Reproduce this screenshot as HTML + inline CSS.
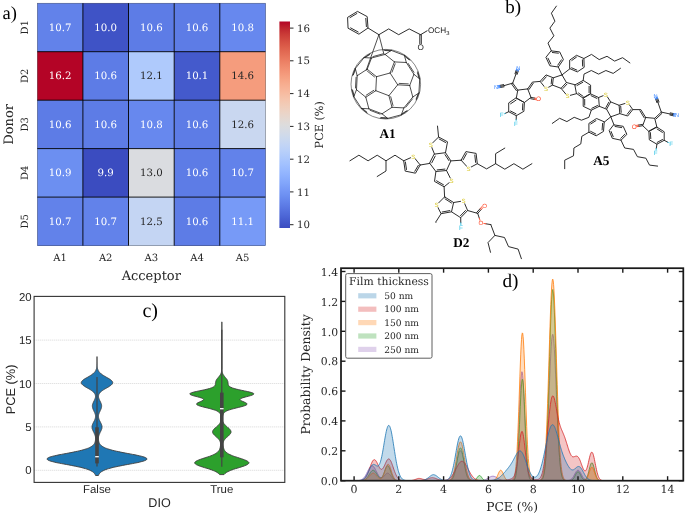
<!DOCTYPE html>
<html lang="en"><head><meta charset="utf-8"><title>Figure: PCE heatmap, molecules, DIO violin, film thickness KDE</title>
<style>html,body{margin:0;padding:0;background:#fff;}body{width:685px;height:513px;overflow:hidden;}svg{display:block;}#fig{width:685px;height:513px;will-change:transform;}text{white-space:pre;text-rendering:geometricPrecision;}</style>
</head><body>
<div id="fig">
<svg width="685" height="513" viewBox="0 0 685 513">
<g id="heat">
<rect x="37.3" y="3.2" width="45.9" height="48.8" fill="#6282ea"/>
<rect x="82.9" y="3.2" width="45.9" height="48.8" fill="#3f53c6"/>
<rect x="128.5" y="3.2" width="45.9" height="48.8" fill="#5d7ce6"/>
<rect x="174.2" y="3.2" width="45.9" height="48.8" fill="#5d7ce6"/>
<rect x="219.8" y="3.2" width="45.9" height="48.8" fill="#6788ee"/>
<rect x="37.3" y="51.7" width="45.9" height="48.8" fill="#b40426"/>
<rect x="82.9" y="51.7" width="45.9" height="48.8" fill="#5d7ce6"/>
<rect x="128.5" y="51.7" width="45.9" height="48.8" fill="#afcafc"/>
<rect x="174.2" y="51.7" width="45.9" height="48.8" fill="#445acc"/>
<rect x="219.8" y="51.7" width="45.9" height="48.8" fill="#f59c7d"/>
<rect x="37.3" y="100.2" width="45.9" height="48.8" fill="#5d7ce6"/>
<rect x="82.9" y="100.2" width="45.9" height="48.8" fill="#5d7ce6"/>
<rect x="128.5" y="100.2" width="45.9" height="48.8" fill="#6788ee"/>
<rect x="174.2" y="100.2" width="45.9" height="48.8" fill="#5d7ce6"/>
<rect x="219.8" y="100.2" width="45.9" height="48.8" fill="#c9d7f0"/>
<rect x="37.3" y="148.6" width="45.9" height="48.8" fill="#6c8ff1"/>
<rect x="82.9" y="148.6" width="45.9" height="48.8" fill="#3b4cc0"/>
<rect x="128.5" y="148.6" width="45.9" height="48.8" fill="#dadce0"/>
<rect x="174.2" y="148.6" width="45.9" height="48.8" fill="#5d7ce6"/>
<rect x="219.8" y="148.6" width="45.9" height="48.8" fill="#6282ea"/>
<rect x="37.3" y="197.1" width="45.9" height="48.8" fill="#6282ea"/>
<rect x="82.9" y="197.1" width="45.9" height="48.8" fill="#6282ea"/>
<rect x="128.5" y="197.1" width="45.9" height="48.8" fill="#c4d5f3"/>
<rect x="174.2" y="197.1" width="45.9" height="48.8" fill="#5d7ce6"/>
<rect x="219.8" y="197.1" width="45.9" height="48.8" fill="#779af7"/>
<line x1="82.9" y1="3.2" x2="82.9" y2="245.6" stroke="#000" stroke-width="0.9"/>
<line x1="37.3" y1="51.7" x2="265.4" y2="51.7" stroke="#000" stroke-width="0.9"/>
<line x1="128.5" y1="3.2" x2="128.5" y2="245.6" stroke="#000" stroke-width="0.9"/>
<line x1="37.3" y1="100.2" x2="265.4" y2="100.2" stroke="#000" stroke-width="0.9"/>
<line x1="174.2" y1="3.2" x2="174.2" y2="245.6" stroke="#000" stroke-width="0.9"/>
<line x1="37.3" y1="148.6" x2="265.4" y2="148.6" stroke="#000" stroke-width="0.9"/>
<line x1="219.8" y1="3.2" x2="219.8" y2="245.6" stroke="#000" stroke-width="0.9"/>
<line x1="37.3" y1="197.1" x2="265.4" y2="197.1" stroke="#000" stroke-width="0.9"/>
<rect x="37.3" y="3.2" width="228.1" height="242.4" fill="none" stroke="#000" stroke-width="0.5" stroke-opacity="0.55"/>
<text x="60.1" y="30.9" font-family='"DejaVu Serif", "Liberation Serif", serif' font-size="10.2" text-anchor="middle" fill="#ffffff">10.7</text>
<text x="105.7" y="30.9" font-family='"DejaVu Serif", "Liberation Serif", serif' font-size="10.2" text-anchor="middle" fill="#ffffff">10.0</text>
<text x="151.3" y="30.9" font-family='"DejaVu Serif", "Liberation Serif", serif' font-size="10.2" text-anchor="middle" fill="#ffffff">10.6</text>
<text x="197" y="30.9" font-family='"DejaVu Serif", "Liberation Serif", serif' font-size="10.2" text-anchor="middle" fill="#ffffff">10.6</text>
<text x="242.6" y="30.9" font-family='"DejaVu Serif", "Liberation Serif", serif' font-size="10.2" text-anchor="middle" fill="#ffffff">10.8</text>
<text x="60.1" y="79.4" font-family='"DejaVu Serif", "Liberation Serif", serif' font-size="10.2" text-anchor="middle" fill="#ffffff">16.2</text>
<text x="105.7" y="79.4" font-family='"DejaVu Serif", "Liberation Serif", serif' font-size="10.2" text-anchor="middle" fill="#ffffff">10.6</text>
<text x="151.3" y="79.4" font-family='"DejaVu Serif", "Liberation Serif", serif' font-size="10.2" text-anchor="middle" fill="#262626">12.1</text>
<text x="197" y="79.4" font-family='"DejaVu Serif", "Liberation Serif", serif' font-size="10.2" text-anchor="middle" fill="#ffffff">10.1</text>
<text x="242.6" y="79.4" font-family='"DejaVu Serif", "Liberation Serif", serif' font-size="10.2" text-anchor="middle" fill="#262626">14.6</text>
<text x="60.1" y="127.9" font-family='"DejaVu Serif", "Liberation Serif", serif' font-size="10.2" text-anchor="middle" fill="#ffffff">10.6</text>
<text x="105.7" y="127.9" font-family='"DejaVu Serif", "Liberation Serif", serif' font-size="10.2" text-anchor="middle" fill="#ffffff">10.6</text>
<text x="151.3" y="127.9" font-family='"DejaVu Serif", "Liberation Serif", serif' font-size="10.2" text-anchor="middle" fill="#ffffff">10.8</text>
<text x="197" y="127.9" font-family='"DejaVu Serif", "Liberation Serif", serif' font-size="10.2" text-anchor="middle" fill="#ffffff">10.6</text>
<text x="242.6" y="127.9" font-family='"DejaVu Serif", "Liberation Serif", serif' font-size="10.2" text-anchor="middle" fill="#262626">12.6</text>
<text x="60.1" y="176.4" font-family='"DejaVu Serif", "Liberation Serif", serif' font-size="10.2" text-anchor="middle" fill="#ffffff">10.9</text>
<text x="105.7" y="176.4" font-family='"DejaVu Serif", "Liberation Serif", serif' font-size="10.2" text-anchor="middle" fill="#ffffff">9.9</text>
<text x="151.3" y="176.4" font-family='"DejaVu Serif", "Liberation Serif", serif' font-size="10.2" text-anchor="middle" fill="#262626">13.0</text>
<text x="197" y="176.4" font-family='"DejaVu Serif", "Liberation Serif", serif' font-size="10.2" text-anchor="middle" fill="#ffffff">10.6</text>
<text x="242.6" y="176.4" font-family='"DejaVu Serif", "Liberation Serif", serif' font-size="10.2" text-anchor="middle" fill="#ffffff">10.7</text>
<text x="60.1" y="224.9" font-family='"DejaVu Serif", "Liberation Serif", serif' font-size="10.2" text-anchor="middle" fill="#ffffff">10.7</text>
<text x="105.7" y="224.9" font-family='"DejaVu Serif", "Liberation Serif", serif' font-size="10.2" text-anchor="middle" fill="#ffffff">10.7</text>
<text x="151.3" y="224.9" font-family='"DejaVu Serif", "Liberation Serif", serif' font-size="10.2" text-anchor="middle" fill="#262626">12.5</text>
<text x="197" y="224.9" font-family='"DejaVu Serif", "Liberation Serif", serif' font-size="10.2" text-anchor="middle" fill="#ffffff">10.6</text>
<text x="242.6" y="224.9" font-family='"DejaVu Serif", "Liberation Serif", serif' font-size="10.2" text-anchor="middle" fill="#ffffff">11.1</text>
<text x="60.1" y="261" font-family='"DejaVu Serif", "Liberation Serif", serif' font-size="10" text-anchor="middle" fill="#262626">A1</text>
<text x="105.7" y="261" font-family='"DejaVu Serif", "Liberation Serif", serif' font-size="10" text-anchor="middle" fill="#262626">A2</text>
<text x="151.3" y="261" font-family='"DejaVu Serif", "Liberation Serif", serif' font-size="10" text-anchor="middle" fill="#262626">A3</text>
<text x="197" y="261" font-family='"DejaVu Serif", "Liberation Serif", serif' font-size="10" text-anchor="middle" fill="#262626">A4</text>
<text x="242.6" y="261" font-family='"DejaVu Serif", "Liberation Serif", serif' font-size="10" text-anchor="middle" fill="#262626">A5</text>
<text transform="translate(28.0,27.4) rotate(-90)" font-family='"DejaVu Serif", "Liberation Serif", serif' font-size="10" text-anchor="middle" fill="#262626">D1</text>
<text transform="translate(28.0,75.9) rotate(-90)" font-family='"DejaVu Serif", "Liberation Serif", serif' font-size="10" text-anchor="middle" fill="#262626">D2</text>
<text transform="translate(28.0,124.4) rotate(-90)" font-family='"DejaVu Serif", "Liberation Serif", serif' font-size="10" text-anchor="middle" fill="#262626">D3</text>
<text transform="translate(28.0,172.9) rotate(-90)" font-family='"DejaVu Serif", "Liberation Serif", serif' font-size="10" text-anchor="middle" fill="#262626">D4</text>
<text transform="translate(28.0,221.4) rotate(-90)" font-family='"DejaVu Serif", "Liberation Serif", serif' font-size="10" text-anchor="middle" fill="#262626">D5</text>
<text x="151.3" y="279.9" font-family='"DejaVu Serif", "Liberation Serif", serif' font-size="13" text-anchor="middle" fill="#262626">Acceptor</text>
<text transform="translate(12.5,124.4) rotate(-90)" font-family='"DejaVu Serif", "Liberation Serif", serif' font-size="13" text-anchor="middle" fill="#262626">Donor</text>
<defs><linearGradient id="cw" x1="0" y1="1" x2="0" y2="0">
<stop offset="0.0000" stop-color="#3b4cc0"/>
<stop offset="0.0312" stop-color="#445acc"/>
<stop offset="0.0625" stop-color="#4e68d8"/>
<stop offset="0.0938" stop-color="#5875e1"/>
<stop offset="0.1250" stop-color="#6282ea"/>
<stop offset="0.1562" stop-color="#6c8ff1"/>
<stop offset="0.1875" stop-color="#779af7"/>
<stop offset="0.2188" stop-color="#82a6fb"/>
<stop offset="0.2500" stop-color="#8db0fe"/>
<stop offset="0.2812" stop-color="#98b9ff"/>
<stop offset="0.3125" stop-color="#a3c2fe"/>
<stop offset="0.3438" stop-color="#aec9fc"/>
<stop offset="0.3750" stop-color="#b9d0f9"/>
<stop offset="0.4062" stop-color="#c3d5f4"/>
<stop offset="0.4375" stop-color="#ccd9ed"/>
<stop offset="0.4688" stop-color="#d5dbe5"/>
<stop offset="0.5000" stop-color="#dddcdc"/>
<stop offset="0.5312" stop-color="#e5d8d1"/>
<stop offset="0.5625" stop-color="#ecd3c5"/>
<stop offset="0.5938" stop-color="#f1ccb8"/>
<stop offset="0.6250" stop-color="#f5c4ac"/>
<stop offset="0.6562" stop-color="#f7ba9f"/>
<stop offset="0.6875" stop-color="#f7b093"/>
<stop offset="0.7188" stop-color="#f6a586"/>
<stop offset="0.7500" stop-color="#f4987a"/>
<stop offset="0.7812" stop-color="#f08b6e"/>
<stop offset="0.8125" stop-color="#eb7d62"/>
<stop offset="0.8438" stop-color="#e46e56"/>
<stop offset="0.8750" stop-color="#dd5f4b"/>
<stop offset="0.9062" stop-color="#d44e41"/>
<stop offset="0.9375" stop-color="#ca3b37"/>
<stop offset="0.9688" stop-color="#be242e"/>
<stop offset="1.0000" stop-color="#b40426"/>
</linearGradient></defs>
<rect x="279.4" y="21.5" width="10.6" height="206.5" fill="url(#cw)"/>
<line x1="290.0" y1="224.7" x2="293.5" y2="224.7" stroke="#262626" stroke-width="1"/>
<text x="297.0" y="228.3" font-family='"DejaVu Serif", "Liberation Serif", serif' font-size="10.2" fill="#262626">10</text>
<line x1="290.0" y1="191.9" x2="293.5" y2="191.9" stroke="#262626" stroke-width="1"/>
<text x="297.0" y="195.5" font-family='"DejaVu Serif", "Liberation Serif", serif' font-size="10.2" fill="#262626">11</text>
<line x1="290.0" y1="159.2" x2="293.5" y2="159.2" stroke="#262626" stroke-width="1"/>
<text x="297.0" y="162.8" font-family='"DejaVu Serif", "Liberation Serif", serif' font-size="10.2" fill="#262626">12</text>
<line x1="290.0" y1="126.4" x2="293.5" y2="126.4" stroke="#262626" stroke-width="1"/>
<text x="297.0" y="130" font-family='"DejaVu Serif", "Liberation Serif", serif' font-size="10.2" fill="#262626">13</text>
<line x1="290.0" y1="93.6" x2="293.5" y2="93.6" stroke="#262626" stroke-width="1"/>
<text x="297.0" y="97.2" font-family='"DejaVu Serif", "Liberation Serif", serif' font-size="10.2" fill="#262626">14</text>
<line x1="290.0" y1="60.8" x2="293.5" y2="60.8" stroke="#262626" stroke-width="1"/>
<text x="297.0" y="64.4" font-family='"DejaVu Serif", "Liberation Serif", serif' font-size="10.2" fill="#262626">15</text>
<line x1="290.0" y1="28.1" x2="293.5" y2="28.1" stroke="#262626" stroke-width="1"/>
<text x="297.0" y="31.7" font-family='"DejaVu Serif", "Liberation Serif", serif' font-size="10.2" fill="#262626">16</text>
<text transform="translate(323.3,124.8) rotate(-90)" font-family='"DejaVu Serif", "Liberation Serif", serif' font-size="11.2" text-anchor="middle" fill="#262626">PCE (%)</text>
<text x="2.5" y="19" font-family='"Liberation Serif", "DejaVu Serif", serif' font-size="18.5" fill="#000">a)</text>
</g>
<g id="violin">
<rect x="34.1" y="296.4" width="250.7" height="186" fill="#fff"/>
<line x1="34.1" y1="470.3" x2="284.8" y2="470.3" stroke="#d6d6d6" stroke-width="0.8" stroke-dasharray="1.2,0.8"/>
<line x1="34.1" y1="426.9" x2="284.8" y2="426.9" stroke="#d6d6d6" stroke-width="0.8" stroke-dasharray="1.2,0.8"/>
<line x1="34.1" y1="383.5" x2="284.8" y2="383.5" stroke="#d6d6d6" stroke-width="0.8" stroke-dasharray="1.2,0.8"/>
<line x1="34.1" y1="340.1" x2="284.8" y2="340.1" stroke="#d6d6d6" stroke-width="0.8" stroke-dasharray="1.2,0.8"/>
<path d="M98.4,475.5 L98.6,475 L98.8,474.6 L99.1,474.1 L99.4,473.7 L99.8,473.2 L100.2,472.8 L100.7,472.3 L101.3,471.8 L102,471.4 L102.8,470.9 L103.7,470.5 L104.7,470 L105.9,469.5 L107.2,469.1 L108.7,468.6 L110.3,468.2 L112,467.7 L113.9,467.2 L116,466.8 L118.1,466.3 L120.4,465.9 L122.7,465.4 L125.2,464.9 L127.6,464.5 L130.1,464 L132.5,463.6 L134.9,463.1 L137.2,462.7 L139.3,462.2 L141.2,461.7 L142.9,461.3 L144.3,460.8 L145.4,460.4 L146.3,459.9 L146.8,459.4 L147,459 L146.8,458.5 L146.3,458.1 L145.4,457.6 L144.3,457.1 L142.9,456.7 L141.2,456.2 L139.3,455.8 L137.2,455.3 L135,454.8 L132.6,454.4 L130.2,453.9 L127.8,453.5 L125.4,453 L123,452.6 L120.7,452.1 L118.4,451.6 L116.3,451.2 L114.3,450.7 L112.5,450.3 L110.8,449.8 L109.2,449.3 L107.8,448.9 L106.5,448.4 L105.3,448 L104.3,447.5 L103.4,447 L102.7,446.6 L102,446.1 L101.4,445.7 L100.9,445.2 L100.4,444.7 L100.1,444.3 L99.7,443.8 L99.5,443.4 L99.2,442.9 L99.1,442.5 L98.9,442 L98.8,441.5 L98.6,441.1 L98.6,440.6 L98.5,440.2 L98.4,439.7 L98.4,439.2 L98.4,438.8 L98.4,438.3 L98.4,437.9 L98.5,437.4 L98.6,436.9 L98.6,436.5 L98.8,436 L98.9,435.6 L99,435.1 L99.2,434.6 L99.4,434.2 L99.6,433.7 L99.8,433.3 L100,432.8 L100.2,432.3 L100.4,431.9 L100.7,431.4 L100.9,431 L101.1,430.5 L101.3,430.1 L101.5,429.6 L101.6,429.1 L101.8,428.7 L101.9,428.2 L101.9,427.8 L102,427.3 L102,426.8 L102,426.4 L101.9,425.9 L101.8,425.5 L101.7,425 L101.5,424.5 L101.3,424.1 L101.1,423.6 L100.9,423.2 L100.7,422.7 L100.4,422.2 L100.2,421.8 L100,421.3 L99.7,420.9 L99.5,420.4 L99.3,420 L99.1,419.5 L98.9,419 L98.8,418.6 L98.7,418.1 L98.6,417.7 L98.5,417.2 L98.5,416.7 L98.5,416.3 L98.5,415.8 L98.5,415.4 L98.6,414.9 L98.7,414.4 L98.8,414 L99,413.5 L99.2,413.1 L99.3,412.6 L99.5,412.1 L99.8,411.7 L100,411.2 L100.2,410.8 L100.4,410.3 L100.6,409.9 L100.8,409.4 L101,408.9 L101.2,408.5 L101.3,408 L101.4,407.6 L101.5,407.1 L101.6,406.6 L101.6,406.2 L101.6,405.7 L101.6,405.3 L101.5,404.8 L101.4,404.3 L101.2,403.9 L101.1,403.4 L100.9,403 L100.7,402.5 L100.5,402 L100.3,401.6 L100.1,401.1 L99.8,400.7 L99.6,400.2 L99.4,399.8 L99.2,399.3 L99,398.8 L98.9,398.4 L98.7,397.9 L98.6,397.5 L98.6,397 L98.5,396.5 L98.5,396.1 L98.6,395.6 L98.6,395.2 L98.8,394.7 L98.9,394.2 L99.2,393.8 L99.5,393.3 L99.8,392.9 L100.2,392.4 L100.7,391.9 L101.2,391.5 L101.7,391 L102.4,390.6 L103,390.1 L103.8,389.6 L104.5,389.2 L105.3,388.7 L106.1,388.3 L106.9,387.8 L107.7,387.4 L108.5,386.9 L109.2,386.4 L109.9,386 L110.6,385.5 L111.2,385.1 L111.7,384.6 L112.1,384.1 L112.4,383.7 L112.6,383.2 L112.7,382.8 L112.7,382.3 L112.5,381.8 L112.3,381.4 L111.9,380.9 L111.5,380.5 L110.9,380 L110.3,379.5 L109.6,379.1 L108.9,378.6 L108.1,378.2 L107.3,377.7 L106.5,377.3 L105.7,376.8 L104.9,376.3 L104.1,375.9 L103.4,375.4 L102.7,375 L102,374.5 L101.4,374 L100.8,373.6 L100.3,373.1 L99.8,372.7 L99.4,372.2 L99,371.7 L98.7,371.3 L98.4,370.8 L98.2,370.4 L98,369.9 L97.8,369.4 L97.6,369 L97.5,368.5 L97.4,368.1 L97.3,367.6 L97.3,367.2 L97.2,366.7 L97.2,366.2 L97.1,365.8 L97.1,365.3 L97.1,364.9 L97.1,364.4 L97,363.9 L97,363.5 L97,363 L97,362.6 L97,362.1 L97,361.6 L97,361.2 L97,360.7 L97,360.3 L97,359.8 L97,359.3 L97,358.9 L97,358.4 L97,358 L97,357.5 L97,357.1 L97,356.6 L97,356.6 L97,357.1 L97,357.5 L97,358 L97,358.4 L97,358.9 L97,359.3 L97,359.8 L97,360.3 L97,360.7 L97,361.2 L97,361.6 L97,362.1 L97,362.6 L97,363 L97,363.5 L97,363.9 L96.9,364.4 L96.9,364.9 L96.9,365.3 L96.9,365.8 L96.8,366.2 L96.8,366.7 L96.7,367.2 L96.7,367.6 L96.6,368.1 L96.5,368.5 L96.4,369 L96.2,369.4 L96,369.9 L95.8,370.4 L95.6,370.8 L95.3,371.3 L95,371.7 L94.6,372.2 L94.2,372.7 L93.7,373.1 L93.2,373.6 L92.6,374 L92,374.5 L91.3,375 L90.6,375.4 L89.9,375.9 L89.1,376.3 L88.3,376.8 L87.5,377.3 L86.7,377.7 L85.9,378.2 L85.1,378.6 L84.4,379.1 L83.7,379.5 L83.1,380 L82.5,380.5 L82.1,380.9 L81.7,381.4 L81.5,381.8 L81.3,382.3 L81.3,382.8 L81.4,383.2 L81.6,383.7 L81.9,384.1 L82.3,384.6 L82.8,385.1 L83.4,385.5 L84.1,386 L84.8,386.4 L85.5,386.9 L86.3,387.4 L87.1,387.8 L87.9,388.3 L88.7,388.7 L89.5,389.2 L90.2,389.6 L91,390.1 L91.6,390.6 L92.3,391 L92.8,391.5 L93.3,391.9 L93.8,392.4 L94.2,392.9 L94.5,393.3 L94.8,393.8 L95.1,394.2 L95.2,394.7 L95.4,395.2 L95.4,395.6 L95.5,396.1 L95.5,396.5 L95.4,397 L95.4,397.5 L95.3,397.9 L95.1,398.4 L95,398.8 L94.8,399.3 L94.6,399.8 L94.4,400.2 L94.2,400.7 L93.9,401.1 L93.7,401.6 L93.5,402 L93.3,402.5 L93.1,403 L92.9,403.4 L92.8,403.9 L92.6,404.3 L92.5,404.8 L92.4,405.3 L92.4,405.7 L92.4,406.2 L92.4,406.6 L92.5,407.1 L92.6,407.6 L92.7,408 L92.8,408.5 L93,408.9 L93.2,409.4 L93.4,409.9 L93.6,410.3 L93.8,410.8 L94,411.2 L94.2,411.7 L94.5,412.1 L94.7,412.6 L94.8,413.1 L95,413.5 L95.2,414 L95.3,414.4 L95.4,414.9 L95.5,415.4 L95.5,415.8 L95.5,416.3 L95.5,416.7 L95.5,417.2 L95.4,417.7 L95.3,418.1 L95.2,418.6 L95.1,419 L94.9,419.5 L94.7,420 L94.5,420.4 L94.3,420.9 L94,421.3 L93.8,421.8 L93.6,422.2 L93.3,422.7 L93.1,423.2 L92.9,423.6 L92.7,424.1 L92.5,424.5 L92.3,425 L92.2,425.5 L92.1,425.9 L92,426.4 L92,426.8 L92,427.3 L92.1,427.8 L92.1,428.2 L92.2,428.7 L92.4,429.1 L92.5,429.6 L92.7,430.1 L92.9,430.5 L93.1,431 L93.3,431.4 L93.6,431.9 L93.8,432.3 L94,432.8 L94.2,433.3 L94.4,433.7 L94.6,434.2 L94.8,434.6 L95,435.1 L95.1,435.6 L95.2,436 L95.4,436.5 L95.4,436.9 L95.5,437.4 L95.6,437.9 L95.6,438.3 L95.6,438.8 L95.6,439.2 L95.6,439.7 L95.5,440.2 L95.4,440.6 L95.4,441.1 L95.2,441.5 L95.1,442 L94.9,442.5 L94.8,442.9 L94.5,443.4 L94.3,443.8 L93.9,444.3 L93.6,444.7 L93.1,445.2 L92.6,445.7 L92,446.1 L91.3,446.6 L90.6,447 L89.7,447.5 L88.7,448 L87.5,448.4 L86.2,448.9 L84.8,449.3 L83.2,449.8 L81.5,450.3 L79.7,450.7 L77.7,451.2 L75.6,451.6 L73.3,452.1 L71,452.6 L68.6,453 L66.2,453.5 L63.8,453.9 L61.4,454.4 L59,454.8 L56.8,455.3 L54.7,455.8 L52.8,456.2 L51.1,456.7 L49.7,457.1 L48.6,457.6 L47.7,458.1 L47.2,458.5 L47,459 L47.2,459.4 L47.7,459.9 L48.6,460.4 L49.7,460.8 L51.1,461.3 L52.8,461.7 L54.7,462.2 L56.8,462.7 L59.1,463.1 L61.5,463.6 L63.9,464 L66.4,464.5 L68.8,464.9 L71.3,465.4 L73.6,465.9 L75.9,466.3 L78,466.8 L80.1,467.2 L82,467.7 L83.7,468.2 L85.3,468.6 L86.8,469.1 L88.1,469.5 L89.3,470 L90.3,470.5 L91.2,470.9 L92,471.4 L92.7,471.8 L93.3,472.3 L93.8,472.8 L94.2,473.2 L94.6,473.7 L94.9,474.1 L95.2,474.6 L95.4,475 L95.6,475.5Z" fill="#1f77b4" stroke="#3d3d3d" stroke-width="0.9" stroke-linejoin="round"/>
<path d="M224,474.6 L224.5,474.1 L225.1,473.5 L225.8,472.9 L226.7,472.3 L227.8,471.7 L229,471.1 L230.4,470.5 L231.9,469.9 L233.6,469.3 L235.4,468.7 L237.2,468.2 L239.2,467.6 L241.1,467 L242.9,466.4 L244.6,465.8 L246,465.2 L247.3,464.6 L248.2,464 L248.7,463.4 L248.9,462.8 L248.8,462.3 L248.2,461.7 L247.3,461.1 L246.2,460.5 L244.7,459.9 L243.1,459.3 L241.4,458.7 L239.5,458.1 L237.7,457.5 L235.9,456.9 L234.2,456.4 L232.6,455.8 L231.2,455.2 L229.9,454.6 L228.7,454 L227.7,453.4 L226.9,452.8 L226.1,452.2 L225.5,451.6 L225,451 L224.6,450.5 L224.3,449.9 L224,449.3 L223.8,448.7 L223.6,448.1 L223.4,447.5 L223.3,446.9 L223.2,446.3 L223.1,445.7 L223,445.1 L223,444.6 L223,444 L223,443.4 L223.1,442.8 L223.3,442.2 L223.5,441.6 L223.7,441 L224,440.4 L224.4,439.8 L224.9,439.2 L225.4,438.7 L226,438.1 L226.6,437.5 L227.2,436.9 L227.9,436.3 L228.6,435.7 L229.2,435.1 L229.8,434.5 L230.2,433.9 L230.6,433.4 L230.9,432.8 L231,432.2 L231,431.6 L230.9,431 L230.6,430.4 L230.2,429.8 L229.7,429.2 L229.2,428.6 L228.5,428 L227.8,427.5 L227.2,426.9 L226.5,426.3 L225.8,425.7 L225.2,425.1 L224.7,424.5 L224.2,423.9 L223.7,423.3 L223.4,422.7 L223.1,422.1 L222.8,421.6 L222.6,421 L222.5,420.4 L222.4,419.8 L222.4,419.2 L222.3,418.6 L222.4,418 L222.4,417.4 L222.5,416.8 L222.6,416.2 L222.7,415.7 L222.9,415.1 L223.1,414.5 L223.3,413.9 L223.7,413.3 L224.2,412.7 L224.8,412.1 L225.7,411.5 L226.7,410.9 L228.1,410.3 L229.7,409.8 L231.6,409.2 L233.8,408.6 L236.2,408 L238.6,407.4 L241,406.8 L243.2,406.2 L245,405.6 L246.3,405 L247,404.4 L247.1,403.9 L246.6,403.3 L245.6,402.7 L244.3,402.1 L242.9,401.5 L241.6,400.9 L240.6,400.3 L240,399.7 L240.1,399.1 L240.8,398.6 L242.1,398 L244,397.4 L246.2,396.8 L248.5,396.2 L250.7,395.6 L252.4,395 L253.5,394.4 L253.8,393.8 L253.3,393.2 L251.9,392.7 L249.9,392.1 L247.3,391.5 L244.5,390.9 L241.6,390.3 L238.8,389.7 L236.3,389.1 L234.1,388.5 L232.3,387.9 L230.9,387.3 L229.9,386.8 L229.2,386.2 L228.7,385.6 L228.3,385 L228.2,384.4 L228.1,383.8 L228,383.2 L228,382.6 L227.9,382 L227.8,381.4 L227.6,380.9 L227.4,380.3 L227.1,379.7 L226.7,379.1 L226.2,378.5 L225.7,377.9 L225.2,377.3 L224.7,376.7 L224.3,376.1 L223.8,375.5 L223.4,375 L223.1,374.4 L222.8,373.8 L222.5,373.2 L222.3,372.6 L222.2,372 L222.1,371.4 L222,370.8 L221.9,370.2 L221.9,369.6 L221.9,369.1 L221.9,368.5 L221.9,367.9 L221.9,367.3 L221.9,366.7 L221.9,366.1 L221.9,365.5 L221.9,364.9 L221.9,364.3 L221.9,363.8 L221.9,363.2 L221.9,362.6 L221.9,362 L221.9,361.4 L221.9,360.8 L221.9,360.2 L221.9,359.6 L221.9,359 L221.9,358.4 L221.9,357.9 L221.9,357.3 L221.9,356.7 L221.9,356.1 L221.9,355.5 L221.9,354.9 L221.9,354.3 L221.9,353.7 L221.9,353.1 L221.9,352.5 L221.9,352 L221.9,351.4 L221.9,350.8 L221.9,350.2 L221.9,349.6 L221.9,349 L221.9,348.4 L221.9,347.8 L221.9,347.2 L221.9,346.6 L221.9,346.1 L221.9,345.5 L221.9,344.9 L221.9,344.3 L221.9,343.7 L221.9,343.1 L221.9,342.5 L221.9,341.9 L221.9,341.3 L221.9,340.7 L221.9,340.2 L221.9,339.6 L221.9,339 L221.9,338.4 L221.9,337.8 L221.9,337.2 L221.9,336.6 L221.9,336 L221.9,335.4 L221.9,334.8 L221.9,334.3 L221.9,333.7 L221.9,333.1 L221.9,332.5 L221.9,331.9 L221.9,331.3 L221.9,330.7 L221.9,330.1 L221.9,329.5 L221.9,329 L221.9,328.4 L221.9,327.8 L221.9,327.2 L221.9,326.6 L221.9,326 L221.9,325.4 L221.9,324.8 L221.9,324.2 L221.9,323.6 L221.9,323.1 L221.9,322.5 L221.9,321.9 L221.8,321.9 L221.8,322.5 L221.8,323.1 L221.8,323.6 L221.8,324.2 L221.8,324.8 L221.8,325.4 L221.8,326 L221.8,326.6 L221.8,327.2 L221.8,327.8 L221.8,328.4 L221.8,329 L221.8,329.5 L221.8,330.1 L221.8,330.7 L221.8,331.3 L221.8,331.9 L221.8,332.5 L221.8,333.1 L221.8,333.7 L221.8,334.3 L221.8,334.8 L221.8,335.4 L221.8,336 L221.8,336.6 L221.8,337.2 L221.8,337.8 L221.8,338.4 L221.8,339 L221.8,339.6 L221.8,340.2 L221.8,340.7 L221.8,341.3 L221.8,341.9 L221.8,342.5 L221.8,343.1 L221.8,343.7 L221.8,344.3 L221.8,344.9 L221.8,345.5 L221.8,346.1 L221.8,346.6 L221.8,347.2 L221.8,347.8 L221.8,348.4 L221.8,349 L221.8,349.6 L221.8,350.2 L221.8,350.8 L221.8,351.4 L221.8,352 L221.8,352.5 L221.8,353.1 L221.8,353.7 L221.8,354.3 L221.8,354.9 L221.8,355.5 L221.8,356.1 L221.8,356.7 L221.8,357.3 L221.8,357.9 L221.8,358.4 L221.8,359 L221.8,359.6 L221.8,360.2 L221.8,360.8 L221.8,361.4 L221.8,362 L221.8,362.6 L221.8,363.2 L221.8,363.8 L221.8,364.3 L221.8,364.9 L221.8,365.5 L221.8,366.1 L221.8,366.7 L221.8,367.3 L221.8,367.9 L221.8,368.5 L221.7,369.1 L221.7,369.6 L221.7,370.2 L221.6,370.8 L221.5,371.4 L221.4,372 L221.3,372.6 L221.1,373.2 L220.8,373.8 L220.5,374.4 L220.2,375 L219.8,375.5 L219.3,376.1 L218.9,376.7 L218.4,377.3 L217.9,377.9 L217.4,378.5 L216.9,379.1 L216.5,379.7 L216.2,380.3 L216,380.9 L215.8,381.4 L215.7,382 L215.6,382.6 L215.6,383.2 L215.5,383.8 L215.4,384.4 L215.3,385 L214.9,385.6 L214.4,386.2 L213.7,386.8 L212.7,387.3 L211.3,387.9 L209.5,388.5 L207.3,389.1 L204.8,389.7 L202,390.3 L199.1,390.9 L196.3,391.5 L193.7,392.1 L191.7,392.7 L190.3,393.2 L189.8,393.8 L190.1,394.4 L191.2,395 L192.9,395.6 L195.1,396.2 L197.4,396.8 L199.6,397.4 L201.5,398 L202.8,398.6 L203.5,399.1 L203.6,399.7 L203,400.3 L202,400.9 L200.7,401.5 L199.3,402.1 L198,402.7 L197,403.3 L196.5,403.9 L196.6,404.4 L197.3,405 L198.6,405.6 L200.4,406.2 L202.6,406.8 L205,407.4 L207.4,408 L209.8,408.6 L212,409.2 L213.9,409.8 L215.5,410.3 L216.9,410.9 L217.9,411.5 L218.8,412.1 L219.4,412.7 L219.9,413.3 L220.3,413.9 L220.5,414.5 L220.7,415.1 L220.9,415.7 L221,416.2 L221.1,416.8 L221.2,417.4 L221.2,418 L221.3,418.6 L221.2,419.2 L221.2,419.8 L221.1,420.4 L221,421 L220.8,421.6 L220.5,422.1 L220.2,422.7 L219.9,423.3 L219.4,423.9 L218.9,424.5 L218.4,425.1 L217.8,425.7 L217.1,426.3 L216.4,426.9 L215.8,427.5 L215.1,428 L214.4,428.6 L213.9,429.2 L213.4,429.8 L213,430.4 L212.7,431 L212.6,431.6 L212.6,432.2 L212.7,432.8 L213,433.4 L213.4,433.9 L213.8,434.5 L214.4,435.1 L215,435.7 L215.7,436.3 L216.4,436.9 L217,437.5 L217.6,438.1 L218.2,438.7 L218.7,439.2 L219.2,439.8 L219.6,440.4 L219.9,441 L220.1,441.6 L220.3,442.2 L220.5,442.8 L220.6,443.4 L220.6,444 L220.6,444.6 L220.6,445.1 L220.5,445.7 L220.4,446.3 L220.3,446.9 L220.2,447.5 L220,448.1 L219.8,448.7 L219.6,449.3 L219.3,449.9 L219,450.5 L218.6,451 L218.1,451.6 L217.5,452.2 L216.7,452.8 L215.9,453.4 L214.9,454 L213.7,454.6 L212.4,455.2 L211,455.8 L209.4,456.4 L207.7,456.9 L205.9,457.5 L204.1,458.1 L202.2,458.7 L200.5,459.3 L198.9,459.9 L197.4,460.5 L196.3,461.1 L195.4,461.7 L194.8,462.3 L194.7,462.8 L194.9,463.4 L195.4,464 L196.3,464.6 L197.6,465.2 L199,465.8 L200.7,466.4 L202.5,467 L204.4,467.6 L206.4,468.2 L208.2,468.7 L210,469.3 L211.7,469.9 L213.2,470.5 L214.6,471.1 L215.8,471.7 L216.9,472.3 L217.8,472.9 L218.5,473.5 L219.1,474.1 L219.6,474.6Z" fill="#2ca02c" stroke="#3d3d3d" stroke-width="0.9" stroke-linejoin="round"/>
<line x1="97.0" y1="466.4" x2="97.0" y2="377" stroke="#444" stroke-width="1.2"/>
<line x1="97.0" y1="463.4" x2="97.0" y2="427.3" stroke="#444" stroke-width="3.6"/>
<line x1="95.2" y1="456.7" x2="98.8" y2="456.7" stroke="#fff" stroke-width="1.3"/>
<line x1="221.8" y1="466.8" x2="221.8" y2="329.7" stroke="#444" stroke-width="1.2"/>
<line x1="221.8" y1="457.3" x2="221.8" y2="392.6" stroke="#444" stroke-width="3.6"/>
<line x1="220" y1="408.7" x2="223.6" y2="408.7" stroke="#fff" stroke-width="1.3"/>
<rect x="34.1" y="296.4" width="250.7" height="186" fill="none" stroke="#333" stroke-width="1.1"/>
<text x="31.6" y="474.3" font-family='"Liberation Sans", "DejaVu Sans", sans-serif' font-size="11.4" text-anchor="end" fill="#262626">0</text>
<text x="31.6" y="430.9" font-family='"Liberation Sans", "DejaVu Sans", sans-serif' font-size="11.4" text-anchor="end" fill="#262626">5</text>
<text x="31.6" y="387.5" font-family='"Liberation Sans", "DejaVu Sans", sans-serif' font-size="11.4" text-anchor="end" fill="#262626">10</text>
<text x="31.6" y="344.1" font-family='"Liberation Sans", "DejaVu Sans", sans-serif' font-size="11.4" text-anchor="end" fill="#262626">15</text>
<text x="31.6" y="300.7" font-family='"Liberation Sans", "DejaVu Sans", sans-serif' font-size="11.4" text-anchor="end" fill="#262626">20</text>
<text x="97.0" y="493.3" font-family='"Liberation Sans", "DejaVu Sans", sans-serif' font-size="11.4" text-anchor="middle" fill="#262626">False</text>
<text x="221.8" y="493.3" font-family='"Liberation Sans", "DejaVu Sans", sans-serif' font-size="11.4" text-anchor="middle" fill="#262626">True</text>
<text x="159.5" y="507.3" font-family='"Liberation Sans", "DejaVu Sans", sans-serif' font-size="12.6" text-anchor="middle" fill="#262626">DIO</text>
<text transform="translate(14.5,389.4) rotate(-90)" font-family='"Liberation Sans", "DejaVu Sans", sans-serif' font-size="12.8" text-anchor="middle" fill="#262626">PCE (%)</text>
<text x="142.4" y="317.1" font-family='"Liberation Serif", "DejaVu Serif", serif' font-size="20" fill="#000">c)</text>
</g>
<g id="kde">
<clipPath id="kc"><rect x="341.0" y="268.2" width="342.3" height="212.5"/></clipPath>
<path d="M347.3,480.7 L347.3,480.7 L347.7,480.7 L348.1,480.7 L348.5,480.7 L348.9,480.7 L349.3,480.7 L349.7,480.7 L350.1,480.7 L350.5,480.7 L350.9,480.7 L351.3,480.7 L351.7,480.7 L352.1,480.7 L352.5,480.7 L352.9,480.7 L353.3,480.7 L353.7,480.7 L354.1,480.7 L354.5,480.7 L354.9,480.7 L355.3,480.7 L355.7,480.7 L356.1,480.7 L356.5,480.7 L356.9,480.6 L357.3,480.6 L357.7,480.6 L358.1,480.6 L358.5,480.5 L358.9,480.5 L359.3,480.4 L359.7,480.3 L360.1,480.2 L360.5,480.1 L360.9,480 L361.3,479.8 L361.7,479.6 L362.1,479.3 L362.5,479.1 L363,478.7 L363.4,478.4 L363.8,477.9 L364.2,477.4 L364.6,476.9 L365,476.3 L365.4,475.7 L365.8,475 L366.2,474.3 L366.6,473.5 L367,472.7 L367.4,471.9 L367.8,471.1 L368.2,470.3 L368.6,469.5 L369,468.8 L369.4,468.1 L369.8,467.5 L370.2,466.9 L370.6,466.5 L371,466.1 L371.4,465.9 L371.8,465.8 L372.2,465.8 L372.6,465.9 L373,466.1 L373.4,466.5 L373.8,466.9 L374.2,467.5 L374.6,468.1 L375,468.8 L375.4,469.5 L375.8,470.3 L376.2,471.1 L376.6,471.9 L377,472.6 L377.4,473.4 L377.8,474.1 L378.2,474.8 L378.6,475.5 L379,476 L379.4,476.5 L379.8,476.9 L380.2,477.3 L380.6,477.5 L381,477.7 L381.4,477.7 L381.8,477.7 L382.2,477.6 L382.6,477.4 L383,477.1 L383.4,476.8 L383.8,476.4 L384.2,476 L384.6,475.5 L385,475 L385.4,474.6 L385.8,474.2 L386.2,473.8 L386.6,473.5 L387,473.3 L387.4,473.2 L387.8,473.2 L388.2,473.3 L388.6,473.5 L389,473.8 L389.4,474.2 L389.8,474.6 L390.2,475.1 L390.6,475.6 L391,476.1 L391.4,476.7 L391.8,477.2 L392.2,477.7 L392.6,478.2 L393,478.6 L393.4,479 L393.8,479.3 L394.2,479.6 L394.6,479.8 L395,480 L395.4,480.2 L395.8,480.3 L396.2,480.4 L396.6,480.5 L397,480.5 L397.4,480.6 L397.8,480.6 L398.2,480.6 L398.6,480.7 L399,480.7 L399.4,480.7 L399.8,480.7 L400.2,480.7 L400.6,480.7 L401,480.7 L401.4,480.7 L401.8,480.7 L402.2,480.7 L402.6,480.7 L403,480.7 L403.4,480.7 L403.8,480.7 L404.2,480.7 L404.6,480.7 L405,480.7 L405.4,480.7 L405.8,480.7 L406.2,480.7 L406.6,480.7 L407,480.7 L407.4,480.7 L407.8,480.7 L408.2,480.7 L408.6,480.7 L409,480.7 L409.4,480.7 L409.8,480.7 L410.2,480.7 L410.6,480.7 L411,480.7 L411.4,480.7 L411.8,480.7 L412.2,480.7 L412.6,480.7 L413,480.7 L413.4,480.7 L413.8,480.7 L414.2,480.7 L414.6,480.7 L415,480.7 L415.4,480.7 L415.8,480.7 L416.2,480.7 L416.6,480.7 L417,480.7 L417.4,480.7 L417.8,480.7 L418.2,480.7 L418.6,480.7 L419,480.7 L419.4,480.7 L419.8,480.7 L420.2,480.7 L420.6,480.7 L421,480.7 L421.4,480.7 L421.8,480.7 L422.2,480.7 L422.6,480.7 L423,480.7 L423.4,480.7 L423.8,480.7 L424.2,480.7 L424.6,480.7 L425,480.7 L425.4,480.7 L425.8,480.7 L426.2,480.7 L426.6,480.7 L427,480.7 L427.4,480.7 L427.8,480.7 L428.2,480.7 L428.6,480.7 L429,480.7 L429.4,480.7 L429.8,480.7 L430.2,480.7 L430.6,480.7 L431,480.7 L431.4,480.7 L431.8,480.7 L432.2,480.7 L432.6,480.7 L433,480.7 L433.4,480.7 L433.8,480.7 L434.2,480.7 L434.6,480.7 L435,480.7 L435.4,480.7 L435.8,480.7 L436.2,480.7 L436.6,480.7 L437,480.7 L437.4,480.7 L437.8,480.7 L438.2,480.7 L438.6,480.7 L439,480.7 L439.4,480.7 L439.8,480.7 L440.2,480.7 L440.6,480.7 L441,480.7 L441.4,480.7 L441.8,480.7 L442.2,480.7 L442.6,480.7 L443,480.7 L443.4,480.7 L443.8,480.7 L444.2,480.7 L444.6,480.7 L445,480.7 L445.4,480.7 L445.9,480.7 L446.3,480.7 L446.7,480.7 L447.1,480.6 L447.5,480.6 L447.9,480.6 L448.3,480.5 L448.7,480.4 L449.1,480.4 L449.5,480.2 L449.9,480.1 L450.3,479.9 L450.7,479.6 L451.1,479.3 L451.5,478.8 L451.9,478.3 L452.3,477.7 L452.7,477 L453.1,476.1 L453.5,475.1 L453.9,473.9 L454.3,472.6 L454.7,471.2 L455.1,469.6 L455.5,467.9 L455.9,466.1 L456.3,464.3 L456.7,462.4 L457.1,460.5 L457.5,458.6 L457.9,456.9 L458.3,455.3 L458.7,453.8 L459.1,452.7 L459.5,451.8 L459.9,451.1 L460.3,450.8 L460.7,450.9 L461.1,451.2 L461.5,451.9 L461.9,452.9 L462.3,454.1 L462.7,455.6 L463.1,457.2 L463.5,459 L463.9,460.9 L464.3,462.8 L464.7,464.7 L465.1,466.5 L465.5,468.3 L465.9,470 L466.3,471.5 L466.7,472.9 L467.1,474.2 L467.5,475.3 L467.9,476.3 L468.3,477.1 L468.7,477.8 L469.1,478.4 L469.5,478.9 L469.9,479.3 L470.3,479.7 L470.7,479.9 L471.1,480.1 L471.5,480.3 L471.9,480.4 L472.3,480.5 L472.7,480.5 L473.1,480.6 L473.5,480.6 L473.9,480.6 L474.3,480.7 L474.7,480.7 L475.1,480.7 L475.5,480.7 L475.9,480.7 L476.3,480.7 L476.7,480.7 L477.1,480.7 L477.5,480.7 L477.9,480.7 L478.3,480.7 L478.7,480.7 L479.1,480.7 L479.5,480.6 L479.9,480.6 L480.3,480.6 L480.7,480.6 L481.1,480.6 L481.5,480.5 L481.9,480.5 L482.3,480.4 L482.7,480.4 L483.1,480.3 L483.5,480.2 L483.9,480.1 L484.3,480 L484.7,479.9 L485.1,479.7 L485.5,479.6 L485.9,479.4 L486.3,479.2 L486.7,479 L487.1,478.8 L487.5,478.5 L487.9,478.3 L488.3,478.1 L488.7,477.8 L489.1,477.6 L489.5,477.3 L489.9,477.1 L490.3,476.9 L490.7,476.7 L491.1,476.6 L491.5,476.4 L491.9,476.3 L492.3,476.3 L492.7,476.2 L493.1,476.2 L493.5,476.3 L493.9,476.3 L494.3,476.4 L494.7,476.6 L495.1,476.7 L495.5,476.9 L495.9,477.1 L496.3,477.3 L496.7,477.6 L497.1,477.8 L497.5,478.1 L497.9,478.3 L498.3,478.5 L498.7,478.8 L499.1,479 L499.5,479.2 L499.9,479.4 L500.3,479.6 L500.7,479.7 L501.1,479.9 L501.5,480 L501.9,480.1 L502.3,480.2 L502.7,480.3 L503.1,480.4 L503.5,480.4 L503.9,480.5 L504.3,480.5 L504.7,480.6 L505.1,480.6 L505.5,480.6 L505.9,480.6 L506.3,480.6 L506.7,480.7 L507.1,480.7 L507.5,480.7 L507.9,480.7 L508.3,480.7 L508.7,480.7 L509.1,480.7 L509.5,480.7 L509.9,480.7 L510.3,480.7 L510.7,480.7 L511.1,480.7 L511.5,480.6 L511.9,480.6 L512.3,480.5 L512.7,480.4 L513.1,480.2 L513.5,479.9 L513.9,479.5 L514.3,478.9 L514.7,477.9 L515.1,476.6 L515.5,474.7 L515.9,472.2 L516.3,469 L516.7,464.8 L517.1,459.7 L517.5,453.5 L517.9,446.2 L518.3,437.9 L518.7,428.8 L519.1,419.1 L519.5,409.3 L519.9,399.7 L520.3,390.8 L520.7,383.2 L521.1,377.2 L521.5,373.3 L521.9,371.7 L522.3,372.5 L522.7,375.6 L523.1,380.9 L523.5,388 L523.9,396.5 L524.3,405.9 L524.7,415.7 L525.1,425.4 L525.5,434.8 L525.9,443.4 L526.3,451 L526.7,457.6 L527.1,463.1 L527.5,467.6 L527.9,471.2 L528.3,473.9 L528.8,476 L529.2,477.5 L529.6,478.6 L530,479.3 L530.4,479.8 L530.8,480.1 L531.2,480.4 L531.6,480.5 L532,480.6 L532.4,480.6 L532.8,480.7 L533.2,480.7 L533.6,480.7 L534,480.7 L534.4,480.7 L534.8,480.7 L535.2,480.7 L535.6,480.7 L536,480.7 L536.4,480.7 L536.8,480.7 L537.2,480.7 L537.6,480.7 L538,480.7 L538.4,480.7 L538.8,480.6 L539.2,480.6 L539.6,480.5 L540,480.4 L540.4,480.3 L540.8,480.1 L541.2,479.9 L541.6,479.5 L542,479 L542.4,478.4 L542.8,477.5 L543.2,476.4 L543.6,475 L544,473.1 L544.4,470.8 L544.8,468 L545.2,464.5 L545.6,460.4 L546,455.5 L546.4,449.8 L546.8,443.3 L547.2,436 L547.6,428 L548,419.2 L548.4,409.9 L548.8,400.2 L549.2,390.3 L549.6,380.4 L550,370.9 L550.4,361.9 L550.8,353.8 L551.2,346.8 L551.6,341.2 L552,337.2 L552.4,334.9 L552.8,334.3 L553.2,335.6 L553.6,338.7 L554,343.4 L554.4,349.7 L554.8,357.1 L555.2,365.7 L555.6,374.9 L556,384.6 L556.4,394.5 L556.8,404.4 L557.2,413.9 L557.6,423 L558,431.5 L558.4,439.2 L558.8,446.2 L559.2,452.4 L559.6,457.7 L560,462.3 L560.4,466.1 L560.8,469.3 L561.2,471.9 L561.6,474 L562,475.6 L562.4,476.9 L562.8,477.9 L563.2,478.7 L563.6,479.3 L564,479.7 L564.4,480 L564.8,480.2 L565.2,480.4 L565.6,480.5 L566,480.5 L566.4,480.6 L566.8,480.6 L567.2,480.6 L567.6,480.6 L568,480.6 L568.4,480.5 L568.8,480.4 L569.2,480.4 L569.6,480.2 L570,480.1 L570.4,479.9 L570.8,479.6 L571.2,479.4 L571.6,479 L572,478.6 L572.4,478.1 L572.8,477.5 L573.2,476.9 L573.6,476.3 L574,475.5 L574.4,474.8 L574.8,474 L575.2,473.3 L575.6,472.6 L576,471.9 L576.4,471.4 L576.8,470.9 L577.2,470.5 L577.6,470.3 L578,470.2 L578.4,470.3 L578.8,470.5 L579.2,470.9 L579.6,471.4 L580,472 L580.4,472.6 L580.8,473.3 L581.2,474.1 L581.6,474.8 L582,475.6 L582.4,476.3 L582.8,477 L583.2,477.6 L583.6,478.1 L584,478.6 L584.4,479 L584.8,479.4 L585.2,479.7 L585.6,479.9 L586,480.1 L586.4,480.2 L586.8,480.4 L587.2,480.5 L587.6,480.5 L588,480.6 L588.4,480.6 L588.8,480.6 L589.2,480.7 L589.6,480.7 L590,480.7 L590.4,480.7 L590.8,480.7 L591.2,480.7 L591.6,480.7 L592,480.7 L592.4,480.7 L592.8,480.7 L593.2,480.7 L593.6,480.7 L594,480.7 L594.4,480.7 L594.8,480.7 L595.2,480.7 L595.6,480.7 L596,480.7 L596.4,480.7 L596.8,480.7 L597.2,480.7 L597.6,480.7 L598,480.7 L598.4,480.7 L598.8,480.7 L599.2,480.7 L599.6,480.7 L600,480.7 L600.4,480.7 L600.8,480.7 L601.2,480.7 L601.6,480.7 L602,480.7 L602.4,480.7 L602.8,480.7 L603.2,480.7 L603.6,480.7 L604,480.7 L604.4,480.7 L604.8,480.7 L605.2,480.7 L605.6,480.7 L606,480.7 L606.4,480.7 L606.8,480.7 L607.2,480.7 L607.6,480.7 L608,480.7 L608.4,480.7 L608.8,480.7 L609.2,480.7 L609.6,480.7 L610,480.7 L610.4,480.7 L610.8,480.7 L611.2,480.7 L611.7,480.7 L612.1,480.7 L612.5,480.7 L612.9,480.7 L613.3,480.7 L613.7,480.7 L614.1,480.7 L614.5,480.7 L614.9,480.7 L615.3,480.7 L615.7,480.7 L616.1,480.7 L616.5,480.7 L616.9,480.7 L617.3,480.7 L617.7,480.7 L618.1,480.7 L618.5,480.7 L618.9,480.7 L619.3,480.7 L619.7,480.7 L620.1,480.7 L620.5,480.7 L620.9,480.7 L621.3,480.7 L621.7,480.7 L622.1,480.7 L622.5,480.7 L622.9,480.7 L623.3,480.7 L623.7,480.7 L624.1,480.7 L624.5,480.7 L624.9,480.7 L625.3,480.7 L625.7,480.7 L626.1,480.7 L626.5,480.7 L626.9,480.7 L627.3,480.7 L627.3,480.7Z" fill="#9467bd" fill-opacity="0.27" stroke="none" clip-path="url(#kc)"/>
<path d="M347.3,480.7 L347.7,480.7 L348.1,480.7 L348.5,480.7 L348.9,480.7 L349.3,480.7 L349.7,480.7 L350.1,480.7 L350.5,480.7 L350.9,480.7 L351.3,480.7 L351.7,480.7 L352.1,480.7 L352.5,480.7 L352.9,480.7 L353.3,480.7 L353.7,480.7 L354.1,480.7 L354.5,480.7 L354.9,480.7 L355.3,480.7 L355.7,480.7 L356.1,480.7 L356.5,480.7 L356.9,480.6 L357.3,480.6 L357.7,480.6 L358.1,480.6 L358.5,480.5 L358.9,480.5 L359.3,480.4 L359.7,480.3 L360.1,480.2 L360.5,480.1 L360.9,480 L361.3,479.8 L361.7,479.6 L362.1,479.3 L362.5,479.1 L363,478.7 L363.4,478.4 L363.8,477.9 L364.2,477.4 L364.6,476.9 L365,476.3 L365.4,475.7 L365.8,475 L366.2,474.3 L366.6,473.5 L367,472.7 L367.4,471.9 L367.8,471.1 L368.2,470.3 L368.6,469.5 L369,468.8 L369.4,468.1 L369.8,467.5 L370.2,466.9 L370.6,466.5 L371,466.1 L371.4,465.9 L371.8,465.8 L372.2,465.8 L372.6,465.9 L373,466.1 L373.4,466.5 L373.8,466.9 L374.2,467.5 L374.6,468.1 L375,468.8 L375.4,469.5 L375.8,470.3 L376.2,471.1 L376.6,471.9 L377,472.6 L377.4,473.4 L377.8,474.1 L378.2,474.8 L378.6,475.5 L379,476 L379.4,476.5 L379.8,476.9 L380.2,477.3 L380.6,477.5 L381,477.7 L381.4,477.7 L381.8,477.7 L382.2,477.6 L382.6,477.4 L383,477.1 L383.4,476.8 L383.8,476.4 L384.2,476 L384.6,475.5 L385,475 L385.4,474.6 L385.8,474.2 L386.2,473.8 L386.6,473.5 L387,473.3 L387.4,473.2 L387.8,473.2 L388.2,473.3 L388.6,473.5 L389,473.8 L389.4,474.2 L389.8,474.6 L390.2,475.1 L390.6,475.6 L391,476.1 L391.4,476.7 L391.8,477.2 L392.2,477.7 L392.6,478.2 L393,478.6 L393.4,479 L393.8,479.3 L394.2,479.6 L394.6,479.8 L395,480 L395.4,480.2 L395.8,480.3 L396.2,480.4 L396.6,480.5 L397,480.5 L397.4,480.6 L397.8,480.6 L398.2,480.6 L398.6,480.7 L399,480.7 L399.4,480.7 L399.8,480.7 L400.2,480.7 L400.6,480.7 L401,480.7 L401.4,480.7 L401.8,480.7 L402.2,480.7 L402.6,480.7 L403,480.7 L403.4,480.7 L403.8,480.7 L404.2,480.7 L404.6,480.7 L405,480.7 L405.4,480.7 L405.8,480.7 L406.2,480.7 L406.6,480.7 L407,480.7 L407.4,480.7 L407.8,480.7 L408.2,480.7 L408.6,480.7 L409,480.7 L409.4,480.7 L409.8,480.7 L410.2,480.7 L410.6,480.7 L411,480.7 L411.4,480.7 L411.8,480.7 L412.2,480.7 L412.6,480.7 L413,480.7 L413.4,480.7 L413.8,480.7 L414.2,480.7 L414.6,480.7 L415,480.7 L415.4,480.7 L415.8,480.7 L416.2,480.7 L416.6,480.7 L417,480.7 L417.4,480.7 L417.8,480.7 L418.2,480.7 L418.6,480.7 L419,480.7 L419.4,480.7 L419.8,480.7 L420.2,480.7 L420.6,480.7 L421,480.7 L421.4,480.7 L421.8,480.7 L422.2,480.7 L422.6,480.7 L423,480.7 L423.4,480.7 L423.8,480.7 L424.2,480.7 L424.6,480.7 L425,480.7 L425.4,480.7 L425.8,480.7 L426.2,480.7 L426.6,480.7 L427,480.7 L427.4,480.7 L427.8,480.7 L428.2,480.7 L428.6,480.7 L429,480.7 L429.4,480.7 L429.8,480.7 L430.2,480.7 L430.6,480.7 L431,480.7 L431.4,480.7 L431.8,480.7 L432.2,480.7 L432.6,480.7 L433,480.7 L433.4,480.7 L433.8,480.7 L434.2,480.7 L434.6,480.7 L435,480.7 L435.4,480.7 L435.8,480.7 L436.2,480.7 L436.6,480.7 L437,480.7 L437.4,480.7 L437.8,480.7 L438.2,480.7 L438.6,480.7 L439,480.7 L439.4,480.7 L439.8,480.7 L440.2,480.7 L440.6,480.7 L441,480.7 L441.4,480.7 L441.8,480.7 L442.2,480.7 L442.6,480.7 L443,480.7 L443.4,480.7 L443.8,480.7 L444.2,480.7 L444.6,480.7 L445,480.7 L445.4,480.7 L445.9,480.7 L446.3,480.7 L446.7,480.7 L447.1,480.6 L447.5,480.6 L447.9,480.6 L448.3,480.5 L448.7,480.4 L449.1,480.4 L449.5,480.2 L449.9,480.1 L450.3,479.9 L450.7,479.6 L451.1,479.3 L451.5,478.8 L451.9,478.3 L452.3,477.7 L452.7,477 L453.1,476.1 L453.5,475.1 L453.9,473.9 L454.3,472.6 L454.7,471.2 L455.1,469.6 L455.5,467.9 L455.9,466.1 L456.3,464.3 L456.7,462.4 L457.1,460.5 L457.5,458.6 L457.9,456.9 L458.3,455.3 L458.7,453.8 L459.1,452.7 L459.5,451.8 L459.9,451.1 L460.3,450.8 L460.7,450.9 L461.1,451.2 L461.5,451.9 L461.9,452.9 L462.3,454.1 L462.7,455.6 L463.1,457.2 L463.5,459 L463.9,460.9 L464.3,462.8 L464.7,464.7 L465.1,466.5 L465.5,468.3 L465.9,470 L466.3,471.5 L466.7,472.9 L467.1,474.2 L467.5,475.3 L467.9,476.3 L468.3,477.1 L468.7,477.8 L469.1,478.4 L469.5,478.9 L469.9,479.3 L470.3,479.7 L470.7,479.9 L471.1,480.1 L471.5,480.3 L471.9,480.4 L472.3,480.5 L472.7,480.5 L473.1,480.6 L473.5,480.6 L473.9,480.6 L474.3,480.7 L474.7,480.7 L475.1,480.7 L475.5,480.7 L475.9,480.7 L476.3,480.7 L476.7,480.7 L477.1,480.7 L477.5,480.7 L477.9,480.7 L478.3,480.7 L478.7,480.7 L479.1,480.7 L479.5,480.6 L479.9,480.6 L480.3,480.6 L480.7,480.6 L481.1,480.6 L481.5,480.5 L481.9,480.5 L482.3,480.4 L482.7,480.4 L483.1,480.3 L483.5,480.2 L483.9,480.1 L484.3,480 L484.7,479.9 L485.1,479.7 L485.5,479.6 L485.9,479.4 L486.3,479.2 L486.7,479 L487.1,478.8 L487.5,478.5 L487.9,478.3 L488.3,478.1 L488.7,477.8 L489.1,477.6 L489.5,477.3 L489.9,477.1 L490.3,476.9 L490.7,476.7 L491.1,476.6 L491.5,476.4 L491.9,476.3 L492.3,476.3 L492.7,476.2 L493.1,476.2 L493.5,476.3 L493.9,476.3 L494.3,476.4 L494.7,476.6 L495.1,476.7 L495.5,476.9 L495.9,477.1 L496.3,477.3 L496.7,477.6 L497.1,477.8 L497.5,478.1 L497.9,478.3 L498.3,478.5 L498.7,478.8 L499.1,479 L499.5,479.2 L499.9,479.4 L500.3,479.6 L500.7,479.7 L501.1,479.9 L501.5,480 L501.9,480.1 L502.3,480.2 L502.7,480.3 L503.1,480.4 L503.5,480.4 L503.9,480.5 L504.3,480.5 L504.7,480.6 L505.1,480.6 L505.5,480.6 L505.9,480.6 L506.3,480.6 L506.7,480.7 L507.1,480.7 L507.5,480.7 L507.9,480.7 L508.3,480.7 L508.7,480.7 L509.1,480.7 L509.5,480.7 L509.9,480.7 L510.3,480.7 L510.7,480.7 L511.1,480.7 L511.5,480.6 L511.9,480.6 L512.3,480.5 L512.7,480.4 L513.1,480.2 L513.5,479.9 L513.9,479.5 L514.3,478.9 L514.7,477.9 L515.1,476.6 L515.5,474.7 L515.9,472.2 L516.3,469 L516.7,464.8 L517.1,459.7 L517.5,453.5 L517.9,446.2 L518.3,437.9 L518.7,428.8 L519.1,419.1 L519.5,409.3 L519.9,399.7 L520.3,390.8 L520.7,383.2 L521.1,377.2 L521.5,373.3 L521.9,371.7 L522.3,372.5 L522.7,375.6 L523.1,380.9 L523.5,388 L523.9,396.5 L524.3,405.9 L524.7,415.7 L525.1,425.4 L525.5,434.8 L525.9,443.4 L526.3,451 L526.7,457.6 L527.1,463.1 L527.5,467.6 L527.9,471.2 L528.3,473.9 L528.8,476 L529.2,477.5 L529.6,478.6 L530,479.3 L530.4,479.8 L530.8,480.1 L531.2,480.4 L531.6,480.5 L532,480.6 L532.4,480.6 L532.8,480.7 L533.2,480.7 L533.6,480.7 L534,480.7 L534.4,480.7 L534.8,480.7 L535.2,480.7 L535.6,480.7 L536,480.7 L536.4,480.7 L536.8,480.7 L537.2,480.7 L537.6,480.7 L538,480.7 L538.4,480.7 L538.8,480.6 L539.2,480.6 L539.6,480.5 L540,480.4 L540.4,480.3 L540.8,480.1 L541.2,479.9 L541.6,479.5 L542,479 L542.4,478.4 L542.8,477.5 L543.2,476.4 L543.6,475 L544,473.1 L544.4,470.8 L544.8,468 L545.2,464.5 L545.6,460.4 L546,455.5 L546.4,449.8 L546.8,443.3 L547.2,436 L547.6,428 L548,419.2 L548.4,409.9 L548.8,400.2 L549.2,390.3 L549.6,380.4 L550,370.9 L550.4,361.9 L550.8,353.8 L551.2,346.8 L551.6,341.2 L552,337.2 L552.4,334.9 L552.8,334.3 L553.2,335.6 L553.6,338.7 L554,343.4 L554.4,349.7 L554.8,357.1 L555.2,365.7 L555.6,374.9 L556,384.6 L556.4,394.5 L556.8,404.4 L557.2,413.9 L557.6,423 L558,431.5 L558.4,439.2 L558.8,446.2 L559.2,452.4 L559.6,457.7 L560,462.3 L560.4,466.1 L560.8,469.3 L561.2,471.9 L561.6,474 L562,475.6 L562.4,476.9 L562.8,477.9 L563.2,478.7 L563.6,479.3 L564,479.7 L564.4,480 L564.8,480.2 L565.2,480.4 L565.6,480.5 L566,480.5 L566.4,480.6 L566.8,480.6 L567.2,480.6 L567.6,480.6 L568,480.6 L568.4,480.5 L568.8,480.4 L569.2,480.4 L569.6,480.2 L570,480.1 L570.4,479.9 L570.8,479.6 L571.2,479.4 L571.6,479 L572,478.6 L572.4,478.1 L572.8,477.5 L573.2,476.9 L573.6,476.3 L574,475.5 L574.4,474.8 L574.8,474 L575.2,473.3 L575.6,472.6 L576,471.9 L576.4,471.4 L576.8,470.9 L577.2,470.5 L577.6,470.3 L578,470.2 L578.4,470.3 L578.8,470.5 L579.2,470.9 L579.6,471.4 L580,472 L580.4,472.6 L580.8,473.3 L581.2,474.1 L581.6,474.8 L582,475.6 L582.4,476.3 L582.8,477 L583.2,477.6 L583.6,478.1 L584,478.6 L584.4,479 L584.8,479.4 L585.2,479.7 L585.6,479.9 L586,480.1 L586.4,480.2 L586.8,480.4 L587.2,480.5 L587.6,480.5 L588,480.6 L588.4,480.6 L588.8,480.6 L589.2,480.7 L589.6,480.7 L590,480.7 L590.4,480.7 L590.8,480.7 L591.2,480.7 L591.6,480.7 L592,480.7 L592.4,480.7 L592.8,480.7 L593.2,480.7 L593.6,480.7 L594,480.7 L594.4,480.7 L594.8,480.7 L595.2,480.7 L595.6,480.7 L596,480.7 L596.4,480.7 L596.8,480.7 L597.2,480.7 L597.6,480.7 L598,480.7 L598.4,480.7 L598.8,480.7 L599.2,480.7 L599.6,480.7 L600,480.7 L600.4,480.7 L600.8,480.7 L601.2,480.7 L601.6,480.7 L602,480.7 L602.4,480.7 L602.8,480.7 L603.2,480.7 L603.6,480.7 L604,480.7 L604.4,480.7 L604.8,480.7 L605.2,480.7 L605.6,480.7 L606,480.7 L606.4,480.7 L606.8,480.7 L607.2,480.7 L607.6,480.7 L608,480.7 L608.4,480.7 L608.8,480.7 L609.2,480.7 L609.6,480.7 L610,480.7 L610.4,480.7 L610.8,480.7 L611.2,480.7 L611.7,480.7 L612.1,480.7 L612.5,480.7 L612.9,480.7 L613.3,480.7 L613.7,480.7 L614.1,480.7 L614.5,480.7 L614.9,480.7 L615.3,480.7 L615.7,480.7 L616.1,480.7 L616.5,480.7 L616.9,480.7 L617.3,480.7 L617.7,480.7 L618.1,480.7 L618.5,480.7 L618.9,480.7 L619.3,480.7 L619.7,480.7 L620.1,480.7 L620.5,480.7 L620.9,480.7 L621.3,480.7 L621.7,480.7 L622.1,480.7 L622.5,480.7 L622.9,480.7 L623.3,480.7 L623.7,480.7 L624.1,480.7 L624.5,480.7 L624.9,480.7 L625.3,480.7 L625.7,480.7 L626.1,480.7 L626.5,480.7 L626.9,480.7 L627.3,480.7" fill="none" stroke="#9467bd" stroke-width="0.85" stroke-opacity="0.95" clip-path="url(#kc)"/>
<path d="M347.3,480.7 L347.3,480.7 L347.7,480.7 L348.1,480.7 L348.5,480.7 L348.9,480.7 L349.3,480.7 L349.7,480.7 L350.1,480.7 L350.5,480.7 L350.9,480.7 L351.3,480.7 L351.7,480.7 L352.1,480.7 L352.5,480.7 L352.9,480.7 L353.3,480.7 L353.7,480.7 L354.1,480.7 L354.5,480.7 L354.9,480.7 L355.3,480.7 L355.7,480.7 L356.1,480.7 L356.5,480.7 L356.9,480.7 L357.3,480.7 L357.7,480.7 L358.1,480.7 L358.5,480.7 L358.9,480.7 L359.3,480.7 L359.7,480.7 L360.1,480.7 L360.5,480.7 L360.9,480.6 L361.3,480.6 L361.7,480.6 L362.1,480.5 L362.5,480.5 L363,480.4 L363.4,480.3 L363.8,480.2 L364.2,480 L364.6,479.9 L365,479.6 L365.4,479.4 L365.8,479.1 L366.2,478.7 L366.6,478.3 L367,477.8 L367.4,477.3 L367.8,476.8 L368.2,476.2 L368.6,475.5 L369,474.9 L369.4,474.2 L369.8,473.6 L370.2,472.9 L370.6,472.3 L371,471.8 L371.4,471.3 L371.8,470.9 L372.2,470.5 L372.6,470.3 L373,470.2 L373.4,470.3 L373.8,470.4 L374.2,470.7 L374.6,471 L375,471.4 L375.4,472 L375.8,472.5 L376.2,473.1 L376.6,473.8 L377,474.4 L377.4,475.1 L377.8,475.7 L378.2,476.3 L378.6,476.8 L379,477.2 L379.4,477.6 L379.8,477.8 L380.2,478 L380.6,478 L381,477.9 L381.4,477.7 L381.8,477.3 L382.2,476.8 L382.6,476.2 L383,475.4 L383.4,474.5 L383.8,473.5 L384.2,472.4 L384.6,471.3 L385,470.2 L385.4,469.1 L385.8,468.1 L386.2,467.3 L386.6,466.6 L387,466.1 L387.4,465.8 L387.8,465.8 L388.2,466 L388.6,466.4 L389,467.1 L389.4,467.9 L389.8,468.9 L390.2,469.9 L390.6,471.1 L391,472.2 L391.4,473.4 L391.8,474.5 L392.2,475.5 L392.6,476.4 L393,477.2 L393.4,477.9 L393.8,478.5 L394.2,479 L394.6,479.4 L395,479.7 L395.4,480 L395.8,480.2 L396.2,480.3 L396.6,480.4 L397,480.5 L397.4,480.6 L397.8,480.6 L398.2,480.6 L398.6,480.7 L399,480.7 L399.4,480.7 L399.8,480.7 L400.2,480.7 L400.6,480.7 L401,480.7 L401.4,480.7 L401.8,480.7 L402.2,480.7 L402.6,480.7 L403,480.7 L403.4,480.7 L403.8,480.7 L404.2,480.7 L404.6,480.7 L405,480.7 L405.4,480.7 L405.8,480.7 L406.2,480.7 L406.6,480.7 L407,480.7 L407.4,480.7 L407.8,480.7 L408.2,480.7 L408.6,480.7 L409,480.7 L409.4,480.7 L409.8,480.7 L410.2,480.7 L410.6,480.7 L411,480.7 L411.4,480.7 L411.8,480.7 L412.2,480.7 L412.6,480.7 L413,480.7 L413.4,480.7 L413.8,480.7 L414.2,480.7 L414.6,480.7 L415,480.7 L415.4,480.7 L415.8,480.7 L416.2,480.7 L416.6,480.7 L417,480.7 L417.4,480.7 L417.8,480.7 L418.2,480.7 L418.6,480.7 L419,480.7 L419.4,480.7 L419.8,480.7 L420.2,480.7 L420.6,480.7 L421,480.7 L421.4,480.7 L421.8,480.7 L422.2,480.7 L422.6,480.7 L423,480.7 L423.4,480.7 L423.8,480.7 L424.2,480.7 L424.6,480.7 L425,480.7 L425.4,480.7 L425.8,480.7 L426.2,480.7 L426.6,480.7 L427,480.7 L427.4,480.7 L427.8,480.7 L428.2,480.7 L428.6,480.7 L429,480.7 L429.4,480.7 L429.8,480.7 L430.2,480.7 L430.6,480.7 L431,480.7 L431.4,480.7 L431.8,480.7 L432.2,480.7 L432.6,480.7 L433,480.7 L433.4,480.7 L433.8,480.7 L434.2,480.7 L434.6,480.7 L435,480.7 L435.4,480.7 L435.8,480.7 L436.2,480.7 L436.6,480.7 L437,480.7 L437.4,480.7 L437.8,480.7 L438.2,480.7 L438.6,480.7 L439,480.7 L439.4,480.7 L439.8,480.7 L440.2,480.7 L440.6,480.7 L441,480.7 L441.4,480.7 L441.8,480.7 L442.2,480.7 L442.6,480.7 L443,480.7 L443.4,480.7 L443.8,480.7 L444.2,480.7 L444.6,480.7 L445,480.7 L445.4,480.7 L445.9,480.7 L446.3,480.7 L446.7,480.7 L447.1,480.7 L447.5,480.7 L447.9,480.7 L448.3,480.7 L448.7,480.6 L449.1,480.6 L449.5,480.5 L449.9,480.5 L450.3,480.4 L450.7,480.2 L451.1,480 L451.5,479.8 L451.9,479.4 L452.3,479 L452.7,478.4 L453.1,477.7 L453.5,476.9 L453.9,475.8 L454.3,474.6 L454.7,473.2 L455.1,471.5 L455.5,469.7 L455.9,467.6 L456.3,465.5 L456.7,463.1 L457.1,460.8 L457.5,458.4 L457.9,456.1 L458.3,454 L458.7,452 L459.1,450.4 L459.5,449.1 L459.9,448.3 L460.3,447.9 L460.7,447.9 L461.1,448.4 L461.5,449.4 L461.9,450.7 L462.3,452.4 L462.7,454.4 L463.1,456.6 L463.5,458.9 L463.9,461.3 L464.3,463.6 L464.7,465.9 L465.1,468.1 L465.5,470.1 L465.9,471.9 L466.3,473.5 L466.7,474.9 L467.1,476.1 L467.5,477.1 L467.9,477.9 L468.3,478.6 L468.7,479.1 L469.1,479.5 L469.5,479.8 L469.9,480.1 L470.3,480.3 L470.7,480.4 L471.1,480.5 L471.5,480.5 L471.9,480.6 L472.3,480.6 L472.7,480.6 L473.1,480.6 L473.5,480.5 L473.9,480.5 L474.3,480.3 L474.7,480.2 L475.1,479.9 L475.5,479.6 L475.9,479.2 L476.3,478.8 L476.7,478.3 L477.1,477.7 L477.5,477.2 L477.9,476.6 L478.3,476.1 L478.7,475.8 L479.1,475.5 L479.5,475.5 L479.9,475.6 L480.3,475.8 L480.7,476.2 L481.1,476.7 L481.5,477.2 L481.9,477.8 L482.3,478.3 L482.7,478.9 L483.1,479.3 L483.5,479.7 L483.9,480 L484.3,480.2 L484.7,480.4 L485.1,480.5 L485.5,480.6 L485.9,480.6 L486.3,480.7 L486.7,480.7 L487.1,480.7 L487.5,480.7 L487.9,480.7 L488.3,480.7 L488.7,480.7 L489.1,480.7 L489.5,480.7 L489.9,480.7 L490.3,480.7 L490.7,480.7 L491.1,480.7 L491.5,480.7 L491.9,480.7 L492.3,480.7 L492.7,480.7 L493.1,480.7 L493.5,480.7 L493.9,480.7 L494.3,480.7 L494.7,480.7 L495.1,480.7 L495.5,480.7 L495.9,480.7 L496.3,480.7 L496.7,480.7 L497.1,480.7 L497.5,480.7 L497.9,480.7 L498.3,480.7 L498.7,480.7 L499.1,480.7 L499.5,480.7 L499.9,480.7 L500.3,480.7 L500.7,480.7 L501.1,480.7 L501.5,480.7 L501.9,480.7 L502.3,480.7 L502.7,480.7 L503.1,480.7 L503.5,480.7 L503.9,480.7 L504.3,480.7 L504.7,480.7 L505.1,480.7 L505.5,480.7 L505.9,480.7 L506.3,480.7 L506.7,480.7 L507.1,480.7 L507.5,480.7 L507.9,480.7 L508.3,480.7 L508.7,480.7 L509.1,480.7 L509.5,480.7 L509.9,480.7 L510.3,480.7 L510.7,480.7 L511.1,480.7 L511.5,480.7 L511.9,480.7 L512.3,480.6 L512.7,480.6 L513.1,480.5 L513.5,480.3 L513.9,480 L514.3,479.7 L514.7,479.1 L515.1,478.2 L515.5,477 L515.9,475.4 L516.3,473.1 L516.7,470.2 L517.1,466.4 L517.5,461.7 L517.9,456.1 L518.3,449.4 L518.7,441.8 L519.1,433.4 L519.5,424.4 L519.9,415.3 L520.3,406.3 L520.7,397.9 L521.1,390.6 L521.5,384.9 L521.9,381 L522.3,379.2 L522.7,379.7 L523.1,382.3 L523.5,387 L523.9,393.5 L524.3,401.3 L524.7,409.9 L525.1,419 L525.5,428.2 L525.9,436.9 L526.3,445 L526.7,452.2 L527.1,458.5 L527.5,463.8 L527.9,468.1 L528.3,471.5 L528.8,474.1 L529.2,476.1 L529.6,477.6 L530,478.6 L530.4,479.3 L530.8,479.8 L531.2,480.2 L531.6,480.4 L532,480.5 L532.4,480.6 L532.8,480.6 L533.2,480.7 L533.6,480.7 L534,480.7 L534.4,480.7 L534.8,480.7 L535.2,480.7 L535.6,480.7 L536,480.7 L536.4,480.7 L536.8,480.7 L537.2,480.7 L537.6,480.7 L538,480.7 L538.4,480.7 L538.8,480.7 L539.2,480.6 L539.6,480.6 L540,480.6 L540.4,480.5 L540.8,480.4 L541.2,480.2 L541.6,479.9 L542,479.5 L542.4,479 L542.8,478.3 L543.2,477.3 L543.6,475.9 L544,474.1 L544.4,471.8 L544.8,468.9 L545.2,465.1 L545.6,460.5 L546,454.9 L546.4,448.2 L546.8,440.3 L547.2,431.2 L547.6,420.9 L548,409.4 L548.4,397 L548.8,383.9 L549.2,370.2 L549.6,356.4 L550,342.8 L550.4,330 L550.8,318.2 L551.2,308 L551.6,299.7 L552,293.8 L552.4,290.3 L552.8,289.5 L553.2,291.5 L553.6,296 L554,303 L554.4,312.1 L554.8,323.1 L555.2,335.4 L555.6,348.6 L556,362.3 L556.4,376.1 L556.8,389.6 L557.2,402.5 L557.6,414.5 L558,425.4 L558.4,435.2 L558.8,443.8 L559.2,451.2 L559.6,457.4 L560,462.6 L560.4,466.8 L560.8,470.2 L561.2,472.9 L561.6,475 L562,476.5 L562.4,477.7 L562.8,478.6 L563.2,479.3 L563.6,479.7 L564,480 L564.4,480.3 L564.8,480.4 L565.2,480.5 L565.6,480.6 L566,480.6 L566.4,480.7 L566.8,480.7 L567.2,480.7 L567.6,480.7 L568,480.7 L568.4,480.7 L568.8,480.7 L569.2,480.7 L569.6,480.6 L570,480.6 L570.4,480.5 L570.8,480.5 L571.2,480.3 L571.6,480.2 L572,480 L572.4,479.7 L572.8,479.3 L573.2,478.9 L573.6,478.3 L574,477.7 L574.4,477 L574.8,476.3 L575.2,475.5 L575.6,474.7 L576,473.9 L576.4,473.2 L576.8,472.6 L577.2,472.1 L577.6,471.8 L578,471.7 L578.4,471.8 L578.8,472.1 L579.2,472.6 L579.6,473.2 L580,473.9 L580.4,474.7 L580.8,475.5 L581.2,476.3 L581.6,477.1 L582,477.7 L582.4,478.3 L582.8,478.8 L583.2,479.2 L583.6,479.5 L584,479.7 L584.4,479.8 L584.8,479.8 L585.2,479.6 L585.6,479.4 L586,478.9 L586.4,478.4 L586.8,477.6 L587.2,476.7 L587.6,475.6 L588,474.3 L588.4,472.9 L588.8,471.3 L589.2,469.7 L589.6,468.1 L590,466.6 L590.4,465.2 L590.8,464.1 L591.2,463.3 L591.6,462.9 L592,462.8 L592.4,463.1 L592.8,463.8 L593.2,464.9 L593.6,466.2 L594,467.7 L594.4,469.2 L594.8,470.9 L595.2,472.4 L595.6,473.9 L596,475.2 L596.4,476.4 L596.8,477.4 L597.2,478.2 L597.6,478.9 L598,479.4 L598.4,479.8 L598.8,480.1 L599.2,480.3 L599.6,480.4 L600,480.5 L600.4,480.6 L600.8,480.6 L601.2,480.7 L601.6,480.7 L602,480.7 L602.4,480.7 L602.8,480.7 L603.2,480.7 L603.6,480.7 L604,480.7 L604.4,480.7 L604.8,480.7 L605.2,480.7 L605.6,480.7 L606,480.7 L606.4,480.7 L606.8,480.7 L607.2,480.7 L607.6,480.7 L608,480.7 L608.4,480.7 L608.8,480.7 L609.2,480.7 L609.6,480.7 L610,480.7 L610.4,480.7 L610.8,480.7 L611.2,480.7 L611.7,480.7 L612.1,480.7 L612.5,480.7 L612.9,480.7 L613.3,480.7 L613.7,480.7 L614.1,480.7 L614.5,480.7 L614.9,480.7 L615.3,480.7 L615.7,480.7 L616.1,480.7 L616.5,480.7 L616.9,480.7 L617.3,480.7 L617.7,480.7 L618.1,480.7 L618.5,480.7 L618.9,480.7 L619.3,480.7 L619.7,480.7 L620.1,480.7 L620.5,480.7 L620.9,480.7 L621.3,480.7 L621.7,480.7 L622.1,480.7 L622.5,480.7 L622.9,480.7 L623.3,480.7 L623.7,480.7 L624.1,480.7 L624.5,480.7 L624.9,480.7 L625.3,480.7 L625.7,480.7 L626.1,480.7 L626.5,480.7 L626.9,480.7 L627.3,480.7 L627.3,480.7Z" fill="#2ca02c" fill-opacity="0.27" stroke="none" clip-path="url(#kc)"/>
<path d="M347.3,480.7 L347.7,480.7 L348.1,480.7 L348.5,480.7 L348.9,480.7 L349.3,480.7 L349.7,480.7 L350.1,480.7 L350.5,480.7 L350.9,480.7 L351.3,480.7 L351.7,480.7 L352.1,480.7 L352.5,480.7 L352.9,480.7 L353.3,480.7 L353.7,480.7 L354.1,480.7 L354.5,480.7 L354.9,480.7 L355.3,480.7 L355.7,480.7 L356.1,480.7 L356.5,480.7 L356.9,480.7 L357.3,480.7 L357.7,480.7 L358.1,480.7 L358.5,480.7 L358.9,480.7 L359.3,480.7 L359.7,480.7 L360.1,480.7 L360.5,480.7 L360.9,480.6 L361.3,480.6 L361.7,480.6 L362.1,480.5 L362.5,480.5 L363,480.4 L363.4,480.3 L363.8,480.2 L364.2,480 L364.6,479.9 L365,479.6 L365.4,479.4 L365.8,479.1 L366.2,478.7 L366.6,478.3 L367,477.8 L367.4,477.3 L367.8,476.8 L368.2,476.2 L368.6,475.5 L369,474.9 L369.4,474.2 L369.8,473.6 L370.2,472.9 L370.6,472.3 L371,471.8 L371.4,471.3 L371.8,470.9 L372.2,470.5 L372.6,470.3 L373,470.2 L373.4,470.3 L373.8,470.4 L374.2,470.7 L374.6,471 L375,471.4 L375.4,472 L375.8,472.5 L376.2,473.1 L376.6,473.8 L377,474.4 L377.4,475.1 L377.8,475.7 L378.2,476.3 L378.6,476.8 L379,477.2 L379.4,477.6 L379.8,477.8 L380.2,478 L380.6,478 L381,477.9 L381.4,477.7 L381.8,477.3 L382.2,476.8 L382.6,476.2 L383,475.4 L383.4,474.5 L383.8,473.5 L384.2,472.4 L384.6,471.3 L385,470.2 L385.4,469.1 L385.8,468.1 L386.2,467.3 L386.6,466.6 L387,466.1 L387.4,465.8 L387.8,465.8 L388.2,466 L388.6,466.4 L389,467.1 L389.4,467.9 L389.8,468.9 L390.2,469.9 L390.6,471.1 L391,472.2 L391.4,473.4 L391.8,474.5 L392.2,475.5 L392.6,476.4 L393,477.2 L393.4,477.9 L393.8,478.5 L394.2,479 L394.6,479.4 L395,479.7 L395.4,480 L395.8,480.2 L396.2,480.3 L396.6,480.4 L397,480.5 L397.4,480.6 L397.8,480.6 L398.2,480.6 L398.6,480.7 L399,480.7 L399.4,480.7 L399.8,480.7 L400.2,480.7 L400.6,480.7 L401,480.7 L401.4,480.7 L401.8,480.7 L402.2,480.7 L402.6,480.7 L403,480.7 L403.4,480.7 L403.8,480.7 L404.2,480.7 L404.6,480.7 L405,480.7 L405.4,480.7 L405.8,480.7 L406.2,480.7 L406.6,480.7 L407,480.7 L407.4,480.7 L407.8,480.7 L408.2,480.7 L408.6,480.7 L409,480.7 L409.4,480.7 L409.8,480.7 L410.2,480.7 L410.6,480.7 L411,480.7 L411.4,480.7 L411.8,480.7 L412.2,480.7 L412.6,480.7 L413,480.7 L413.4,480.7 L413.8,480.7 L414.2,480.7 L414.6,480.7 L415,480.7 L415.4,480.7 L415.8,480.7 L416.2,480.7 L416.6,480.7 L417,480.7 L417.4,480.7 L417.8,480.7 L418.2,480.7 L418.6,480.7 L419,480.7 L419.4,480.7 L419.8,480.7 L420.2,480.7 L420.6,480.7 L421,480.7 L421.4,480.7 L421.8,480.7 L422.2,480.7 L422.6,480.7 L423,480.7 L423.4,480.7 L423.8,480.7 L424.2,480.7 L424.6,480.7 L425,480.7 L425.4,480.7 L425.8,480.7 L426.2,480.7 L426.6,480.7 L427,480.7 L427.4,480.7 L427.8,480.7 L428.2,480.7 L428.6,480.7 L429,480.7 L429.4,480.7 L429.8,480.7 L430.2,480.7 L430.6,480.7 L431,480.7 L431.4,480.7 L431.8,480.7 L432.2,480.7 L432.6,480.7 L433,480.7 L433.4,480.7 L433.8,480.7 L434.2,480.7 L434.6,480.7 L435,480.7 L435.4,480.7 L435.8,480.7 L436.2,480.7 L436.6,480.7 L437,480.7 L437.4,480.7 L437.8,480.7 L438.2,480.7 L438.6,480.7 L439,480.7 L439.4,480.7 L439.8,480.7 L440.2,480.7 L440.6,480.7 L441,480.7 L441.4,480.7 L441.8,480.7 L442.2,480.7 L442.6,480.7 L443,480.7 L443.4,480.7 L443.8,480.7 L444.2,480.7 L444.6,480.7 L445,480.7 L445.4,480.7 L445.9,480.7 L446.3,480.7 L446.7,480.7 L447.1,480.7 L447.5,480.7 L447.9,480.7 L448.3,480.7 L448.7,480.6 L449.1,480.6 L449.5,480.5 L449.9,480.5 L450.3,480.4 L450.7,480.2 L451.1,480 L451.5,479.8 L451.9,479.4 L452.3,479 L452.7,478.4 L453.1,477.7 L453.5,476.9 L453.9,475.8 L454.3,474.6 L454.7,473.2 L455.1,471.5 L455.5,469.7 L455.9,467.6 L456.3,465.5 L456.7,463.1 L457.1,460.8 L457.5,458.4 L457.9,456.1 L458.3,454 L458.7,452 L459.1,450.4 L459.5,449.1 L459.9,448.3 L460.3,447.9 L460.7,447.9 L461.1,448.4 L461.5,449.4 L461.9,450.7 L462.3,452.4 L462.7,454.4 L463.1,456.6 L463.5,458.9 L463.9,461.3 L464.3,463.6 L464.7,465.9 L465.1,468.1 L465.5,470.1 L465.9,471.9 L466.3,473.5 L466.7,474.9 L467.1,476.1 L467.5,477.1 L467.9,477.9 L468.3,478.6 L468.7,479.1 L469.1,479.5 L469.5,479.8 L469.9,480.1 L470.3,480.3 L470.7,480.4 L471.1,480.5 L471.5,480.5 L471.9,480.6 L472.3,480.6 L472.7,480.6 L473.1,480.6 L473.5,480.5 L473.9,480.5 L474.3,480.3 L474.7,480.2 L475.1,479.9 L475.5,479.6 L475.9,479.2 L476.3,478.8 L476.7,478.3 L477.1,477.7 L477.5,477.2 L477.9,476.6 L478.3,476.1 L478.7,475.8 L479.1,475.5 L479.5,475.5 L479.9,475.6 L480.3,475.8 L480.7,476.2 L481.1,476.7 L481.5,477.2 L481.9,477.8 L482.3,478.3 L482.7,478.9 L483.1,479.3 L483.5,479.7 L483.9,480 L484.3,480.2 L484.7,480.4 L485.1,480.5 L485.5,480.6 L485.9,480.6 L486.3,480.7 L486.7,480.7 L487.1,480.7 L487.5,480.7 L487.9,480.7 L488.3,480.7 L488.7,480.7 L489.1,480.7 L489.5,480.7 L489.9,480.7 L490.3,480.7 L490.7,480.7 L491.1,480.7 L491.5,480.7 L491.9,480.7 L492.3,480.7 L492.7,480.7 L493.1,480.7 L493.5,480.7 L493.9,480.7 L494.3,480.7 L494.7,480.7 L495.1,480.7 L495.5,480.7 L495.9,480.7 L496.3,480.7 L496.7,480.7 L497.1,480.7 L497.5,480.7 L497.9,480.7 L498.3,480.7 L498.7,480.7 L499.1,480.7 L499.5,480.7 L499.9,480.7 L500.3,480.7 L500.7,480.7 L501.1,480.7 L501.5,480.7 L501.9,480.7 L502.3,480.7 L502.7,480.7 L503.1,480.7 L503.5,480.7 L503.9,480.7 L504.3,480.7 L504.7,480.7 L505.1,480.7 L505.5,480.7 L505.9,480.7 L506.3,480.7 L506.7,480.7 L507.1,480.7 L507.5,480.7 L507.9,480.7 L508.3,480.7 L508.7,480.7 L509.1,480.7 L509.5,480.7 L509.9,480.7 L510.3,480.7 L510.7,480.7 L511.1,480.7 L511.5,480.7 L511.9,480.7 L512.3,480.6 L512.7,480.6 L513.1,480.5 L513.5,480.3 L513.9,480 L514.3,479.7 L514.7,479.1 L515.1,478.2 L515.5,477 L515.9,475.4 L516.3,473.1 L516.7,470.2 L517.1,466.4 L517.5,461.7 L517.9,456.1 L518.3,449.4 L518.7,441.8 L519.1,433.4 L519.5,424.4 L519.9,415.3 L520.3,406.3 L520.7,397.9 L521.1,390.6 L521.5,384.9 L521.9,381 L522.3,379.2 L522.7,379.7 L523.1,382.3 L523.5,387 L523.9,393.5 L524.3,401.3 L524.7,409.9 L525.1,419 L525.5,428.2 L525.9,436.9 L526.3,445 L526.7,452.2 L527.1,458.5 L527.5,463.8 L527.9,468.1 L528.3,471.5 L528.8,474.1 L529.2,476.1 L529.6,477.6 L530,478.6 L530.4,479.3 L530.8,479.8 L531.2,480.2 L531.6,480.4 L532,480.5 L532.4,480.6 L532.8,480.6 L533.2,480.7 L533.6,480.7 L534,480.7 L534.4,480.7 L534.8,480.7 L535.2,480.7 L535.6,480.7 L536,480.7 L536.4,480.7 L536.8,480.7 L537.2,480.7 L537.6,480.7 L538,480.7 L538.4,480.7 L538.8,480.7 L539.2,480.6 L539.6,480.6 L540,480.6 L540.4,480.5 L540.8,480.4 L541.2,480.2 L541.6,479.9 L542,479.5 L542.4,479 L542.8,478.3 L543.2,477.3 L543.6,475.9 L544,474.1 L544.4,471.8 L544.8,468.9 L545.2,465.1 L545.6,460.5 L546,454.9 L546.4,448.2 L546.8,440.3 L547.2,431.2 L547.6,420.9 L548,409.4 L548.4,397 L548.8,383.9 L549.2,370.2 L549.6,356.4 L550,342.8 L550.4,330 L550.8,318.2 L551.2,308 L551.6,299.7 L552,293.8 L552.4,290.3 L552.8,289.5 L553.2,291.5 L553.6,296 L554,303 L554.4,312.1 L554.8,323.1 L555.2,335.4 L555.6,348.6 L556,362.3 L556.4,376.1 L556.8,389.6 L557.2,402.5 L557.6,414.5 L558,425.4 L558.4,435.2 L558.8,443.8 L559.2,451.2 L559.6,457.4 L560,462.6 L560.4,466.8 L560.8,470.2 L561.2,472.9 L561.6,475 L562,476.5 L562.4,477.7 L562.8,478.6 L563.2,479.3 L563.6,479.7 L564,480 L564.4,480.3 L564.8,480.4 L565.2,480.5 L565.6,480.6 L566,480.6 L566.4,480.7 L566.8,480.7 L567.2,480.7 L567.6,480.7 L568,480.7 L568.4,480.7 L568.8,480.7 L569.2,480.7 L569.6,480.6 L570,480.6 L570.4,480.5 L570.8,480.5 L571.2,480.3 L571.6,480.2 L572,480 L572.4,479.7 L572.8,479.3 L573.2,478.9 L573.6,478.3 L574,477.7 L574.4,477 L574.8,476.3 L575.2,475.5 L575.6,474.7 L576,473.9 L576.4,473.2 L576.8,472.6 L577.2,472.1 L577.6,471.8 L578,471.7 L578.4,471.8 L578.8,472.1 L579.2,472.6 L579.6,473.2 L580,473.9 L580.4,474.7 L580.8,475.5 L581.2,476.3 L581.6,477.1 L582,477.7 L582.4,478.3 L582.8,478.8 L583.2,479.2 L583.6,479.5 L584,479.7 L584.4,479.8 L584.8,479.8 L585.2,479.6 L585.6,479.4 L586,478.9 L586.4,478.4 L586.8,477.6 L587.2,476.7 L587.6,475.6 L588,474.3 L588.4,472.9 L588.8,471.3 L589.2,469.7 L589.6,468.1 L590,466.6 L590.4,465.2 L590.8,464.1 L591.2,463.3 L591.6,462.9 L592,462.8 L592.4,463.1 L592.8,463.8 L593.2,464.9 L593.6,466.2 L594,467.7 L594.4,469.2 L594.8,470.9 L595.2,472.4 L595.6,473.9 L596,475.2 L596.4,476.4 L596.8,477.4 L597.2,478.2 L597.6,478.9 L598,479.4 L598.4,479.8 L598.8,480.1 L599.2,480.3 L599.6,480.4 L600,480.5 L600.4,480.6 L600.8,480.6 L601.2,480.7 L601.6,480.7 L602,480.7 L602.4,480.7 L602.8,480.7 L603.2,480.7 L603.6,480.7 L604,480.7 L604.4,480.7 L604.8,480.7 L605.2,480.7 L605.6,480.7 L606,480.7 L606.4,480.7 L606.8,480.7 L607.2,480.7 L607.6,480.7 L608,480.7 L608.4,480.7 L608.8,480.7 L609.2,480.7 L609.6,480.7 L610,480.7 L610.4,480.7 L610.8,480.7 L611.2,480.7 L611.7,480.7 L612.1,480.7 L612.5,480.7 L612.9,480.7 L613.3,480.7 L613.7,480.7 L614.1,480.7 L614.5,480.7 L614.9,480.7 L615.3,480.7 L615.7,480.7 L616.1,480.7 L616.5,480.7 L616.9,480.7 L617.3,480.7 L617.7,480.7 L618.1,480.7 L618.5,480.7 L618.9,480.7 L619.3,480.7 L619.7,480.7 L620.1,480.7 L620.5,480.7 L620.9,480.7 L621.3,480.7 L621.7,480.7 L622.1,480.7 L622.5,480.7 L622.9,480.7 L623.3,480.7 L623.7,480.7 L624.1,480.7 L624.5,480.7 L624.9,480.7 L625.3,480.7 L625.7,480.7 L626.1,480.7 L626.5,480.7 L626.9,480.7 L627.3,480.7" fill="none" stroke="#2ca02c" stroke-width="0.85" stroke-opacity="0.95" clip-path="url(#kc)"/>
<path d="M347.3,480.7 L347.3,480.7 L347.7,480.7 L348.1,480.7 L348.5,480.7 L348.9,480.7 L349.3,480.7 L349.7,480.7 L350.1,480.7 L350.5,480.7 L350.9,480.7 L351.3,480.7 L351.7,480.7 L352.1,480.7 L352.5,480.7 L352.9,480.7 L353.3,480.7 L353.7,480.7 L354.1,480.7 L354.5,480.7 L354.9,480.7 L355.3,480.7 L355.7,480.7 L356.1,480.7 L356.5,480.7 L356.9,480.7 L357.3,480.7 L357.7,480.7 L358.1,480.7 L358.5,480.7 L358.9,480.7 L359.3,480.7 L359.7,480.7 L360.1,480.7 L360.5,480.7 L360.9,480.7 L361.3,480.6 L361.7,480.6 L362.1,480.6 L362.5,480.5 L363,480.5 L363.4,480.4 L363.8,480.3 L364.2,480.2 L364.6,480.1 L365,479.9 L365.4,479.8 L365.8,479.5 L366.2,479.3 L366.6,479 L367,478.7 L367.4,478.3 L367.8,477.9 L368.2,477.5 L368.6,477 L369,476.6 L369.4,476.1 L369.8,475.6 L370.2,475.1 L370.6,474.7 L371,474.3 L371.4,474 L371.8,473.7 L372.2,473.4 L372.6,473.3 L373,473.2 L373.4,473.2 L373.8,473.3 L374.2,473.5 L374.6,473.8 L375,474.1 L375.4,474.5 L375.8,474.9 L376.2,475.3 L376.6,475.8 L377,476.2 L377.4,476.7 L377.8,477.1 L378.2,477.5 L378.6,477.9 L379,478.2 L379.4,478.4 L379.8,478.6 L380.2,478.7 L380.6,478.7 L381,478.6 L381.4,478.3 L381.8,478 L382.2,477.5 L382.6,476.9 L383,476.1 L383.4,475.2 L383.8,474.2 L384.2,473.1 L384.6,471.9 L385,470.6 L385.4,469.4 L385.8,468.2 L386.2,467 L386.6,466.1 L387,465.3 L387.4,464.7 L387.8,464.3 L388.2,464.3 L388.6,464.5 L389,464.9 L389.4,465.6 L389.8,466.5 L390.2,467.5 L390.6,468.7 L391,470 L391.4,471.2 L391.8,472.5 L392.2,473.7 L392.6,474.8 L393,475.8 L393.4,476.8 L393.8,477.5 L394.2,478.2 L394.6,478.8 L395,479.2 L395.4,479.6 L395.8,479.9 L396.2,480.1 L396.6,480.3 L397,480.4 L397.4,480.5 L397.8,480.6 L398.2,480.6 L398.6,480.6 L399,480.7 L399.4,480.7 L399.8,480.7 L400.2,480.7 L400.6,480.7 L401,480.7 L401.4,480.7 L401.8,480.7 L402.2,480.7 L402.6,480.7 L403,480.7 L403.4,480.7 L403.8,480.7 L404.2,480.7 L404.6,480.7 L405,480.7 L405.4,480.7 L405.8,480.7 L406.2,480.7 L406.6,480.7 L407,480.7 L407.4,480.7 L407.8,480.7 L408.2,480.7 L408.6,480.7 L409,480.7 L409.4,480.7 L409.8,480.7 L410.2,480.7 L410.6,480.7 L411,480.7 L411.4,480.7 L411.8,480.7 L412.2,480.7 L412.6,480.7 L413,480.7 L413.4,480.7 L413.8,480.7 L414.2,480.7 L414.6,480.7 L415,480.7 L415.4,480.7 L415.8,480.7 L416.2,480.7 L416.6,480.7 L417,480.7 L417.4,480.7 L417.8,480.7 L418.2,480.7 L418.6,480.7 L419,480.7 L419.4,480.7 L419.8,480.7 L420.2,480.7 L420.6,480.7 L421,480.7 L421.4,480.7 L421.8,480.7 L422.2,480.7 L422.6,480.7 L423,480.7 L423.4,480.7 L423.8,480.7 L424.2,480.7 L424.6,480.7 L425,480.7 L425.4,480.7 L425.8,480.7 L426.2,480.7 L426.6,480.7 L427,480.7 L427.4,480.7 L427.8,480.7 L428.2,480.7 L428.6,480.7 L429,480.7 L429.4,480.7 L429.8,480.7 L430.2,480.7 L430.6,480.7 L431,480.7 L431.4,480.7 L431.8,480.7 L432.2,480.7 L432.6,480.7 L433,480.7 L433.4,480.7 L433.8,480.7 L434.2,480.7 L434.6,480.7 L435,480.7 L435.4,480.7 L435.8,480.7 L436.2,480.7 L436.6,480.7 L437,480.7 L437.4,480.7 L437.8,480.7 L438.2,480.7 L438.6,480.7 L439,480.7 L439.4,480.7 L439.8,480.7 L440.2,480.7 L440.6,480.7 L441,480.7 L441.4,480.7 L441.8,480.7 L442.2,480.7 L442.6,480.7 L443,480.7 L443.4,480.7 L443.8,480.7 L444.2,480.7 L444.6,480.7 L445,480.7 L445.4,480.7 L445.9,480.7 L446.3,480.7 L446.7,480.6 L447.1,480.6 L447.5,480.6 L447.9,480.5 L448.3,480.5 L448.7,480.4 L449.1,480.3 L449.5,480.1 L449.9,479.9 L450.3,479.6 L450.7,479.3 L451.1,478.8 L451.5,478.3 L451.9,477.6 L452.3,476.8 L452.7,475.9 L453.1,474.7 L453.5,473.4 L453.9,471.9 L454.3,470.2 L454.7,468.4 L455.1,466.3 L455.5,464.1 L455.9,461.8 L456.3,459.3 L456.7,456.9 L457.1,454.4 L457.5,452 L457.9,449.7 L458.3,447.6 L458.7,445.8 L459.1,444.3 L459.5,443.1 L459.9,442.3 L460.3,441.9 L460.7,441.9 L461.1,442.4 L461.5,443.3 L461.9,444.5 L462.3,446.2 L462.7,448.1 L463.1,450.2 L463.5,452.5 L463.9,454.9 L464.3,457.4 L464.7,459.8 L465.1,462.3 L465.5,464.6 L465.9,466.7 L466.3,468.8 L466.7,470.6 L467.1,472.2 L467.5,473.7 L467.9,475 L468.3,476.1 L468.7,477 L469.1,477.8 L469.5,478.4 L469.9,478.9 L470.3,479.3 L470.7,479.7 L471.1,479.9 L471.5,480.1 L471.9,480.3 L472.3,480.4 L472.7,480.5 L473.1,480.5 L473.5,480.6 L473.9,480.6 L474.3,480.6 L474.7,480.7 L475.1,480.7 L475.5,480.7 L475.9,480.7 L476.3,480.7 L476.7,480.7 L477.1,480.7 L477.5,480.7 L477.9,480.7 L478.3,480.7 L478.7,480.7 L479.1,480.7 L479.5,480.7 L479.9,480.7 L480.3,480.7 L480.7,480.7 L481.1,480.7 L481.5,480.7 L481.9,480.7 L482.3,480.7 L482.7,480.7 L483.1,480.7 L483.5,480.7 L483.9,480.7 L484.3,480.7 L484.7,480.7 L485.1,480.7 L485.5,480.7 L485.9,480.7 L486.3,480.7 L486.7,480.7 L487.1,480.7 L487.5,480.7 L487.9,480.7 L488.3,480.7 L488.7,480.7 L489.1,480.7 L489.5,480.7 L489.9,480.7 L490.3,480.7 L490.7,480.7 L491.1,480.7 L491.5,480.7 L491.9,480.7 L492.3,480.6 L492.7,480.6 L493.1,480.5 L493.5,480.4 L493.9,480.3 L494.3,480.1 L494.7,479.9 L495.1,479.5 L495.5,479.1 L495.9,478.6 L496.3,478 L496.7,477.3 L497.1,476.5 L497.5,475.6 L497.9,474.7 L498.3,473.7 L498.7,472.8 L499.1,472 L499.5,471.3 L499.9,470.7 L500.3,470.4 L500.7,470.2 L501.1,470.3 L501.5,470.7 L501.9,471.2 L502.3,471.9 L502.7,472.7 L503.1,473.6 L503.5,474.6 L503.9,475.5 L504.3,476.4 L504.7,477.2 L505.1,477.9 L505.5,478.6 L505.9,479.1 L506.3,479.5 L506.7,479.8 L507.1,480.1 L507.5,480.3 L507.9,480.4 L508.3,480.5 L508.7,480.6 L509.1,480.6 L509.5,480.6 L509.9,480.6 L510.3,480.6 L510.7,480.6 L511.1,480.6 L511.5,480.5 L511.9,480.4 L512.3,480.2 L512.7,479.9 L513.1,479.4 L513.5,478.8 L513.9,477.9 L514.3,476.7 L514.7,475.1 L515.1,472.9 L515.5,470 L515.9,466.3 L516.3,461.7 L516.7,456.1 L517.1,449.3 L517.5,441.4 L517.9,432.4 L518.3,422.3 L518.7,411.4 L519.1,399.8 L519.5,388 L519.9,376.2 L520.3,365 L520.7,354.9 L521.1,346.2 L521.5,339.5 L521.9,335 L522.3,332.9 L522.7,333.4 L523.1,336.5 L523.5,342 L523.9,349.6 L524.3,358.9 L524.7,369.5 L525.1,381 L525.5,392.8 L525.9,404.6 L526.3,416 L526.7,426.6 L527.1,436.2 L527.5,444.8 L527.9,452.2 L528.3,458.5 L528.8,463.7 L529.2,467.9 L529.6,471.2 L530,473.8 L530.4,475.8 L530.8,477.3 L531.2,478.3 L531.6,479.1 L532,479.6 L532.4,480 L532.8,480.3 L533.2,480.4 L533.6,480.5 L534,480.6 L534.4,480.6 L534.8,480.7 L535.2,480.7 L535.6,480.7 L536,480.7 L536.4,480.7 L536.8,480.7 L537.2,480.7 L537.6,480.7 L538,480.6 L538.4,480.6 L538.8,480.5 L539.2,480.5 L539.6,480.3 L540,480.2 L540.4,479.9 L540.8,479.6 L541.2,479.1 L541.6,478.5 L542,477.7 L542.4,476.6 L542.8,475.2 L543.2,473.4 L543.6,471.1 L544,468.3 L544.4,464.8 L544.8,460.5 L545.2,455.3 L545.6,449.2 L546,442.2 L546.4,434 L546.8,424.9 L547.2,414.6 L547.6,403.5 L548,391.5 L548.4,378.9 L548.8,365.8 L549.2,352.5 L549.6,339.4 L550,326.8 L550.4,315 L550.8,304.4 L551.2,295.3 L551.6,288 L552,282.8 L552.4,279.7 L552.8,279.1 L553.2,280.7 L553.6,284.7 L554,290.9 L554.4,299 L554.8,308.8 L555.2,319.9 L555.6,332.1 L556,345 L556.4,358.2 L556.8,371.4 L557.2,384.3 L557.6,396.7 L558,408.4 L558.4,419.1 L558.8,428.9 L559.2,437.6 L559.6,445.3 L560,452 L560.4,457.6 L560.8,462.4 L561.2,466.4 L561.6,469.6 L562,472.2 L562.4,474.3 L562.8,475.9 L563.2,477.1 L563.6,478.1 L564,478.8 L564.4,479.4 L564.8,479.8 L565.2,480 L565.6,480.2 L566,480.4 L566.4,480.5 L566.8,480.6 L567.2,480.6 L567.6,480.6 L568,480.7 L568.4,480.7 L568.8,480.7 L569.2,480.7 L569.6,480.7 L570,480.7 L570.4,480.7 L570.8,480.7 L571.2,480.7 L571.6,480.7 L572,480.7 L572.4,480.7 L572.8,480.7 L573.2,480.7 L573.6,480.7 L574,480.7 L574.4,480.7 L574.8,480.7 L575.2,480.7 L575.6,480.7 L576,480.7 L576.4,480.7 L576.8,480.7 L577.2,480.7 L577.6,480.7 L578,480.7 L578.4,480.7 L578.8,480.7 L579.2,480.7 L579.6,480.7 L580,480.7 L580.4,480.7 L580.8,480.7 L581.2,480.7 L581.6,480.7 L582,480.7 L582.4,480.7 L582.8,480.7 L583.2,480.6 L583.6,480.6 L584,480.5 L584.4,480.4 L584.8,480.3 L585.2,480.1 L585.6,479.8 L586,479.5 L586.4,479 L586.8,478.4 L587.2,477.7 L587.6,476.9 L588,475.9 L588.4,474.8 L588.8,473.7 L589.2,472.5 L589.6,471.3 L590,470.1 L590.4,469.1 L590.8,468.3 L591.2,467.7 L591.6,467.3 L592,467.3 L592.4,467.5 L592.8,468.1 L593.2,468.8 L593.6,469.8 L594,470.9 L594.4,472.1 L594.8,473.3 L595.2,474.5 L595.6,475.6 L596,476.6 L596.4,477.5 L596.8,478.2 L597.2,478.8 L597.6,479.3 L598,479.7 L598.4,480 L598.8,480.2 L599.2,480.4 L599.6,480.5 L600,480.6 L600.4,480.6 L600.8,480.6 L601.2,480.7 L601.6,480.7 L602,480.7 L602.4,480.7 L602.8,480.7 L603.2,480.7 L603.6,480.7 L604,480.7 L604.4,480.7 L604.8,480.7 L605.2,480.7 L605.6,480.7 L606,480.7 L606.4,480.7 L606.8,480.7 L607.2,480.7 L607.6,480.7 L608,480.7 L608.4,480.7 L608.8,480.7 L609.2,480.7 L609.6,480.7 L610,480.7 L610.4,480.7 L610.8,480.7 L611.2,480.7 L611.7,480.7 L612.1,480.7 L612.5,480.7 L612.9,480.7 L613.3,480.7 L613.7,480.7 L614.1,480.7 L614.5,480.7 L614.9,480.7 L615.3,480.7 L615.7,480.7 L616.1,480.7 L616.5,480.7 L616.9,480.7 L617.3,480.7 L617.7,480.7 L618.1,480.7 L618.5,480.7 L618.9,480.7 L619.3,480.7 L619.7,480.7 L620.1,480.7 L620.5,480.7 L620.9,480.7 L621.3,480.7 L621.7,480.7 L622.1,480.7 L622.5,480.7 L622.9,480.7 L623.3,480.7 L623.7,480.7 L624.1,480.7 L624.5,480.7 L624.9,480.7 L625.3,480.7 L625.7,480.7 L626.1,480.7 L626.5,480.7 L626.9,480.7 L627.3,480.7 L627.3,480.7Z" fill="#ff7f0e" fill-opacity="0.27" stroke="none" clip-path="url(#kc)"/>
<path d="M347.3,480.7 L347.7,480.7 L348.1,480.7 L348.5,480.7 L348.9,480.7 L349.3,480.7 L349.7,480.7 L350.1,480.7 L350.5,480.7 L350.9,480.7 L351.3,480.7 L351.7,480.7 L352.1,480.7 L352.5,480.7 L352.9,480.7 L353.3,480.7 L353.7,480.7 L354.1,480.7 L354.5,480.7 L354.9,480.7 L355.3,480.7 L355.7,480.7 L356.1,480.7 L356.5,480.7 L356.9,480.7 L357.3,480.7 L357.7,480.7 L358.1,480.7 L358.5,480.7 L358.9,480.7 L359.3,480.7 L359.7,480.7 L360.1,480.7 L360.5,480.7 L360.9,480.7 L361.3,480.6 L361.7,480.6 L362.1,480.6 L362.5,480.5 L363,480.5 L363.4,480.4 L363.8,480.3 L364.2,480.2 L364.6,480.1 L365,479.9 L365.4,479.8 L365.8,479.5 L366.2,479.3 L366.6,479 L367,478.7 L367.4,478.3 L367.8,477.9 L368.2,477.5 L368.6,477 L369,476.6 L369.4,476.1 L369.8,475.6 L370.2,475.1 L370.6,474.7 L371,474.3 L371.4,474 L371.8,473.7 L372.2,473.4 L372.6,473.3 L373,473.2 L373.4,473.2 L373.8,473.3 L374.2,473.5 L374.6,473.8 L375,474.1 L375.4,474.5 L375.8,474.9 L376.2,475.3 L376.6,475.8 L377,476.2 L377.4,476.7 L377.8,477.1 L378.2,477.5 L378.6,477.9 L379,478.2 L379.4,478.4 L379.8,478.6 L380.2,478.7 L380.6,478.7 L381,478.6 L381.4,478.3 L381.8,478 L382.2,477.5 L382.6,476.9 L383,476.1 L383.4,475.2 L383.8,474.2 L384.2,473.1 L384.6,471.9 L385,470.6 L385.4,469.4 L385.8,468.2 L386.2,467 L386.6,466.1 L387,465.3 L387.4,464.7 L387.8,464.3 L388.2,464.3 L388.6,464.5 L389,464.9 L389.4,465.6 L389.8,466.5 L390.2,467.5 L390.6,468.7 L391,470 L391.4,471.2 L391.8,472.5 L392.2,473.7 L392.6,474.8 L393,475.8 L393.4,476.8 L393.8,477.5 L394.2,478.2 L394.6,478.8 L395,479.2 L395.4,479.6 L395.8,479.9 L396.2,480.1 L396.6,480.3 L397,480.4 L397.4,480.5 L397.8,480.6 L398.2,480.6 L398.6,480.6 L399,480.7 L399.4,480.7 L399.8,480.7 L400.2,480.7 L400.6,480.7 L401,480.7 L401.4,480.7 L401.8,480.7 L402.2,480.7 L402.6,480.7 L403,480.7 L403.4,480.7 L403.8,480.7 L404.2,480.7 L404.6,480.7 L405,480.7 L405.4,480.7 L405.8,480.7 L406.2,480.7 L406.6,480.7 L407,480.7 L407.4,480.7 L407.8,480.7 L408.2,480.7 L408.6,480.7 L409,480.7 L409.4,480.7 L409.8,480.7 L410.2,480.7 L410.6,480.7 L411,480.7 L411.4,480.7 L411.8,480.7 L412.2,480.7 L412.6,480.7 L413,480.7 L413.4,480.7 L413.8,480.7 L414.2,480.7 L414.6,480.7 L415,480.7 L415.4,480.7 L415.8,480.7 L416.2,480.7 L416.6,480.7 L417,480.7 L417.4,480.7 L417.8,480.7 L418.2,480.7 L418.6,480.7 L419,480.7 L419.4,480.7 L419.8,480.7 L420.2,480.7 L420.6,480.7 L421,480.7 L421.4,480.7 L421.8,480.7 L422.2,480.7 L422.6,480.7 L423,480.7 L423.4,480.7 L423.8,480.7 L424.2,480.7 L424.6,480.7 L425,480.7 L425.4,480.7 L425.8,480.7 L426.2,480.7 L426.6,480.7 L427,480.7 L427.4,480.7 L427.8,480.7 L428.2,480.7 L428.6,480.7 L429,480.7 L429.4,480.7 L429.8,480.7 L430.2,480.7 L430.6,480.7 L431,480.7 L431.4,480.7 L431.8,480.7 L432.2,480.7 L432.6,480.7 L433,480.7 L433.4,480.7 L433.8,480.7 L434.2,480.7 L434.6,480.7 L435,480.7 L435.4,480.7 L435.8,480.7 L436.2,480.7 L436.6,480.7 L437,480.7 L437.4,480.7 L437.8,480.7 L438.2,480.7 L438.6,480.7 L439,480.7 L439.4,480.7 L439.8,480.7 L440.2,480.7 L440.6,480.7 L441,480.7 L441.4,480.7 L441.8,480.7 L442.2,480.7 L442.6,480.7 L443,480.7 L443.4,480.7 L443.8,480.7 L444.2,480.7 L444.6,480.7 L445,480.7 L445.4,480.7 L445.9,480.7 L446.3,480.7 L446.7,480.6 L447.1,480.6 L447.5,480.6 L447.9,480.5 L448.3,480.5 L448.7,480.4 L449.1,480.3 L449.5,480.1 L449.9,479.9 L450.3,479.6 L450.7,479.3 L451.1,478.8 L451.5,478.3 L451.9,477.6 L452.3,476.8 L452.7,475.9 L453.1,474.7 L453.5,473.4 L453.9,471.9 L454.3,470.2 L454.7,468.4 L455.1,466.3 L455.5,464.1 L455.9,461.8 L456.3,459.3 L456.7,456.9 L457.1,454.4 L457.5,452 L457.9,449.7 L458.3,447.6 L458.7,445.8 L459.1,444.3 L459.5,443.1 L459.9,442.3 L460.3,441.9 L460.7,441.9 L461.1,442.4 L461.5,443.3 L461.9,444.5 L462.3,446.2 L462.7,448.1 L463.1,450.2 L463.5,452.5 L463.9,454.9 L464.3,457.4 L464.7,459.8 L465.1,462.3 L465.5,464.6 L465.9,466.7 L466.3,468.8 L466.7,470.6 L467.1,472.2 L467.5,473.7 L467.9,475 L468.3,476.1 L468.7,477 L469.1,477.8 L469.5,478.4 L469.9,478.9 L470.3,479.3 L470.7,479.7 L471.1,479.9 L471.5,480.1 L471.9,480.3 L472.3,480.4 L472.7,480.5 L473.1,480.5 L473.5,480.6 L473.9,480.6 L474.3,480.6 L474.7,480.7 L475.1,480.7 L475.5,480.7 L475.9,480.7 L476.3,480.7 L476.7,480.7 L477.1,480.7 L477.5,480.7 L477.9,480.7 L478.3,480.7 L478.7,480.7 L479.1,480.7 L479.5,480.7 L479.9,480.7 L480.3,480.7 L480.7,480.7 L481.1,480.7 L481.5,480.7 L481.9,480.7 L482.3,480.7 L482.7,480.7 L483.1,480.7 L483.5,480.7 L483.9,480.7 L484.3,480.7 L484.7,480.7 L485.1,480.7 L485.5,480.7 L485.9,480.7 L486.3,480.7 L486.7,480.7 L487.1,480.7 L487.5,480.7 L487.9,480.7 L488.3,480.7 L488.7,480.7 L489.1,480.7 L489.5,480.7 L489.9,480.7 L490.3,480.7 L490.7,480.7 L491.1,480.7 L491.5,480.7 L491.9,480.7 L492.3,480.6 L492.7,480.6 L493.1,480.5 L493.5,480.4 L493.9,480.3 L494.3,480.1 L494.7,479.9 L495.1,479.5 L495.5,479.1 L495.9,478.6 L496.3,478 L496.7,477.3 L497.1,476.5 L497.5,475.6 L497.9,474.7 L498.3,473.7 L498.7,472.8 L499.1,472 L499.5,471.3 L499.9,470.7 L500.3,470.4 L500.7,470.2 L501.1,470.3 L501.5,470.7 L501.9,471.2 L502.3,471.9 L502.7,472.7 L503.1,473.6 L503.5,474.6 L503.9,475.5 L504.3,476.4 L504.7,477.2 L505.1,477.9 L505.5,478.6 L505.9,479.1 L506.3,479.5 L506.7,479.8 L507.1,480.1 L507.5,480.3 L507.9,480.4 L508.3,480.5 L508.7,480.6 L509.1,480.6 L509.5,480.6 L509.9,480.6 L510.3,480.6 L510.7,480.6 L511.1,480.6 L511.5,480.5 L511.9,480.4 L512.3,480.2 L512.7,479.9 L513.1,479.4 L513.5,478.8 L513.9,477.9 L514.3,476.7 L514.7,475.1 L515.1,472.9 L515.5,470 L515.9,466.3 L516.3,461.7 L516.7,456.1 L517.1,449.3 L517.5,441.4 L517.9,432.4 L518.3,422.3 L518.7,411.4 L519.1,399.8 L519.5,388 L519.9,376.2 L520.3,365 L520.7,354.9 L521.1,346.2 L521.5,339.5 L521.9,335 L522.3,332.9 L522.7,333.4 L523.1,336.5 L523.5,342 L523.9,349.6 L524.3,358.9 L524.7,369.5 L525.1,381 L525.5,392.8 L525.9,404.6 L526.3,416 L526.7,426.6 L527.1,436.2 L527.5,444.8 L527.9,452.2 L528.3,458.5 L528.8,463.7 L529.2,467.9 L529.6,471.2 L530,473.8 L530.4,475.8 L530.8,477.3 L531.2,478.3 L531.6,479.1 L532,479.6 L532.4,480 L532.8,480.3 L533.2,480.4 L533.6,480.5 L534,480.6 L534.4,480.6 L534.8,480.7 L535.2,480.7 L535.6,480.7 L536,480.7 L536.4,480.7 L536.8,480.7 L537.2,480.7 L537.6,480.7 L538,480.6 L538.4,480.6 L538.8,480.5 L539.2,480.5 L539.6,480.3 L540,480.2 L540.4,479.9 L540.8,479.6 L541.2,479.1 L541.6,478.5 L542,477.7 L542.4,476.6 L542.8,475.2 L543.2,473.4 L543.6,471.1 L544,468.3 L544.4,464.8 L544.8,460.5 L545.2,455.3 L545.6,449.2 L546,442.2 L546.4,434 L546.8,424.9 L547.2,414.6 L547.6,403.5 L548,391.5 L548.4,378.9 L548.8,365.8 L549.2,352.5 L549.6,339.4 L550,326.8 L550.4,315 L550.8,304.4 L551.2,295.3 L551.6,288 L552,282.8 L552.4,279.7 L552.8,279.1 L553.2,280.7 L553.6,284.7 L554,290.9 L554.4,299 L554.8,308.8 L555.2,319.9 L555.6,332.1 L556,345 L556.4,358.2 L556.8,371.4 L557.2,384.3 L557.6,396.7 L558,408.4 L558.4,419.1 L558.8,428.9 L559.2,437.6 L559.6,445.3 L560,452 L560.4,457.6 L560.8,462.4 L561.2,466.4 L561.6,469.6 L562,472.2 L562.4,474.3 L562.8,475.9 L563.2,477.1 L563.6,478.1 L564,478.8 L564.4,479.4 L564.8,479.8 L565.2,480 L565.6,480.2 L566,480.4 L566.4,480.5 L566.8,480.6 L567.2,480.6 L567.6,480.6 L568,480.7 L568.4,480.7 L568.8,480.7 L569.2,480.7 L569.6,480.7 L570,480.7 L570.4,480.7 L570.8,480.7 L571.2,480.7 L571.6,480.7 L572,480.7 L572.4,480.7 L572.8,480.7 L573.2,480.7 L573.6,480.7 L574,480.7 L574.4,480.7 L574.8,480.7 L575.2,480.7 L575.6,480.7 L576,480.7 L576.4,480.7 L576.8,480.7 L577.2,480.7 L577.6,480.7 L578,480.7 L578.4,480.7 L578.8,480.7 L579.2,480.7 L579.6,480.7 L580,480.7 L580.4,480.7 L580.8,480.7 L581.2,480.7 L581.6,480.7 L582,480.7 L582.4,480.7 L582.8,480.7 L583.2,480.6 L583.6,480.6 L584,480.5 L584.4,480.4 L584.8,480.3 L585.2,480.1 L585.6,479.8 L586,479.5 L586.4,479 L586.8,478.4 L587.2,477.7 L587.6,476.9 L588,475.9 L588.4,474.8 L588.8,473.7 L589.2,472.5 L589.6,471.3 L590,470.1 L590.4,469.1 L590.8,468.3 L591.2,467.7 L591.6,467.3 L592,467.3 L592.4,467.5 L592.8,468.1 L593.2,468.8 L593.6,469.8 L594,470.9 L594.4,472.1 L594.8,473.3 L595.2,474.5 L595.6,475.6 L596,476.6 L596.4,477.5 L596.8,478.2 L597.2,478.8 L597.6,479.3 L598,479.7 L598.4,480 L598.8,480.2 L599.2,480.4 L599.6,480.5 L600,480.6 L600.4,480.6 L600.8,480.6 L601.2,480.7 L601.6,480.7 L602,480.7 L602.4,480.7 L602.8,480.7 L603.2,480.7 L603.6,480.7 L604,480.7 L604.4,480.7 L604.8,480.7 L605.2,480.7 L605.6,480.7 L606,480.7 L606.4,480.7 L606.8,480.7 L607.2,480.7 L607.6,480.7 L608,480.7 L608.4,480.7 L608.8,480.7 L609.2,480.7 L609.6,480.7 L610,480.7 L610.4,480.7 L610.8,480.7 L611.2,480.7 L611.7,480.7 L612.1,480.7 L612.5,480.7 L612.9,480.7 L613.3,480.7 L613.7,480.7 L614.1,480.7 L614.5,480.7 L614.9,480.7 L615.3,480.7 L615.7,480.7 L616.1,480.7 L616.5,480.7 L616.9,480.7 L617.3,480.7 L617.7,480.7 L618.1,480.7 L618.5,480.7 L618.9,480.7 L619.3,480.7 L619.7,480.7 L620.1,480.7 L620.5,480.7 L620.9,480.7 L621.3,480.7 L621.7,480.7 L622.1,480.7 L622.5,480.7 L622.9,480.7 L623.3,480.7 L623.7,480.7 L624.1,480.7 L624.5,480.7 L624.9,480.7 L625.3,480.7 L625.7,480.7 L626.1,480.7 L626.5,480.7 L626.9,480.7 L627.3,480.7" fill="none" stroke="#ff7f0e" stroke-width="0.85" stroke-opacity="0.95" clip-path="url(#kc)"/>
<path d="M347.3,480.7 L347.3,480.7 L347.7,480.7 L348.1,480.7 L348.5,480.7 L348.9,480.7 L349.3,480.7 L349.7,480.7 L350.1,480.7 L350.5,480.7 L350.9,480.7 L351.3,480.7 L351.7,480.7 L352.1,480.7 L352.5,480.7 L352.9,480.7 L353.3,480.7 L353.7,480.7 L354.1,480.7 L354.5,480.7 L354.9,480.7 L355.3,480.7 L355.7,480.7 L356.1,480.7 L356.5,480.7 L356.9,480.7 L357.3,480.7 L357.7,480.7 L358.1,480.7 L358.5,480.7 L358.9,480.6 L359.3,480.6 L359.7,480.6 L360.1,480.5 L360.5,480.5 L360.9,480.4 L361.3,480.4 L361.7,480.3 L362.1,480.1 L362.5,480 L363,479.8 L363.4,479.6 L363.8,479.3 L364.2,479 L364.6,478.6 L365,478.2 L365.4,477.7 L365.8,477.2 L366.2,476.5 L366.6,475.8 L367,475.1 L367.4,474.2 L367.8,473.3 L368.2,472.3 L368.6,471.3 L369,470.2 L369.4,469.1 L369.8,467.9 L370.2,466.8 L370.6,465.7 L371,464.6 L371.4,463.6 L371.8,462.7 L372.2,461.8 L372.6,461.1 L373,460.5 L373.4,460.1 L373.8,459.8 L374.2,459.7 L374.6,459.7 L375,459.9 L375.4,460.2 L375.8,460.7 L376.2,461.3 L376.6,462 L377,462.7 L377.4,463.5 L377.8,464.4 L378.2,465.2 L378.6,466.1 L379,466.8 L379.4,467.5 L379.8,468.1 L380.2,468.6 L380.6,469 L381,469.2 L381.4,469.3 L381.8,469.3 L382.2,469.1 L382.6,468.7 L383,468.2 L383.4,467.6 L383.8,466.9 L384.2,466.1 L384.6,465.3 L385,464.4 L385.4,463.5 L385.8,462.6 L386.2,461.8 L386.6,461 L387,460.3 L387.4,459.8 L387.8,459.3 L388.2,459.1 L388.6,458.9 L389,459 L389.4,459.2 L389.8,459.5 L390.2,460.1 L390.6,460.7 L391,461.5 L391.4,462.4 L391.8,463.4 L392.2,464.5 L392.6,465.6 L393,466.8 L393.4,468 L393.8,469.2 L394.2,470.3 L394.6,471.4 L395,472.5 L395.4,473.4 L395.8,474.4 L396.2,475.2 L396.6,476 L397,476.7 L397.4,477.3 L397.8,477.9 L398.2,478.3 L398.6,478.8 L399,479.1 L399.4,479.4 L399.8,479.7 L400.2,479.9 L400.6,480 L401,480.2 L401.4,480.3 L401.8,480.4 L402.2,480.5 L402.6,480.5 L403,480.6 L403.4,480.6 L403.8,480.6 L404.2,480.6 L404.6,480.7 L405,480.7 L405.4,480.7 L405.8,480.7 L406.2,480.7 L406.6,480.7 L407,480.7 L407.4,480.7 L407.8,480.7 L408.2,480.7 L408.6,480.7 L409,480.7 L409.4,480.7 L409.8,480.6 L410.2,480.6 L410.6,480.6 L411,480.6 L411.4,480.5 L411.8,480.5 L412.2,480.4 L412.6,480.3 L413,480.2 L413.4,480.1 L413.8,480 L414.2,479.9 L414.6,479.7 L415,479.6 L415.4,479.4 L415.8,479.3 L416.2,479.1 L416.6,479 L417,478.8 L417.4,478.7 L417.8,478.6 L418.2,478.5 L418.6,478.4 L419,478.4 L419.4,478.4 L419.8,478.5 L420.2,478.5 L420.6,478.6 L421,478.7 L421.4,478.8 L421.8,478.9 L422.2,479.1 L422.6,479.2 L423,479.3 L423.4,479.4 L423.8,479.4 L424.2,479.5 L424.6,479.5 L425,479.5 L425.4,479.5 L425.8,479.4 L426.2,479.3 L426.6,479.2 L427,479.1 L427.4,479 L427.8,478.9 L428.2,478.7 L428.6,478.6 L429,478.4 L429.4,478.3 L429.8,478.2 L430.2,478 L430.6,477.9 L431,477.9 L431.4,477.8 L431.8,477.7 L432.2,477.7 L432.6,477.7 L433,477.7 L433.4,477.8 L433.8,477.9 L434.2,477.9 L434.6,478.1 L435,478.2 L435.4,478.3 L435.8,478.5 L436.2,478.6 L436.6,478.8 L437,478.9 L437.4,479.1 L437.8,479.3 L438.2,479.4 L438.6,479.5 L439,479.7 L439.4,479.8 L439.8,479.9 L440.2,480 L440.6,480.1 L441,480.2 L441.4,480.2 L441.8,480.3 L442.2,480.3 L442.6,480.4 L443,480.4 L443.4,480.4 L443.8,480.4 L444.2,480.3 L444.6,480.3 L445,480.3 L445.4,480.2 L445.9,480.1 L446.3,480 L446.7,479.9 L447.1,479.8 L447.5,479.6 L447.9,479.4 L448.3,479.2 L448.7,479 L449.1,478.7 L449.5,478.4 L449.9,478.1 L450.3,477.7 L450.7,477.4 L451.1,476.9 L451.5,476.4 L451.9,475.9 L452.3,475.4 L452.7,474.8 L453.1,474.2 L453.5,473.5 L453.9,472.8 L454.3,472.1 L454.7,471.4 L455.1,470.6 L455.5,469.9 L455.9,469.1 L456.3,468.3 L456.7,467.5 L457.1,466.8 L457.5,466 L457.9,465.3 L458.3,464.6 L458.7,464 L459.1,463.4 L459.5,462.9 L459.9,462.4 L460.3,462.1 L460.7,461.7 L461.1,461.5 L461.5,461.4 L461.9,461.3 L462.3,461.3 L462.7,461.4 L463.1,461.6 L463.5,461.8 L463.9,462.2 L464.3,462.6 L464.7,463.1 L465.1,463.6 L465.5,464.2 L465.9,464.9 L466.3,465.6 L466.7,466.3 L467.1,467.1 L467.5,467.8 L467.9,468.6 L468.3,469.4 L468.7,470.2 L469.1,470.9 L469.5,471.7 L469.9,472.4 L470.3,473.1 L470.7,473.8 L471.1,474.4 L471.5,475 L471.9,475.6 L472.3,476.1 L472.7,476.6 L473.1,477.1 L473.5,477.5 L473.9,477.9 L474.3,478.2 L474.7,478.6 L475.1,478.8 L475.5,479.1 L475.9,479.3 L476.3,479.5 L476.7,479.7 L477.1,479.8 L477.5,480 L477.9,480.1 L478.3,480.2 L478.7,480.3 L479.1,480.3 L479.5,480.4 L479.9,480.5 L480.3,480.5 L480.7,480.5 L481.1,480.6 L481.5,480.6 L481.9,480.6 L482.3,480.6 L482.7,480.6 L483.1,480.7 L483.5,480.7 L483.9,480.7 L484.3,480.7 L484.7,480.7 L485.1,480.7 L485.5,480.7 L485.9,480.7 L486.3,480.7 L486.7,480.7 L487.1,480.7 L487.5,480.7 L487.9,480.7 L488.3,480.7 L488.7,480.7 L489.1,480.7 L489.5,480.7 L489.9,480.7 L490.3,480.7 L490.7,480.7 L491.1,480.7 L491.5,480.7 L491.9,480.7 L492.3,480.7 L492.7,480.7 L493.1,480.7 L493.5,480.7 L493.9,480.7 L494.3,480.7 L494.7,480.7 L495.1,480.7 L495.5,480.7 L495.9,480.7 L496.3,480.7 L496.7,480.7 L497.1,480.7 L497.5,480.7 L497.9,480.7 L498.3,480.7 L498.7,480.6 L499.1,480.6 L499.5,480.6 L499.9,480.6 L500.3,480.6 L500.7,480.6 L501.1,480.6 L501.5,480.6 L501.9,480.5 L502.3,480.5 L502.7,480.5 L503.1,480.5 L503.5,480.4 L503.9,480.4 L504.3,480.3 L504.7,480.3 L505.1,480.3 L505.5,480.2 L505.9,480.2 L506.3,480.1 L506.7,480 L507.1,480 L507.5,479.9 L507.9,479.8 L508.3,479.7 L508.7,479.6 L509.1,479.5 L509.5,479.4 L509.9,479.3 L510.3,479.2 L510.7,479 L511.1,478.9 L511.5,478.7 L511.9,478.5 L512.3,478.2 L512.7,477.9 L513.1,477.5 L513.5,477 L513.9,476.4 L514.3,475.7 L514.7,474.8 L515.1,473.6 L515.5,472.2 L515.9,470.5 L516.3,468.6 L516.7,466.3 L517.1,463.6 L517.5,460.7 L517.9,457.5 L518.3,454.1 L518.7,450.6 L519.1,447.1 L519.5,443.6 L519.9,440.4 L520.3,437.4 L520.7,435 L521.1,433.1 L521.5,431.9 L521.9,431.4 L522.3,431.6 L522.7,432.6 L523.1,434.3 L523.5,436.5 L523.9,439.3 L524.3,442.4 L524.7,445.8 L525.1,449.4 L525.5,452.9 L525.9,456.4 L526.3,459.6 L526.7,462.6 L527.1,465.4 L527.5,467.8 L527.9,469.9 L528.3,471.7 L528.8,473.1 L529.2,474.4 L529.6,475.4 L530,476.2 L530.4,476.9 L530.8,477.4 L531.2,477.8 L531.6,478.1 L532,478.4 L532.4,478.6 L532.8,478.8 L533.2,479 L533.6,479.1 L534,479.2 L534.4,479.3 L534.8,479.4 L535.2,479.5 L535.6,479.6 L536,479.6 L536.4,479.6 L536.8,479.7 L537.2,479.6 L537.6,479.6 L538,479.5 L538.4,479.3 L538.8,479.1 L539.2,478.9 L539.6,478.5 L540,478.1 L540.4,477.5 L540.8,476.8 L541.2,476 L541.6,475 L542,473.8 L542.4,472.4 L542.8,470.7 L543.2,468.8 L543.6,466.7 L544,464.3 L544.4,461.6 L544.8,458.7 L545.2,455.4 L545.6,451.9 L546,448.2 L546.4,444.3 L546.8,440.2 L547.2,436 L547.6,431.7 L548,427.3 L548.4,423.1 L548.8,418.9 L549.2,414.9 L549.6,411.2 L550,407.8 L550.4,404.7 L550.8,402 L551.2,399.8 L551.6,398.1 L552,396.8 L552.4,396.1 L552.8,395.8 L553.2,396 L553.6,396.6 L554,397.6 L554.4,399 L554.8,400.6 L555.2,402.4 L555.6,404.5 L556,406.6 L556.4,408.8 L556.8,411 L557.2,413.2 L557.6,415.3 L558,417.3 L558.4,419.1 L558.8,420.9 L559.2,422.5 L559.6,424 L560,425.3 L560.4,426.5 L560.8,427.7 L561.2,428.7 L561.6,429.7 L562,430.6 L562.4,431.5 L562.8,432.5 L563.2,433.4 L563.6,434.4 L564,435.4 L564.4,436.4 L564.8,437.5 L565.2,438.6 L565.6,439.8 L566,441.1 L566.4,442.3 L566.8,443.6 L567.2,444.9 L567.6,446.2 L568,447.5 L568.4,448.7 L568.8,449.9 L569.2,451.1 L569.6,452.1 L570,453.1 L570.4,454 L570.8,454.7 L571.2,455.4 L571.6,455.9 L572,456.3 L572.4,456.6 L572.8,456.8 L573.2,456.8 L573.6,456.8 L574,456.8 L574.4,456.6 L574.8,456.5 L575.2,456.4 L575.6,456.2 L576,456.1 L576.4,456.1 L576.8,456.1 L577.2,456.3 L577.6,456.5 L578,456.8 L578.4,457.3 L578.8,457.9 L579.2,458.6 L579.6,459.4 L580,460.3 L580.4,461.3 L580.8,462.4 L581.2,463.5 L581.6,464.6 L582,465.7 L582.4,466.8 L582.8,467.8 L583.2,468.7 L583.6,469.5 L584,470.1 L584.4,470.6 L584.8,470.9 L585.2,470.9 L585.6,470.7 L586,470.2 L586.4,469.5 L586.8,468.5 L587.2,467.3 L587.6,465.9 L588,464.3 L588.4,462.6 L588.8,460.8 L589.2,459 L589.6,457.3 L590,455.8 L590.4,454.4 L590.8,453.3 L591.2,452.6 L591.6,452.2 L592,452.2 L592.4,452.6 L592.8,453.3 L593.2,454.4 L593.6,455.8 L594,457.5 L594.4,459.4 L594.8,461.4 L595.2,463.4 L595.6,465.4 L596,467.4 L596.4,469.3 L596.8,471.1 L597.2,472.7 L597.6,474.1 L598,475.4 L598.4,476.5 L598.8,477.4 L599.2,478.1 L599.6,478.7 L600,479.2 L600.4,479.6 L600.8,479.9 L601.2,480.1 L601.6,480.3 L602,480.4 L602.4,480.5 L602.8,480.6 L603.2,480.6 L603.6,480.6 L604,480.7 L604.4,480.7 L604.8,480.7 L605.2,480.7 L605.6,480.7 L606,480.7 L606.4,480.7 L606.8,480.7 L607.2,480.7 L607.6,480.7 L608,480.7 L608.4,480.7 L608.8,480.7 L609.2,480.7 L609.6,480.7 L610,480.7 L610.4,480.7 L610.8,480.7 L611.2,480.7 L611.7,480.7 L612.1,480.7 L612.5,480.7 L612.9,480.7 L613.3,480.7 L613.7,480.7 L614.1,480.7 L614.5,480.7 L614.9,480.7 L615.3,480.7 L615.7,480.7 L616.1,480.7 L616.5,480.7 L616.9,480.7 L617.3,480.7 L617.7,480.7 L618.1,480.7 L618.5,480.7 L618.9,480.7 L619.3,480.7 L619.7,480.7 L620.1,480.7 L620.5,480.7 L620.9,480.7 L621.3,480.7 L621.7,480.7 L622.1,480.7 L622.5,480.7 L622.9,480.7 L623.3,480.7 L623.7,480.7 L624.1,480.7 L624.5,480.7 L624.9,480.7 L625.3,480.7 L625.7,480.7 L626.1,480.7 L626.5,480.7 L626.9,480.7 L627.3,480.7 L627.3,480.7Z" fill="#d62728" fill-opacity="0.27" stroke="none" clip-path="url(#kc)"/>
<path d="M347.3,480.7 L347.7,480.7 L348.1,480.7 L348.5,480.7 L348.9,480.7 L349.3,480.7 L349.7,480.7 L350.1,480.7 L350.5,480.7 L350.9,480.7 L351.3,480.7 L351.7,480.7 L352.1,480.7 L352.5,480.7 L352.9,480.7 L353.3,480.7 L353.7,480.7 L354.1,480.7 L354.5,480.7 L354.9,480.7 L355.3,480.7 L355.7,480.7 L356.1,480.7 L356.5,480.7 L356.9,480.7 L357.3,480.7 L357.7,480.7 L358.1,480.7 L358.5,480.7 L358.9,480.6 L359.3,480.6 L359.7,480.6 L360.1,480.5 L360.5,480.5 L360.9,480.4 L361.3,480.4 L361.7,480.3 L362.1,480.1 L362.5,480 L363,479.8 L363.4,479.6 L363.8,479.3 L364.2,479 L364.6,478.6 L365,478.2 L365.4,477.7 L365.8,477.2 L366.2,476.5 L366.6,475.8 L367,475.1 L367.4,474.2 L367.8,473.3 L368.2,472.3 L368.6,471.3 L369,470.2 L369.4,469.1 L369.8,467.9 L370.2,466.8 L370.6,465.7 L371,464.6 L371.4,463.6 L371.8,462.7 L372.2,461.8 L372.6,461.1 L373,460.5 L373.4,460.1 L373.8,459.8 L374.2,459.7 L374.6,459.7 L375,459.9 L375.4,460.2 L375.8,460.7 L376.2,461.3 L376.6,462 L377,462.7 L377.4,463.5 L377.8,464.4 L378.2,465.2 L378.6,466.1 L379,466.8 L379.4,467.5 L379.8,468.1 L380.2,468.6 L380.6,469 L381,469.2 L381.4,469.3 L381.8,469.3 L382.2,469.1 L382.6,468.7 L383,468.2 L383.4,467.6 L383.8,466.9 L384.2,466.1 L384.6,465.3 L385,464.4 L385.4,463.5 L385.8,462.6 L386.2,461.8 L386.6,461 L387,460.3 L387.4,459.8 L387.8,459.3 L388.2,459.1 L388.6,458.9 L389,459 L389.4,459.2 L389.8,459.5 L390.2,460.1 L390.6,460.7 L391,461.5 L391.4,462.4 L391.8,463.4 L392.2,464.5 L392.6,465.6 L393,466.8 L393.4,468 L393.8,469.2 L394.2,470.3 L394.6,471.4 L395,472.5 L395.4,473.4 L395.8,474.4 L396.2,475.2 L396.6,476 L397,476.7 L397.4,477.3 L397.8,477.9 L398.2,478.3 L398.6,478.8 L399,479.1 L399.4,479.4 L399.8,479.7 L400.2,479.9 L400.6,480 L401,480.2 L401.4,480.3 L401.8,480.4 L402.2,480.5 L402.6,480.5 L403,480.6 L403.4,480.6 L403.8,480.6 L404.2,480.6 L404.6,480.7 L405,480.7 L405.4,480.7 L405.8,480.7 L406.2,480.7 L406.6,480.7 L407,480.7 L407.4,480.7 L407.8,480.7 L408.2,480.7 L408.6,480.7 L409,480.7 L409.4,480.7 L409.8,480.6 L410.2,480.6 L410.6,480.6 L411,480.6 L411.4,480.5 L411.8,480.5 L412.2,480.4 L412.6,480.3 L413,480.2 L413.4,480.1 L413.8,480 L414.2,479.9 L414.6,479.7 L415,479.6 L415.4,479.4 L415.8,479.3 L416.2,479.1 L416.6,479 L417,478.8 L417.4,478.7 L417.8,478.6 L418.2,478.5 L418.6,478.4 L419,478.4 L419.4,478.4 L419.8,478.5 L420.2,478.5 L420.6,478.6 L421,478.7 L421.4,478.8 L421.8,478.9 L422.2,479.1 L422.6,479.2 L423,479.3 L423.4,479.4 L423.8,479.4 L424.2,479.5 L424.6,479.5 L425,479.5 L425.4,479.5 L425.8,479.4 L426.2,479.3 L426.6,479.2 L427,479.1 L427.4,479 L427.8,478.9 L428.2,478.7 L428.6,478.6 L429,478.4 L429.4,478.3 L429.8,478.2 L430.2,478 L430.6,477.9 L431,477.9 L431.4,477.8 L431.8,477.7 L432.2,477.7 L432.6,477.7 L433,477.7 L433.4,477.8 L433.8,477.9 L434.2,477.9 L434.6,478.1 L435,478.2 L435.4,478.3 L435.8,478.5 L436.2,478.6 L436.6,478.8 L437,478.9 L437.4,479.1 L437.8,479.3 L438.2,479.4 L438.6,479.5 L439,479.7 L439.4,479.8 L439.8,479.9 L440.2,480 L440.6,480.1 L441,480.2 L441.4,480.2 L441.8,480.3 L442.2,480.3 L442.6,480.4 L443,480.4 L443.4,480.4 L443.8,480.4 L444.2,480.3 L444.6,480.3 L445,480.3 L445.4,480.2 L445.9,480.1 L446.3,480 L446.7,479.9 L447.1,479.8 L447.5,479.6 L447.9,479.4 L448.3,479.2 L448.7,479 L449.1,478.7 L449.5,478.4 L449.9,478.1 L450.3,477.7 L450.7,477.4 L451.1,476.9 L451.5,476.4 L451.9,475.9 L452.3,475.4 L452.7,474.8 L453.1,474.2 L453.5,473.5 L453.9,472.8 L454.3,472.1 L454.7,471.4 L455.1,470.6 L455.5,469.9 L455.9,469.1 L456.3,468.3 L456.7,467.5 L457.1,466.8 L457.5,466 L457.9,465.3 L458.3,464.6 L458.7,464 L459.1,463.4 L459.5,462.9 L459.9,462.4 L460.3,462.1 L460.7,461.7 L461.1,461.5 L461.5,461.4 L461.9,461.3 L462.3,461.3 L462.7,461.4 L463.1,461.6 L463.5,461.8 L463.9,462.2 L464.3,462.6 L464.7,463.1 L465.1,463.6 L465.5,464.2 L465.9,464.9 L466.3,465.6 L466.7,466.3 L467.1,467.1 L467.5,467.8 L467.9,468.6 L468.3,469.4 L468.7,470.2 L469.1,470.9 L469.5,471.7 L469.9,472.4 L470.3,473.1 L470.7,473.8 L471.1,474.4 L471.5,475 L471.9,475.6 L472.3,476.1 L472.7,476.6 L473.1,477.1 L473.5,477.5 L473.9,477.9 L474.3,478.2 L474.7,478.6 L475.1,478.8 L475.5,479.1 L475.9,479.3 L476.3,479.5 L476.7,479.7 L477.1,479.8 L477.5,480 L477.9,480.1 L478.3,480.2 L478.7,480.3 L479.1,480.3 L479.5,480.4 L479.9,480.5 L480.3,480.5 L480.7,480.5 L481.1,480.6 L481.5,480.6 L481.9,480.6 L482.3,480.6 L482.7,480.6 L483.1,480.7 L483.5,480.7 L483.9,480.7 L484.3,480.7 L484.7,480.7 L485.1,480.7 L485.5,480.7 L485.9,480.7 L486.3,480.7 L486.7,480.7 L487.1,480.7 L487.5,480.7 L487.9,480.7 L488.3,480.7 L488.7,480.7 L489.1,480.7 L489.5,480.7 L489.9,480.7 L490.3,480.7 L490.7,480.7 L491.1,480.7 L491.5,480.7 L491.9,480.7 L492.3,480.7 L492.7,480.7 L493.1,480.7 L493.5,480.7 L493.9,480.7 L494.3,480.7 L494.7,480.7 L495.1,480.7 L495.5,480.7 L495.9,480.7 L496.3,480.7 L496.7,480.7 L497.1,480.7 L497.5,480.7 L497.9,480.7 L498.3,480.7 L498.7,480.6 L499.1,480.6 L499.5,480.6 L499.9,480.6 L500.3,480.6 L500.7,480.6 L501.1,480.6 L501.5,480.6 L501.9,480.5 L502.3,480.5 L502.7,480.5 L503.1,480.5 L503.5,480.4 L503.9,480.4 L504.3,480.3 L504.7,480.3 L505.1,480.3 L505.5,480.2 L505.9,480.2 L506.3,480.1 L506.7,480 L507.1,480 L507.5,479.9 L507.9,479.8 L508.3,479.7 L508.7,479.6 L509.1,479.5 L509.5,479.4 L509.9,479.3 L510.3,479.2 L510.7,479 L511.1,478.9 L511.5,478.7 L511.9,478.5 L512.3,478.2 L512.7,477.9 L513.1,477.5 L513.5,477 L513.9,476.4 L514.3,475.7 L514.7,474.8 L515.1,473.6 L515.5,472.2 L515.9,470.5 L516.3,468.6 L516.7,466.3 L517.1,463.6 L517.5,460.7 L517.9,457.5 L518.3,454.1 L518.7,450.6 L519.1,447.1 L519.5,443.6 L519.9,440.4 L520.3,437.4 L520.7,435 L521.1,433.1 L521.5,431.9 L521.9,431.4 L522.3,431.6 L522.7,432.6 L523.1,434.3 L523.5,436.5 L523.9,439.3 L524.3,442.4 L524.7,445.8 L525.1,449.4 L525.5,452.9 L525.9,456.4 L526.3,459.6 L526.7,462.6 L527.1,465.4 L527.5,467.8 L527.9,469.9 L528.3,471.7 L528.8,473.1 L529.2,474.4 L529.6,475.4 L530,476.2 L530.4,476.9 L530.8,477.4 L531.2,477.8 L531.6,478.1 L532,478.4 L532.4,478.6 L532.8,478.8 L533.2,479 L533.6,479.1 L534,479.2 L534.4,479.3 L534.8,479.4 L535.2,479.5 L535.6,479.6 L536,479.6 L536.4,479.6 L536.8,479.7 L537.2,479.6 L537.6,479.6 L538,479.5 L538.4,479.3 L538.8,479.1 L539.2,478.9 L539.6,478.5 L540,478.1 L540.4,477.5 L540.8,476.8 L541.2,476 L541.6,475 L542,473.8 L542.4,472.4 L542.8,470.7 L543.2,468.8 L543.6,466.7 L544,464.3 L544.4,461.6 L544.8,458.7 L545.2,455.4 L545.6,451.9 L546,448.2 L546.4,444.3 L546.8,440.2 L547.2,436 L547.6,431.7 L548,427.3 L548.4,423.1 L548.8,418.9 L549.2,414.9 L549.6,411.2 L550,407.8 L550.4,404.7 L550.8,402 L551.2,399.8 L551.6,398.1 L552,396.8 L552.4,396.1 L552.8,395.8 L553.2,396 L553.6,396.6 L554,397.6 L554.4,399 L554.8,400.6 L555.2,402.4 L555.6,404.5 L556,406.6 L556.4,408.8 L556.8,411 L557.2,413.2 L557.6,415.3 L558,417.3 L558.4,419.1 L558.8,420.9 L559.2,422.5 L559.6,424 L560,425.3 L560.4,426.5 L560.8,427.7 L561.2,428.7 L561.6,429.7 L562,430.6 L562.4,431.5 L562.8,432.5 L563.2,433.4 L563.6,434.4 L564,435.4 L564.4,436.4 L564.8,437.5 L565.2,438.6 L565.6,439.8 L566,441.1 L566.4,442.3 L566.8,443.6 L567.2,444.9 L567.6,446.2 L568,447.5 L568.4,448.7 L568.8,449.9 L569.2,451.1 L569.6,452.1 L570,453.1 L570.4,454 L570.8,454.7 L571.2,455.4 L571.6,455.9 L572,456.3 L572.4,456.6 L572.8,456.8 L573.2,456.8 L573.6,456.8 L574,456.8 L574.4,456.6 L574.8,456.5 L575.2,456.4 L575.6,456.2 L576,456.1 L576.4,456.1 L576.8,456.1 L577.2,456.3 L577.6,456.5 L578,456.8 L578.4,457.3 L578.8,457.9 L579.2,458.6 L579.6,459.4 L580,460.3 L580.4,461.3 L580.8,462.4 L581.2,463.5 L581.6,464.6 L582,465.7 L582.4,466.8 L582.8,467.8 L583.2,468.7 L583.6,469.5 L584,470.1 L584.4,470.6 L584.8,470.9 L585.2,470.9 L585.6,470.7 L586,470.2 L586.4,469.5 L586.8,468.5 L587.2,467.3 L587.6,465.9 L588,464.3 L588.4,462.6 L588.8,460.8 L589.2,459 L589.6,457.3 L590,455.8 L590.4,454.4 L590.8,453.3 L591.2,452.6 L591.6,452.2 L592,452.2 L592.4,452.6 L592.8,453.3 L593.2,454.4 L593.6,455.8 L594,457.5 L594.4,459.4 L594.8,461.4 L595.2,463.4 L595.6,465.4 L596,467.4 L596.4,469.3 L596.8,471.1 L597.2,472.7 L597.6,474.1 L598,475.4 L598.4,476.5 L598.8,477.4 L599.2,478.1 L599.6,478.7 L600,479.2 L600.4,479.6 L600.8,479.9 L601.2,480.1 L601.6,480.3 L602,480.4 L602.4,480.5 L602.8,480.6 L603.2,480.6 L603.6,480.6 L604,480.7 L604.4,480.7 L604.8,480.7 L605.2,480.7 L605.6,480.7 L606,480.7 L606.4,480.7 L606.8,480.7 L607.2,480.7 L607.6,480.7 L608,480.7 L608.4,480.7 L608.8,480.7 L609.2,480.7 L609.6,480.7 L610,480.7 L610.4,480.7 L610.8,480.7 L611.2,480.7 L611.7,480.7 L612.1,480.7 L612.5,480.7 L612.9,480.7 L613.3,480.7 L613.7,480.7 L614.1,480.7 L614.5,480.7 L614.9,480.7 L615.3,480.7 L615.7,480.7 L616.1,480.7 L616.5,480.7 L616.9,480.7 L617.3,480.7 L617.7,480.7 L618.1,480.7 L618.5,480.7 L618.9,480.7 L619.3,480.7 L619.7,480.7 L620.1,480.7 L620.5,480.7 L620.9,480.7 L621.3,480.7 L621.7,480.7 L622.1,480.7 L622.5,480.7 L622.9,480.7 L623.3,480.7 L623.7,480.7 L624.1,480.7 L624.5,480.7 L624.9,480.7 L625.3,480.7 L625.7,480.7 L626.1,480.7 L626.5,480.7 L626.9,480.7 L627.3,480.7" fill="none" stroke="#d62728" stroke-width="0.85" stroke-opacity="0.95" clip-path="url(#kc)"/>
<path d="M347.3,480.7 L347.3,480.7 L347.7,480.7 L348.1,480.7 L348.5,480.7 L348.9,480.7 L349.3,480.7 L349.7,480.7 L350.1,480.7 L350.5,480.7 L350.9,480.7 L351.3,480.7 L351.7,480.7 L352.1,480.7 L352.5,480.7 L352.9,480.7 L353.3,480.7 L353.7,480.7 L354.1,480.7 L354.5,480.7 L354.9,480.7 L355.3,480.7 L355.7,480.7 L356.1,480.7 L356.5,480.7 L356.9,480.7 L357.3,480.7 L357.7,480.7 L358.1,480.6 L358.5,480.6 L358.9,480.6 L359.3,480.6 L359.7,480.5 L360.1,480.5 L360.5,480.4 L360.9,480.3 L361.3,480.2 L361.7,480.1 L362.1,479.9 L362.5,479.7 L363,479.5 L363.4,479.2 L363.8,478.9 L364.2,478.6 L364.6,478.1 L365,477.7 L365.4,477.2 L365.8,476.6 L366.2,476 L366.6,475.3 L367,474.5 L367.4,473.8 L367.8,473 L368.2,472.1 L368.6,471.3 L369,470.4 L369.4,469.6 L369.8,468.7 L370.2,467.9 L370.6,467.2 L371,466.5 L371.4,466 L371.8,465.4 L372.2,465 L372.6,464.7 L373,464.5 L373.4,464.4 L373.8,464.4 L374.2,464.5 L374.6,464.6 L375,464.8 L375.4,465 L375.8,465.3 L376.2,465.5 L376.6,465.8 L377,465.9 L377.4,466 L377.8,466 L378.2,465.8 L378.6,465.5 L379,465 L379.4,464.4 L379.8,463.5 L380.2,462.5 L380.6,461.2 L381,459.8 L381.4,458.1 L381.8,456.3 L382.2,454.3 L382.6,452.2 L383,449.9 L383.4,447.6 L383.8,445.2 L384.2,442.8 L384.6,440.4 L385,438 L385.4,435.8 L385.8,433.7 L386.2,431.7 L386.6,430 L387,428.5 L387.4,427.3 L387.8,426.3 L388.2,425.7 L388.6,425.4 L389,425.4 L389.4,425.8 L389.8,426.5 L390.2,427.5 L390.6,428.8 L391,430.3 L391.4,432.1 L391.8,434.2 L392.2,436.4 L392.6,438.7 L393,441.2 L393.4,443.8 L393.8,446.4 L394.2,449 L394.6,451.5 L395,454.1 L395.4,456.5 L395.8,458.9 L396.2,461.2 L396.6,463.3 L397,465.3 L397.4,467.1 L397.8,468.8 L398.2,470.4 L398.6,471.8 L399,473 L399.4,474.1 L399.8,475.1 L400.2,476 L400.6,476.8 L401,477.4 L401.4,478 L401.8,478.5 L402.2,478.9 L402.6,479.2 L403,479.5 L403.4,479.7 L403.8,479.9 L404.2,480.1 L404.6,480.2 L405,480.3 L405.4,480.4 L405.8,480.5 L406.2,480.5 L406.6,480.6 L407,480.6 L407.4,480.6 L407.8,480.6 L408.2,480.7 L408.6,480.7 L409,480.7 L409.4,480.7 L409.8,480.7 L410.2,480.7 L410.6,480.7 L411,480.7 L411.4,480.7 L411.8,480.7 L412.2,480.7 L412.6,480.7 L413,480.7 L413.4,480.7 L413.8,480.7 L414.2,480.7 L414.6,480.7 L415,480.7 L415.4,480.7 L415.8,480.7 L416.2,480.7 L416.6,480.7 L417,480.7 L417.4,480.7 L417.8,480.7 L418.2,480.7 L418.6,480.7 L419,480.7 L419.4,480.7 L419.8,480.6 L420.2,480.6 L420.6,480.6 L421,480.6 L421.4,480.5 L421.8,480.5 L422.2,480.5 L422.6,480.4 L423,480.3 L423.4,480.2 L423.8,480.1 L424.2,480 L424.6,479.9 L425,479.7 L425.4,479.5 L425.8,479.4 L426.2,479.1 L426.6,478.9 L427,478.6 L427.4,478.4 L427.8,478.1 L428.2,477.8 L428.6,477.4 L429,477.1 L429.4,476.8 L429.8,476.5 L430.2,476.2 L430.6,475.9 L431,475.6 L431.4,475.4 L431.8,475.1 L432.2,475 L432.6,474.8 L433,474.8 L433.4,474.7 L433.8,474.7 L434.2,474.8 L434.6,474.9 L435,475 L435.4,475.2 L435.8,475.5 L436.2,475.7 L436.6,476 L437,476.3 L437.4,476.6 L437.8,476.9 L438.2,477.2 L438.6,477.6 L439,477.9 L439.4,478.2 L439.8,478.5 L440.2,478.7 L440.6,479 L441,479.2 L441.4,479.4 L441.8,479.6 L442.2,479.8 L442.6,479.9 L443,480 L443.4,480.1 L443.8,480.2 L444.2,480.2 L444.6,480.3 L445,480.3 L445.4,480.2 L445.9,480.2 L446.3,480.1 L446.7,480 L447.1,479.9 L447.5,479.7 L447.9,479.4 L448.3,479.1 L448.7,478.7 L449.1,478.3 L449.5,477.7 L449.9,477.1 L450.3,476.4 L450.7,475.5 L451.1,474.5 L451.5,473.4 L451.9,472.2 L452.3,470.8 L452.7,469.2 L453.1,467.6 L453.5,465.7 L453.9,463.8 L454.3,461.7 L454.7,459.6 L455.1,457.3 L455.5,455 L455.9,452.7 L456.3,450.4 L456.7,448.2 L457.1,446 L457.5,443.9 L457.9,442.1 L458.3,440.4 L458.7,438.9 L459.1,437.7 L459.5,436.8 L459.9,436.2 L460.3,435.9 L460.7,435.9 L461.1,436.3 L461.5,437 L461.9,437.9 L462.3,439.2 L462.7,440.7 L463.1,442.4 L463.5,444.4 L463.9,446.4 L464.3,448.6 L464.7,450.9 L465.1,453.2 L465.5,455.5 L465.9,457.8 L466.3,460 L466.7,462.2 L467.1,464.2 L467.5,466.1 L467.9,467.9 L468.3,469.6 L468.7,471.1 L469.1,472.4 L469.5,473.7 L469.9,474.8 L470.3,475.7 L470.7,476.5 L471.1,477.3 L471.5,477.9 L471.9,478.4 L472.3,478.8 L472.7,479.2 L473.1,479.5 L473.5,479.8 L473.9,480 L474.3,480.1 L474.7,480.2 L475.1,480.4 L475.5,480.4 L475.9,480.5 L476.3,480.5 L476.7,480.6 L477.1,480.6 L477.5,480.6 L477.9,480.7 L478.3,480.7 L478.7,480.7 L479.1,480.7 L479.5,480.7 L479.9,480.7 L480.3,480.7 L480.7,480.7 L481.1,480.7 L481.5,480.7 L481.9,480.7 L482.3,480.7 L482.7,480.7 L483.1,480.7 L483.5,480.7 L483.9,480.7 L484.3,480.7 L484.7,480.7 L485.1,480.7 L485.5,480.7 L485.9,480.7 L486.3,480.7 L486.7,480.7 L487.1,480.7 L487.5,480.7 L487.9,480.6 L488.3,480.6 L488.7,480.6 L489.1,480.6 L489.5,480.6 L489.9,480.6 L490.3,480.5 L490.7,480.5 L491.1,480.5 L491.5,480.4 L491.9,480.4 L492.3,480.3 L492.7,480.3 L493.1,480.2 L493.5,480.1 L493.9,480 L494.3,479.9 L494.7,479.8 L495.1,479.7 L495.5,479.6 L495.9,479.4 L496.3,479.3 L496.7,479.1 L497.1,478.9 L497.5,478.7 L497.9,478.4 L498.3,478.2 L498.7,477.9 L499.1,477.6 L499.5,477.4 L499.9,477 L500.3,476.7 L500.7,476.4 L501.1,476 L501.5,475.6 L501.9,475.2 L502.3,474.8 L502.7,474.4 L503.1,474 L503.5,473.5 L503.9,473.1 L504.3,472.6 L504.7,472.2 L505.1,471.7 L505.5,471.3 L505.9,470.8 L506.3,470.3 L506.7,469.8 L507.1,469.3 L507.5,468.8 L507.9,468.3 L508.3,467.8 L508.7,467.3 L509.1,466.8 L509.5,466.2 L509.9,465.7 L510.3,465.1 L510.7,464.5 L511.1,463.9 L511.5,463.2 L511.9,462.6 L512.3,461.9 L512.7,461.2 L513.1,460.5 L513.5,459.7 L513.9,459 L514.3,458.2 L514.7,457.4 L515.1,456.7 L515.5,455.9 L515.9,455.2 L516.3,454.5 L516.7,453.8 L517.1,453.2 L517.5,452.6 L517.9,452.1 L518.3,451.7 L518.7,451.4 L519.1,451.1 L519.5,450.9 L519.9,450.9 L520.3,450.9 L520.7,451.1 L521.1,451.4 L521.5,451.8 L521.9,452.3 L522.3,452.8 L522.7,453.5 L523.1,454.3 L523.5,455.2 L523.9,456.1 L524.3,457.2 L524.7,458.2 L525.1,459.3 L525.5,460.5 L525.9,461.7 L526.3,462.8 L526.7,464 L527.1,465.2 L527.5,466.3 L527.9,467.5 L528.3,468.5 L528.8,469.6 L529.2,470.6 L529.6,471.5 L530,472.3 L530.4,473.1 L530.8,473.9 L531.2,474.5 L531.6,475.1 L532,475.7 L532.4,476.1 L532.8,476.5 L533.2,476.8 L533.6,477 L534,477.2 L534.4,477.2 L534.8,477.2 L535.2,477.2 L535.6,477 L536,476.8 L536.4,476.5 L536.8,476.2 L537.2,475.7 L537.6,475.2 L538,474.6 L538.4,473.9 L538.8,473.1 L539.2,472.2 L539.6,471.2 L540,470.2 L540.4,469 L540.8,467.8 L541.2,466.4 L541.6,465 L542,463.5 L542.4,461.9 L542.8,460.2 L543.2,458.5 L543.6,456.7 L544,454.8 L544.4,452.9 L544.8,450.9 L545.2,448.9 L545.6,446.9 L546,444.9 L546.4,442.9 L546.8,441 L547.2,439.1 L547.6,437.2 L548,435.5 L548.4,433.8 L548.8,432.2 L549.2,430.8 L549.6,429.4 L550,428.3 L550.4,427.2 L550.8,426.4 L551.2,425.7 L551.6,425.2 L552,424.9 L552.4,424.7 L552.8,424.8 L553.2,425 L553.6,425.3 L554,425.9 L554.4,426.6 L554.8,427.4 L555.2,428.4 L555.6,429.5 L556,430.7 L556.4,432 L556.8,433.3 L557.2,434.7 L557.6,436.2 L558,437.7 L558.4,439.2 L558.8,440.7 L559.2,442.2 L559.6,443.7 L560,445.1 L560.4,446.5 L560.8,447.9 L561.2,449.2 L561.6,450.5 L562,451.8 L562.4,453 L562.8,454.1 L563.2,455.2 L563.6,456.2 L564,457.2 L564.4,458.2 L564.8,459.2 L565.2,460.1 L565.6,460.9 L566,461.8 L566.4,462.6 L566.8,463.4 L567.2,464.1 L567.6,464.9 L568,465.6 L568.4,466.2 L568.8,466.9 L569.2,467.4 L569.6,468 L570,468.4 L570.4,468.9 L570.8,469.2 L571.2,469.5 L571.6,469.7 L572,469.8 L572.4,469.9 L572.8,469.9 L573.2,469.8 L573.6,469.7 L574,469.4 L574.4,469.2 L574.8,468.9 L575.2,468.5 L575.6,468.2 L576,467.8 L576.4,467.5 L576.8,467.2 L577.2,466.9 L577.6,466.7 L578,466.6 L578.4,466.5 L578.8,466.5 L579.2,466.6 L579.6,466.8 L580,467.1 L580.4,467.4 L580.8,467.9 L581.2,468.4 L581.6,469 L582,469.6 L582.4,470.3 L582.8,471 L583.2,471.8 L583.6,472.5 L584,473.2 L584.4,474 L584.8,474.7 L585.2,475.4 L585.6,476 L586,476.6 L586.4,477.1 L586.8,477.6 L587.2,478.1 L587.6,478.5 L588,478.8 L588.4,479.1 L588.8,479.4 L589.2,479.6 L589.6,479.8 L590,480 L590.4,480.1 L590.8,480.3 L591.2,480.4 L591.6,480.4 L592,480.5 L592.4,480.5 L592.8,480.6 L593.2,480.6 L593.6,480.6 L594,480.6 L594.4,480.7 L594.8,480.7 L595.2,480.7 L595.6,480.7 L596,480.7 L596.4,480.7 L596.8,480.7 L597.2,480.7 L597.6,480.7 L598,480.7 L598.4,480.7 L598.8,480.7 L599.2,480.7 L599.6,480.7 L600,480.7 L600.4,480.7 L600.8,480.7 L601.2,480.7 L601.6,480.7 L602,480.7 L602.4,480.7 L602.8,480.7 L603.2,480.7 L603.6,480.7 L604,480.7 L604.4,480.7 L604.8,480.7 L605.2,480.7 L605.6,480.7 L606,480.7 L606.4,480.7 L606.8,480.7 L607.2,480.7 L607.6,480.7 L608,480.7 L608.4,480.7 L608.8,480.7 L609.2,480.7 L609.6,480.7 L610,480.7 L610.4,480.7 L610.8,480.7 L611.2,480.7 L611.7,480.7 L612.1,480.7 L612.5,480.7 L612.9,480.7 L613.3,480.7 L613.7,480.7 L614.1,480.7 L614.5,480.7 L614.9,480.7 L615.3,480.7 L615.7,480.7 L616.1,480.7 L616.5,480.7 L616.9,480.7 L617.3,480.7 L617.7,480.7 L618.1,480.7 L618.5,480.7 L618.9,480.7 L619.3,480.7 L619.7,480.7 L620.1,480.7 L620.5,480.7 L620.9,480.7 L621.3,480.7 L621.7,480.7 L622.1,480.7 L622.5,480.7 L622.9,480.7 L623.3,480.7 L623.7,480.7 L624.1,480.7 L624.5,480.7 L624.9,480.7 L625.3,480.7 L625.7,480.7 L626.1,480.7 L626.5,480.7 L626.9,480.7 L627.3,480.7 L627.3,480.7Z" fill="#1f77b4" fill-opacity="0.27" stroke="none" clip-path="url(#kc)"/>
<path d="M347.3,480.7 L347.7,480.7 L348.1,480.7 L348.5,480.7 L348.9,480.7 L349.3,480.7 L349.7,480.7 L350.1,480.7 L350.5,480.7 L350.9,480.7 L351.3,480.7 L351.7,480.7 L352.1,480.7 L352.5,480.7 L352.9,480.7 L353.3,480.7 L353.7,480.7 L354.1,480.7 L354.5,480.7 L354.9,480.7 L355.3,480.7 L355.7,480.7 L356.1,480.7 L356.5,480.7 L356.9,480.7 L357.3,480.7 L357.7,480.7 L358.1,480.6 L358.5,480.6 L358.9,480.6 L359.3,480.6 L359.7,480.5 L360.1,480.5 L360.5,480.4 L360.9,480.3 L361.3,480.2 L361.7,480.1 L362.1,479.9 L362.5,479.7 L363,479.5 L363.4,479.2 L363.8,478.9 L364.2,478.6 L364.6,478.1 L365,477.7 L365.4,477.2 L365.8,476.6 L366.2,476 L366.6,475.3 L367,474.5 L367.4,473.8 L367.8,473 L368.2,472.1 L368.6,471.3 L369,470.4 L369.4,469.6 L369.8,468.7 L370.2,467.9 L370.6,467.2 L371,466.5 L371.4,466 L371.8,465.4 L372.2,465 L372.6,464.7 L373,464.5 L373.4,464.4 L373.8,464.4 L374.2,464.5 L374.6,464.6 L375,464.8 L375.4,465 L375.8,465.3 L376.2,465.5 L376.6,465.8 L377,465.9 L377.4,466 L377.8,466 L378.2,465.8 L378.6,465.5 L379,465 L379.4,464.4 L379.8,463.5 L380.2,462.5 L380.6,461.2 L381,459.8 L381.4,458.1 L381.8,456.3 L382.2,454.3 L382.6,452.2 L383,449.9 L383.4,447.6 L383.8,445.2 L384.2,442.8 L384.6,440.4 L385,438 L385.4,435.8 L385.8,433.7 L386.2,431.7 L386.6,430 L387,428.5 L387.4,427.3 L387.8,426.3 L388.2,425.7 L388.6,425.4 L389,425.4 L389.4,425.8 L389.8,426.5 L390.2,427.5 L390.6,428.8 L391,430.3 L391.4,432.1 L391.8,434.2 L392.2,436.4 L392.6,438.7 L393,441.2 L393.4,443.8 L393.8,446.4 L394.2,449 L394.6,451.5 L395,454.1 L395.4,456.5 L395.8,458.9 L396.2,461.2 L396.6,463.3 L397,465.3 L397.4,467.1 L397.8,468.8 L398.2,470.4 L398.6,471.8 L399,473 L399.4,474.1 L399.8,475.1 L400.2,476 L400.6,476.8 L401,477.4 L401.4,478 L401.8,478.5 L402.2,478.9 L402.6,479.2 L403,479.5 L403.4,479.7 L403.8,479.9 L404.2,480.1 L404.6,480.2 L405,480.3 L405.4,480.4 L405.8,480.5 L406.2,480.5 L406.6,480.6 L407,480.6 L407.4,480.6 L407.8,480.6 L408.2,480.7 L408.6,480.7 L409,480.7 L409.4,480.7 L409.8,480.7 L410.2,480.7 L410.6,480.7 L411,480.7 L411.4,480.7 L411.8,480.7 L412.2,480.7 L412.6,480.7 L413,480.7 L413.4,480.7 L413.8,480.7 L414.2,480.7 L414.6,480.7 L415,480.7 L415.4,480.7 L415.8,480.7 L416.2,480.7 L416.6,480.7 L417,480.7 L417.4,480.7 L417.8,480.7 L418.2,480.7 L418.6,480.7 L419,480.7 L419.4,480.7 L419.8,480.6 L420.2,480.6 L420.6,480.6 L421,480.6 L421.4,480.5 L421.8,480.5 L422.2,480.5 L422.6,480.4 L423,480.3 L423.4,480.2 L423.8,480.1 L424.2,480 L424.6,479.9 L425,479.7 L425.4,479.5 L425.8,479.4 L426.2,479.1 L426.6,478.9 L427,478.6 L427.4,478.4 L427.8,478.1 L428.2,477.8 L428.6,477.4 L429,477.1 L429.4,476.8 L429.8,476.5 L430.2,476.2 L430.6,475.9 L431,475.6 L431.4,475.4 L431.8,475.1 L432.2,475 L432.6,474.8 L433,474.8 L433.4,474.7 L433.8,474.7 L434.2,474.8 L434.6,474.9 L435,475 L435.4,475.2 L435.8,475.5 L436.2,475.7 L436.6,476 L437,476.3 L437.4,476.6 L437.8,476.9 L438.2,477.2 L438.6,477.6 L439,477.9 L439.4,478.2 L439.8,478.5 L440.2,478.7 L440.6,479 L441,479.2 L441.4,479.4 L441.8,479.6 L442.2,479.8 L442.6,479.9 L443,480 L443.4,480.1 L443.8,480.2 L444.2,480.2 L444.6,480.3 L445,480.3 L445.4,480.2 L445.9,480.2 L446.3,480.1 L446.7,480 L447.1,479.9 L447.5,479.7 L447.9,479.4 L448.3,479.1 L448.7,478.7 L449.1,478.3 L449.5,477.7 L449.9,477.1 L450.3,476.4 L450.7,475.5 L451.1,474.5 L451.5,473.4 L451.9,472.2 L452.3,470.8 L452.7,469.2 L453.1,467.6 L453.5,465.7 L453.9,463.8 L454.3,461.7 L454.7,459.6 L455.1,457.3 L455.5,455 L455.9,452.7 L456.3,450.4 L456.7,448.2 L457.1,446 L457.5,443.9 L457.9,442.1 L458.3,440.4 L458.7,438.9 L459.1,437.7 L459.5,436.8 L459.9,436.2 L460.3,435.9 L460.7,435.9 L461.1,436.3 L461.5,437 L461.9,437.9 L462.3,439.2 L462.7,440.7 L463.1,442.4 L463.5,444.4 L463.9,446.4 L464.3,448.6 L464.7,450.9 L465.1,453.2 L465.5,455.5 L465.9,457.8 L466.3,460 L466.7,462.2 L467.1,464.2 L467.5,466.1 L467.9,467.9 L468.3,469.6 L468.7,471.1 L469.1,472.4 L469.5,473.7 L469.9,474.8 L470.3,475.7 L470.7,476.5 L471.1,477.3 L471.5,477.9 L471.9,478.4 L472.3,478.8 L472.7,479.2 L473.1,479.5 L473.5,479.8 L473.9,480 L474.3,480.1 L474.7,480.2 L475.1,480.4 L475.5,480.4 L475.9,480.5 L476.3,480.5 L476.7,480.6 L477.1,480.6 L477.5,480.6 L477.9,480.7 L478.3,480.7 L478.7,480.7 L479.1,480.7 L479.5,480.7 L479.9,480.7 L480.3,480.7 L480.7,480.7 L481.1,480.7 L481.5,480.7 L481.9,480.7 L482.3,480.7 L482.7,480.7 L483.1,480.7 L483.5,480.7 L483.9,480.7 L484.3,480.7 L484.7,480.7 L485.1,480.7 L485.5,480.7 L485.9,480.7 L486.3,480.7 L486.7,480.7 L487.1,480.7 L487.5,480.7 L487.9,480.6 L488.3,480.6 L488.7,480.6 L489.1,480.6 L489.5,480.6 L489.9,480.6 L490.3,480.5 L490.7,480.5 L491.1,480.5 L491.5,480.4 L491.9,480.4 L492.3,480.3 L492.7,480.3 L493.1,480.2 L493.5,480.1 L493.9,480 L494.3,479.9 L494.7,479.8 L495.1,479.7 L495.5,479.6 L495.9,479.4 L496.3,479.3 L496.7,479.1 L497.1,478.9 L497.5,478.7 L497.9,478.4 L498.3,478.2 L498.7,477.9 L499.1,477.6 L499.5,477.4 L499.9,477 L500.3,476.7 L500.7,476.4 L501.1,476 L501.5,475.6 L501.9,475.2 L502.3,474.8 L502.7,474.4 L503.1,474 L503.5,473.5 L503.9,473.1 L504.3,472.6 L504.7,472.2 L505.1,471.7 L505.5,471.3 L505.9,470.8 L506.3,470.3 L506.7,469.8 L507.1,469.3 L507.5,468.8 L507.9,468.3 L508.3,467.8 L508.7,467.3 L509.1,466.8 L509.5,466.2 L509.9,465.7 L510.3,465.1 L510.7,464.5 L511.1,463.9 L511.5,463.2 L511.9,462.6 L512.3,461.9 L512.7,461.2 L513.1,460.5 L513.5,459.7 L513.9,459 L514.3,458.2 L514.7,457.4 L515.1,456.7 L515.5,455.9 L515.9,455.2 L516.3,454.5 L516.7,453.8 L517.1,453.2 L517.5,452.6 L517.9,452.1 L518.3,451.7 L518.7,451.4 L519.1,451.1 L519.5,450.9 L519.9,450.9 L520.3,450.9 L520.7,451.1 L521.1,451.4 L521.5,451.8 L521.9,452.3 L522.3,452.8 L522.7,453.5 L523.1,454.3 L523.5,455.2 L523.9,456.1 L524.3,457.2 L524.7,458.2 L525.1,459.3 L525.5,460.5 L525.9,461.7 L526.3,462.8 L526.7,464 L527.1,465.2 L527.5,466.3 L527.9,467.5 L528.3,468.5 L528.8,469.6 L529.2,470.6 L529.6,471.5 L530,472.3 L530.4,473.1 L530.8,473.9 L531.2,474.5 L531.6,475.1 L532,475.7 L532.4,476.1 L532.8,476.5 L533.2,476.8 L533.6,477 L534,477.2 L534.4,477.2 L534.8,477.2 L535.2,477.2 L535.6,477 L536,476.8 L536.4,476.5 L536.8,476.2 L537.2,475.7 L537.6,475.2 L538,474.6 L538.4,473.9 L538.8,473.1 L539.2,472.2 L539.6,471.2 L540,470.2 L540.4,469 L540.8,467.8 L541.2,466.4 L541.6,465 L542,463.5 L542.4,461.9 L542.8,460.2 L543.2,458.5 L543.6,456.7 L544,454.8 L544.4,452.9 L544.8,450.9 L545.2,448.9 L545.6,446.9 L546,444.9 L546.4,442.9 L546.8,441 L547.2,439.1 L547.6,437.2 L548,435.5 L548.4,433.8 L548.8,432.2 L549.2,430.8 L549.6,429.4 L550,428.3 L550.4,427.2 L550.8,426.4 L551.2,425.7 L551.6,425.2 L552,424.9 L552.4,424.7 L552.8,424.8 L553.2,425 L553.6,425.3 L554,425.9 L554.4,426.6 L554.8,427.4 L555.2,428.4 L555.6,429.5 L556,430.7 L556.4,432 L556.8,433.3 L557.2,434.7 L557.6,436.2 L558,437.7 L558.4,439.2 L558.8,440.7 L559.2,442.2 L559.6,443.7 L560,445.1 L560.4,446.5 L560.8,447.9 L561.2,449.2 L561.6,450.5 L562,451.8 L562.4,453 L562.8,454.1 L563.2,455.2 L563.6,456.2 L564,457.2 L564.4,458.2 L564.8,459.2 L565.2,460.1 L565.6,460.9 L566,461.8 L566.4,462.6 L566.8,463.4 L567.2,464.1 L567.6,464.9 L568,465.6 L568.4,466.2 L568.8,466.9 L569.2,467.4 L569.6,468 L570,468.4 L570.4,468.9 L570.8,469.2 L571.2,469.5 L571.6,469.7 L572,469.8 L572.4,469.9 L572.8,469.9 L573.2,469.8 L573.6,469.7 L574,469.4 L574.4,469.2 L574.8,468.9 L575.2,468.5 L575.6,468.2 L576,467.8 L576.4,467.5 L576.8,467.2 L577.2,466.9 L577.6,466.7 L578,466.6 L578.4,466.5 L578.8,466.5 L579.2,466.6 L579.6,466.8 L580,467.1 L580.4,467.4 L580.8,467.9 L581.2,468.4 L581.6,469 L582,469.6 L582.4,470.3 L582.8,471 L583.2,471.8 L583.6,472.5 L584,473.2 L584.4,474 L584.8,474.7 L585.2,475.4 L585.6,476 L586,476.6 L586.4,477.1 L586.8,477.6 L587.2,478.1 L587.6,478.5 L588,478.8 L588.4,479.1 L588.8,479.4 L589.2,479.6 L589.6,479.8 L590,480 L590.4,480.1 L590.8,480.3 L591.2,480.4 L591.6,480.4 L592,480.5 L592.4,480.5 L592.8,480.6 L593.2,480.6 L593.6,480.6 L594,480.6 L594.4,480.7 L594.8,480.7 L595.2,480.7 L595.6,480.7 L596,480.7 L596.4,480.7 L596.8,480.7 L597.2,480.7 L597.6,480.7 L598,480.7 L598.4,480.7 L598.8,480.7 L599.2,480.7 L599.6,480.7 L600,480.7 L600.4,480.7 L600.8,480.7 L601.2,480.7 L601.6,480.7 L602,480.7 L602.4,480.7 L602.8,480.7 L603.2,480.7 L603.6,480.7 L604,480.7 L604.4,480.7 L604.8,480.7 L605.2,480.7 L605.6,480.7 L606,480.7 L606.4,480.7 L606.8,480.7 L607.2,480.7 L607.6,480.7 L608,480.7 L608.4,480.7 L608.8,480.7 L609.2,480.7 L609.6,480.7 L610,480.7 L610.4,480.7 L610.8,480.7 L611.2,480.7 L611.7,480.7 L612.1,480.7 L612.5,480.7 L612.9,480.7 L613.3,480.7 L613.7,480.7 L614.1,480.7 L614.5,480.7 L614.9,480.7 L615.3,480.7 L615.7,480.7 L616.1,480.7 L616.5,480.7 L616.9,480.7 L617.3,480.7 L617.7,480.7 L618.1,480.7 L618.5,480.7 L618.9,480.7 L619.3,480.7 L619.7,480.7 L620.1,480.7 L620.5,480.7 L620.9,480.7 L621.3,480.7 L621.7,480.7 L622.1,480.7 L622.5,480.7 L622.9,480.7 L623.3,480.7 L623.7,480.7 L624.1,480.7 L624.5,480.7 L624.9,480.7 L625.3,480.7 L625.7,480.7 L626.1,480.7 L626.5,480.7 L626.9,480.7 L627.3,480.7" fill="none" stroke="#1f77b4" stroke-width="0.85" stroke-opacity="0.95" clip-path="url(#kc)"/>
<rect x="341.0" y="268.2" width="342.3" height="212.5" fill="none" stroke="#1a1a1a" stroke-width="1.75"/>
<line x1="354.1" y1="480.7" x2="354.1" y2="476.2" stroke="#1a1a1a" stroke-width="1.4"/>
<line x1="354.1" y1="268.2" x2="354.1" y2="272.7" stroke="#1a1a1a" stroke-width="1.4"/>
<text x="354.1" y="492.6" font-family='"DejaVu Serif", "Liberation Serif", serif' font-size="11" text-anchor="middle" fill="#262626">0</text>
<line x1="398.8" y1="480.7" x2="398.8" y2="476.2" stroke="#1a1a1a" stroke-width="1.4"/>
<line x1="398.8" y1="268.2" x2="398.8" y2="272.7" stroke="#1a1a1a" stroke-width="1.4"/>
<text x="398.8" y="492.6" font-family='"DejaVu Serif", "Liberation Serif", serif' font-size="11" text-anchor="middle" fill="#262626">2</text>
<line x1="443.6" y1="480.7" x2="443.6" y2="476.2" stroke="#1a1a1a" stroke-width="1.4"/>
<line x1="443.6" y1="268.2" x2="443.6" y2="272.7" stroke="#1a1a1a" stroke-width="1.4"/>
<text x="443.6" y="492.6" font-family='"DejaVu Serif", "Liberation Serif", serif' font-size="11" text-anchor="middle" fill="#262626">4</text>
<line x1="488.4" y1="480.7" x2="488.4" y2="476.2" stroke="#1a1a1a" stroke-width="1.4"/>
<line x1="488.4" y1="268.2" x2="488.4" y2="272.7" stroke="#1a1a1a" stroke-width="1.4"/>
<text x="488.4" y="492.6" font-family='"DejaVu Serif", "Liberation Serif", serif' font-size="11" text-anchor="middle" fill="#262626">6</text>
<line x1="533.2" y1="480.7" x2="533.2" y2="476.2" stroke="#1a1a1a" stroke-width="1.4"/>
<line x1="533.2" y1="268.2" x2="533.2" y2="272.7" stroke="#1a1a1a" stroke-width="1.4"/>
<text x="533.2" y="492.6" font-family='"DejaVu Serif", "Liberation Serif", serif' font-size="11" text-anchor="middle" fill="#262626">8</text>
<line x1="578" y1="480.7" x2="578" y2="476.2" stroke="#1a1a1a" stroke-width="1.4"/>
<line x1="578" y1="268.2" x2="578" y2="272.7" stroke="#1a1a1a" stroke-width="1.4"/>
<text x="578" y="492.6" font-family='"DejaVu Serif", "Liberation Serif", serif' font-size="11" text-anchor="middle" fill="#262626">10</text>
<line x1="622.8" y1="480.7" x2="622.8" y2="476.2" stroke="#1a1a1a" stroke-width="1.4"/>
<line x1="622.8" y1="268.2" x2="622.8" y2="272.7" stroke="#1a1a1a" stroke-width="1.4"/>
<text x="622.8" y="492.6" font-family='"DejaVu Serif", "Liberation Serif", serif' font-size="11" text-anchor="middle" fill="#262626">12</text>
<line x1="667.6" y1="480.7" x2="667.6" y2="476.2" stroke="#1a1a1a" stroke-width="1.4"/>
<line x1="667.6" y1="268.2" x2="667.6" y2="272.7" stroke="#1a1a1a" stroke-width="1.4"/>
<text x="667.6" y="492.6" font-family='"DejaVu Serif", "Liberation Serif", serif' font-size="11" text-anchor="middle" fill="#262626">14</text>
<line x1="341.0" y1="480.7" x2="345.5" y2="480.7" stroke="#1a1a1a" stroke-width="1.4"/>
<line x1="683.3" y1="480.7" x2="678.8" y2="480.7" stroke="#1a1a1a" stroke-width="1.4"/>
<text x="338.0" y="484.9" font-family='"DejaVu Serif", "Liberation Serif", serif' font-size="10.8" text-anchor="end" fill="#262626">0.0</text>
<line x1="341.0" y1="450.8" x2="345.5" y2="450.8" stroke="#1a1a1a" stroke-width="1.4"/>
<line x1="683.3" y1="450.8" x2="678.8" y2="450.8" stroke="#1a1a1a" stroke-width="1.4"/>
<text x="338.0" y="455" font-family='"DejaVu Serif", "Liberation Serif", serif' font-size="10.8" text-anchor="end" fill="#262626">0.2</text>
<line x1="341.0" y1="420.9" x2="345.5" y2="420.9" stroke="#1a1a1a" stroke-width="1.4"/>
<line x1="683.3" y1="420.9" x2="678.8" y2="420.9" stroke="#1a1a1a" stroke-width="1.4"/>
<text x="338.0" y="425.1" font-family='"DejaVu Serif", "Liberation Serif", serif' font-size="10.8" text-anchor="end" fill="#262626">0.4</text>
<line x1="341.0" y1="391.1" x2="345.5" y2="391.1" stroke="#1a1a1a" stroke-width="1.4"/>
<line x1="683.3" y1="391.1" x2="678.8" y2="391.1" stroke="#1a1a1a" stroke-width="1.4"/>
<text x="338.0" y="395.3" font-family='"DejaVu Serif", "Liberation Serif", serif' font-size="10.8" text-anchor="end" fill="#262626">0.6</text>
<line x1="341.0" y1="361.2" x2="345.5" y2="361.2" stroke="#1a1a1a" stroke-width="1.4"/>
<line x1="683.3" y1="361.2" x2="678.8" y2="361.2" stroke="#1a1a1a" stroke-width="1.4"/>
<text x="338.0" y="365.4" font-family='"DejaVu Serif", "Liberation Serif", serif' font-size="10.8" text-anchor="end" fill="#262626">0.8</text>
<line x1="341.0" y1="331.3" x2="345.5" y2="331.3" stroke="#1a1a1a" stroke-width="1.4"/>
<line x1="683.3" y1="331.3" x2="678.8" y2="331.3" stroke="#1a1a1a" stroke-width="1.4"/>
<text x="338.0" y="335.5" font-family='"DejaVu Serif", "Liberation Serif", serif' font-size="10.8" text-anchor="end" fill="#262626">1.0</text>
<line x1="341.0" y1="301.4" x2="345.5" y2="301.4" stroke="#1a1a1a" stroke-width="1.4"/>
<line x1="683.3" y1="301.4" x2="678.8" y2="301.4" stroke="#1a1a1a" stroke-width="1.4"/>
<text x="338.0" y="305.6" font-family='"DejaVu Serif", "Liberation Serif", serif' font-size="10.8" text-anchor="end" fill="#262626">1.2</text>
<line x1="341.0" y1="271.5" x2="345.5" y2="271.5" stroke="#1a1a1a" stroke-width="1.4"/>
<line x1="683.3" y1="271.5" x2="678.8" y2="271.5" stroke="#1a1a1a" stroke-width="1.4"/>
<text x="338.0" y="275.7" font-family='"DejaVu Serif", "Liberation Serif", serif' font-size="10.8" text-anchor="end" fill="#262626">1.4</text>
<text x="512.1" y="510.8" font-family='"DejaVu Serif", "Liberation Serif", serif' font-size="12.3" text-anchor="middle" fill="#262626">PCE (%)</text>
<text transform="translate(309.5,374.4) rotate(-90)" font-family='"DejaVu Serif", "Liberation Serif", serif' font-size="12.4" text-anchor="middle" fill="#262626">Probability Density</text>
<rect x="345.7" y="273.6" width="86.3" height="84.6" rx="1.7" fill="#fff" fill-opacity="0.9" stroke="#4d4d4d" stroke-width="0.9"/>
<text x="389" y="285.3" font-family='"DejaVu Serif", "Liberation Serif", serif' font-size="10.8" text-anchor="middle" fill="#262626">Film thickness</text>
<rect x="358.2" y="293.2" width="18.2" height="5.2" fill="#1f77b4" fill-opacity="0.3"/>
<text x="384.2" y="299" font-family='"DejaVu Serif", "Liberation Serif", serif' font-size="9.1" fill="#262626">50 nm</text>
<rect x="358.2" y="306.6" width="18.2" height="5.2" fill="#d62728" fill-opacity="0.3"/>
<text x="384.2" y="312.4" font-family='"DejaVu Serif", "Liberation Serif", serif' font-size="9.1" fill="#262626">100 nm</text>
<rect x="358.2" y="320" width="18.2" height="5.2" fill="#ff7f0e" fill-opacity="0.3"/>
<text x="384.2" y="325.8" font-family='"DejaVu Serif", "Liberation Serif", serif' font-size="9.1" fill="#262626">150 nm</text>
<rect x="358.2" y="333.4" width="18.2" height="5.2" fill="#2ca02c" fill-opacity="0.3"/>
<text x="384.2" y="339.2" font-family='"DejaVu Serif", "Liberation Serif", serif' font-size="9.1" fill="#262626">200 nm</text>
<rect x="358.2" y="346.8" width="18.2" height="5.2" fill="#9467bd" fill-opacity="0.3"/>
<text x="384.2" y="352.6" font-family='"DejaVu Serif", "Liberation Serif", serif' font-size="9.1" fill="#262626">250 nm</text>
<text x="502.5" y="286.6" font-family='"Liberation Serif", "DejaVu Serif", serif' font-size="19.2" fill="#000">d)</text>
</g>
<g id="mols">
<text x="505.3" y="13.1" font-family='"Liberation Serif", "DejaVu Serif", serif' font-size="19" fill="#000">b)</text>
<path d="M347.9,17.2 L357.5,11.4 L367.2,16.6 L368,28 L358.9,34.2 L348.4,28.4Z" fill="none" stroke="#222222" stroke-width="0.95" stroke-linejoin="round" stroke-linecap="round"/>
<path d="M350,17.6 L356.9,13.5" fill="none" stroke="#222222" stroke-width="0.95" stroke-linejoin="round" stroke-linecap="round"/>
<path d="M365.8,18.4 L366.4,26.6" fill="none" stroke="#222222" stroke-width="0.95" stroke-linejoin="round" stroke-linecap="round"/>
<path d="M358.2,32 L350.6,27.9" fill="none" stroke="#222222" stroke-width="0.95" stroke-linejoin="round" stroke-linecap="round"/>
<path d="M368,28 L378.9,34.7" fill="none" stroke="#222222" stroke-width="0.95" stroke-linejoin="round" stroke-linecap="round"/>
<path d="M378.9,34.7 L388.7,28.9 L398.7,34.7 L409.2,28.9 L420.6,34.7" fill="none" stroke="#222222" stroke-width="0.95" stroke-linejoin="round" stroke-linecap="round"/>
<path d="M420.6,34.7 L427.1,30.8" fill="none" stroke="#222222" stroke-width="0.95" stroke-linejoin="round" stroke-linecap="round"/>
<path d="M419.8,34.7 L419.8,43.6" fill="none" stroke="#222222" stroke-width="0.95" stroke-linejoin="round" stroke-linecap="round"/>
<path d="M421.3,34.7 L421.3,43.6" fill="none" stroke="#222222" stroke-width="0.95" stroke-linejoin="round" stroke-linecap="round"/>
<text x="420.6" y="49.5" font-family='"Liberation Sans", "DejaVu Sans", sans-serif' font-size="8.2" text-anchor="middle" fill="#222222">O</text>
<text x="428" y="33" font-family='"Liberation Sans", "DejaVu Sans", sans-serif' font-size="8.2" fill="#222222">OCH<tspan font-size="5.8" dy="1.6">3</tspan></text>
<path d="M416.3,99.9 L418.9,93" fill="none" stroke="#222222" stroke-width="0.8" stroke-linejoin="round" stroke-linecap="round"/>
<path d="M416.2,98.9 L418.2,93.6" fill="none" stroke="#222222" stroke-width="0.8" stroke-linejoin="round" stroke-linecap="round"/>
<path d="M418.9,93 L419.7,78.9" fill="none" stroke="#222222" stroke-width="0.8" stroke-linejoin="round" stroke-linecap="round"/>
<path d="M418.9,93 L412.8,97" fill="none" stroke="#222222" stroke-width="0.8" stroke-linejoin="round" stroke-linecap="round"/>
<path d="M419.7,78.9 L417.8,71.8" fill="none" stroke="#222222" stroke-width="0.8" stroke-linejoin="round" stroke-linecap="round"/>
<path d="M419,78.2 L417.5,72.8" fill="none" stroke="#222222" stroke-width="0.8" stroke-linejoin="round" stroke-linecap="round"/>
<path d="M419.7,78.9 L413.9,74.3" fill="none" stroke="#222222" stroke-width="0.8" stroke-linejoin="round" stroke-linecap="round"/>
<path d="M407.5,110.8 L401.3,114.8" fill="none" stroke="#222222" stroke-width="0.8" stroke-linejoin="round" stroke-linecap="round"/>
<path d="M406.5,110.9 L401.8,113.9" fill="none" stroke="#222222" stroke-width="0.8" stroke-linejoin="round" stroke-linecap="round"/>
<path d="M412.8,97 L403.9,107.9" fill="none" stroke="#222222" stroke-width="0.8" stroke-linejoin="round" stroke-linecap="round"/>
<path d="M412.5,98.9 L405.8,107.2" fill="none" stroke="#222222" stroke-width="0.8" stroke-linejoin="round" stroke-linecap="round"/>
<path d="M412.8,97 L409.7,85.5" fill="none" stroke="#222222" stroke-width="0.8" stroke-linejoin="round" stroke-linecap="round"/>
<path d="M401.3,114.8 L403.9,107.9" fill="none" stroke="#222222" stroke-width="0.8" stroke-linejoin="round" stroke-linecap="round"/>
<path d="M401.3,114.8 L387.7,118.4" fill="none" stroke="#222222" stroke-width="0.8" stroke-linejoin="round" stroke-linecap="round"/>
<path d="M403.9,107.9 L392,107.3" fill="none" stroke="#222222" stroke-width="0.8" stroke-linejoin="round" stroke-linecap="round"/>
<path d="M413.9,74.3 L409.7,85.5" fill="none" stroke="#222222" stroke-width="0.8" stroke-linejoin="round" stroke-linecap="round"/>
<path d="M413.9,74.3 L406.3,62.5" fill="none" stroke="#222222" stroke-width="0.8" stroke-linejoin="round" stroke-linecap="round"/>
<path d="M413.9,72.3 L408.1,63.4" fill="none" stroke="#222222" stroke-width="0.8" stroke-linejoin="round" stroke-linecap="round"/>
<path d="M409.7,85.5 L397.7,84.8" fill="none" stroke="#222222" stroke-width="0.8" stroke-linejoin="round" stroke-linecap="round"/>
<path d="M408.3,83.9 L399.2,83.4" fill="none" stroke="#222222" stroke-width="0.8" stroke-linejoin="round" stroke-linecap="round"/>
<path d="M410.1,60 L404.4,55.4" fill="none" stroke="#222222" stroke-width="0.8" stroke-linejoin="round" stroke-linecap="round"/>
<path d="M409.1,59.8 L404.8,56.3" fill="none" stroke="#222222" stroke-width="0.8" stroke-linejoin="round" stroke-linecap="round"/>
<path d="M387.7,118.4 L380.3,118" fill="none" stroke="#222222" stroke-width="0.8" stroke-linejoin="round" stroke-linecap="round"/>
<path d="M386.8,117.9 L381.2,117.6" fill="none" stroke="#222222" stroke-width="0.8" stroke-linejoin="round" stroke-linecap="round"/>
<path d="M387.7,118.4 L382,113.8" fill="none" stroke="#222222" stroke-width="0.8" stroke-linejoin="round" stroke-linecap="round"/>
<path d="M392,107.3 L388.9,95.7" fill="none" stroke="#222222" stroke-width="0.8" stroke-linejoin="round" stroke-linecap="round"/>
<path d="M393,105.5 L390.7,96.7" fill="none" stroke="#222222" stroke-width="0.8" stroke-linejoin="round" stroke-linecap="round"/>
<path d="M392,107.3 L382,113.8" fill="none" stroke="#222222" stroke-width="0.8" stroke-linejoin="round" stroke-linecap="round"/>
<path d="M406.3,62.5 L404.4,55.4" fill="none" stroke="#222222" stroke-width="0.8" stroke-linejoin="round" stroke-linecap="round"/>
<path d="M406.3,62.5 L394.4,61.9" fill="none" stroke="#222222" stroke-width="0.8" stroke-linejoin="round" stroke-linecap="round"/>
<path d="M397.7,84.8 L388.9,95.7" fill="none" stroke="#222222" stroke-width="0.8" stroke-linejoin="round" stroke-linecap="round"/>
<path d="M397.7,84.8 L390.1,73" fill="none" stroke="#222222" stroke-width="0.8" stroke-linejoin="round" stroke-linecap="round"/>
<path d="M404.4,55.4 L391.3,50.4" fill="none" stroke="#222222" stroke-width="0.8" stroke-linejoin="round" stroke-linecap="round"/>
<path d="M388.9,95.7 L375.8,90.7" fill="none" stroke="#222222" stroke-width="0.8" stroke-linejoin="round" stroke-linecap="round"/>
<path d="M382,113.8 L368.9,108.8" fill="none" stroke="#222222" stroke-width="0.8" stroke-linejoin="round" stroke-linecap="round"/>
<path d="M380,114.1 L370.1,110.3" fill="none" stroke="#222222" stroke-width="0.8" stroke-linejoin="round" stroke-linecap="round"/>
<path d="M394.4,61.9 L390.1,73" fill="none" stroke="#222222" stroke-width="0.8" stroke-linejoin="round" stroke-linecap="round"/>
<path d="M395.2,63.8 L392,72.2" fill="none" stroke="#222222" stroke-width="0.8" stroke-linejoin="round" stroke-linecap="round"/>
<path d="M394.4,61.9 L385.1,54.4" fill="none" stroke="#222222" stroke-width="0.8" stroke-linejoin="round" stroke-linecap="round"/>
<path d="M390.1,73 L376.5,76.7" fill="none" stroke="#222222" stroke-width="0.8" stroke-linejoin="round" stroke-linecap="round"/>
<path d="M391.3,50.4 L385.1,54.4" fill="none" stroke="#222222" stroke-width="0.8" stroke-linejoin="round" stroke-linecap="round"/>
<path d="M391.3,50.4 L383.9,50" fill="none" stroke="#222222" stroke-width="0.8" stroke-linejoin="round" stroke-linecap="round"/>
<path d="M390.4,50.8 L384.8,50.5" fill="none" stroke="#222222" stroke-width="0.8" stroke-linejoin="round" stroke-linecap="round"/>
<path d="M367.2,113 L361.5,108.4" fill="none" stroke="#222222" stroke-width="0.8" stroke-linejoin="round" stroke-linecap="round"/>
<path d="M366.8,112.1 L362.5,108.6" fill="none" stroke="#222222" stroke-width="0.8" stroke-linejoin="round" stroke-linecap="round"/>
<path d="M375.8,90.7 L376.5,76.7" fill="none" stroke="#222222" stroke-width="0.8" stroke-linejoin="round" stroke-linecap="round"/>
<path d="M375.8,90.7 L365.8,97.2" fill="none" stroke="#222222" stroke-width="0.8" stroke-linejoin="round" stroke-linecap="round"/>
<path d="M373.8,90.3 L366.2,95.2" fill="none" stroke="#222222" stroke-width="0.8" stroke-linejoin="round" stroke-linecap="round"/>
<path d="M368.9,108.8 L361.5,108.4" fill="none" stroke="#222222" stroke-width="0.8" stroke-linejoin="round" stroke-linecap="round"/>
<path d="M368.9,108.8 L365.8,97.2" fill="none" stroke="#222222" stroke-width="0.8" stroke-linejoin="round" stroke-linecap="round"/>
<path d="M385.1,54.4 L371.5,58" fill="none" stroke="#222222" stroke-width="0.8" stroke-linejoin="round" stroke-linecap="round"/>
<path d="M383.2,53.8 L372.9,56.6" fill="none" stroke="#222222" stroke-width="0.8" stroke-linejoin="round" stroke-linecap="round"/>
<path d="M376.5,76.7 L367.2,69.2" fill="none" stroke="#222222" stroke-width="0.8" stroke-linejoin="round" stroke-linecap="round"/>
<path d="M374.5,76.9 L367.4,71.2" fill="none" stroke="#222222" stroke-width="0.8" stroke-linejoin="round" stroke-linecap="round"/>
<path d="M361.5,108.4 L353.8,96.6" fill="none" stroke="#222222" stroke-width="0.8" stroke-linejoin="round" stroke-linecap="round"/>
<path d="M365.8,97.2 L356.5,89.7" fill="none" stroke="#222222" stroke-width="0.8" stroke-linejoin="round" stroke-linecap="round"/>
<path d="M371.5,58 L367.2,69.2" fill="none" stroke="#222222" stroke-width="0.8" stroke-linejoin="round" stroke-linecap="round"/>
<path d="M371.5,58 L364.1,57.6" fill="none" stroke="#222222" stroke-width="0.8" stroke-linejoin="round" stroke-linecap="round"/>
<path d="M367.2,69.2 L357.2,75.7" fill="none" stroke="#222222" stroke-width="0.8" stroke-linejoin="round" stroke-linecap="round"/>
<path d="M370.3,53.6 L364.1,57.6" fill="none" stroke="#222222" stroke-width="0.8" stroke-linejoin="round" stroke-linecap="round"/>
<path d="M369.8,54.5 L365.1,57.5" fill="none" stroke="#222222" stroke-width="0.8" stroke-linejoin="round" stroke-linecap="round"/>
<path d="M353.8,96.6 L356.5,89.7" fill="none" stroke="#222222" stroke-width="0.8" stroke-linejoin="round" stroke-linecap="round"/>
<path d="M353.8,96.6 L351.9,89.5" fill="none" stroke="#222222" stroke-width="0.8" stroke-linejoin="round" stroke-linecap="round"/>
<path d="M354.1,95.6 L352.6,90.2" fill="none" stroke="#222222" stroke-width="0.8" stroke-linejoin="round" stroke-linecap="round"/>
<path d="M356.5,89.7 L357.2,75.7" fill="none" stroke="#222222" stroke-width="0.8" stroke-linejoin="round" stroke-linecap="round"/>
<path d="M355.5,88 L356.1,77.3" fill="none" stroke="#222222" stroke-width="0.8" stroke-linejoin="round" stroke-linecap="round"/>
<path d="M364.1,57.6 L355.3,68.5" fill="none" stroke="#222222" stroke-width="0.8" stroke-linejoin="round" stroke-linecap="round"/>
<path d="M357.2,75.7 L355.3,68.5" fill="none" stroke="#222222" stroke-width="0.8" stroke-linejoin="round" stroke-linecap="round"/>
<path d="M352.7,75.4 L355.3,68.5" fill="none" stroke="#222222" stroke-width="0.8" stroke-linejoin="round" stroke-linecap="round"/>
<path d="M353.4,74.8 L355.4,69.5" fill="none" stroke="#222222" stroke-width="0.8" stroke-linejoin="round" stroke-linecap="round"/>
<circle cx="385.8" cy="84.2" r="34.8" fill="none" stroke="#222222" stroke-width="0.55"/>
<path d="M378.9,34.7 L366.2,70.3" fill="none" stroke="#222222" stroke-width="0.8" stroke-linejoin="round" stroke-linecap="round"/>
<path d="M378.9,34.7 L383.9,54.1" fill="none" stroke="#222222" stroke-width="0.8" stroke-linejoin="round" stroke-linecap="round"/>
<text x="387.5" y="138.3" font-family='"Liberation Serif", "DejaVu Serif", serif' font-size="13.2" font-weight="bold" text-anchor="middle" fill="#000">A1</text>
<path d="M434.5,154.1 L445.5,152.7 L450.9,160.9 L446.5,170.5 L435.9,171.5 L429.8,163.4Z" fill="none" stroke="#222222" stroke-width="0.95" stroke-linejoin="round" stroke-linecap="round"/>
<path d="M445,154.7 L448.9,160.6" fill="none" stroke="#222222" stroke-width="0.95" stroke-linejoin="round" stroke-linecap="round"/>
<path d="M444.9,169.1 L437.2,169.9" fill="none" stroke="#222222" stroke-width="0.95" stroke-linejoin="round" stroke-linecap="round"/>
<path d="M431.8,162.8 L435.2,156.1" fill="none" stroke="#222222" stroke-width="0.95" stroke-linejoin="round" stroke-linecap="round"/>
<path d="M434.5,154.1 L430.7,144.8 L438.6,137 L447.5,141.8 L445.5,152.7" fill="none" stroke="#222222" stroke-width="0.95" stroke-linejoin="round" stroke-linecap="round"/>
<path d="M439.2,139 L445.6,142.5" fill="none" stroke="#222222" stroke-width="0.95" stroke-linejoin="round" stroke-linecap="round"/>
<path d="M438.6,137 L437.5,126.1" fill="none" stroke="#222222" stroke-width="0.95" stroke-linejoin="round" stroke-linecap="round"/>
<path d="M446.5,170.5 L451.6,180.7 L444.1,186.8 L434.5,181.4 L435.9,171.5" fill="none" stroke="#222222" stroke-width="0.95" stroke-linejoin="round" stroke-linecap="round"/>
<path d="M443.5,184.8 L436.6,180.8" fill="none" stroke="#222222" stroke-width="0.95" stroke-linejoin="round" stroke-linecap="round"/>
<path d="M450.9,160.9 L461.1,160.2" fill="none" stroke="#222222" stroke-width="0.95" stroke-linejoin="round" stroke-linecap="round"/>
<path d="M461.1,160.2 L465.9,151.6 L476.1,153.4 L477.3,163.7 L468.6,168.4 L461.1,160.2" fill="none" stroke="#222222" stroke-width="0.95" stroke-linejoin="round" stroke-linecap="round"/>
<path d="M463.1,159.8 L466.6,153.6" fill="none" stroke="#222222" stroke-width="0.95" stroke-linejoin="round" stroke-linecap="round"/>
<path d="M474.8,155 L475.6,162.4" fill="none" stroke="#222222" stroke-width="0.95" stroke-linejoin="round" stroke-linecap="round"/>
<path d="M477.3,163.7 L486.6,168.9 L495.6,163.7 L504.8,169.2 L513.9,163.7 L522.9,169.2 L531.9,163.7" fill="none" stroke="#222222" stroke-width="0.95" stroke-linejoin="round" stroke-linecap="round"/>
<path d="M495.6,163.7 L495.6,153.7 L504.8,148.1" fill="none" stroke="#222222" stroke-width="0.95" stroke-linejoin="round" stroke-linecap="round"/>
<path d="M429.8,163.4 L420.2,165" fill="none" stroke="#222222" stroke-width="0.95" stroke-linejoin="round" stroke-linecap="round"/>
<path d="M420.2,165 L413.4,156.5 L403.7,160.8 L405.2,171.1 L415.5,173.2 L420.2,165" fill="none" stroke="#222222" stroke-width="0.95" stroke-linejoin="round" stroke-linecap="round"/>
<path d="M405.4,162 L406.5,169.5" fill="none" stroke="#222222" stroke-width="0.95" stroke-linejoin="round" stroke-linecap="round"/>
<path d="M414.8,171.3 L418.3,165.4" fill="none" stroke="#222222" stroke-width="0.95" stroke-linejoin="round" stroke-linecap="round"/>
<path d="M403.7,160.8 L395,155.2 L386,160.8 L377.2,155.2 L368.1,160.8 L358.9,155.2 L349.9,160.8" fill="none" stroke="#222222" stroke-width="0.95" stroke-linejoin="round" stroke-linecap="round"/>
<path d="M386,160.8 L386,171 L377.2,176.5" fill="none" stroke="#222222" stroke-width="0.95" stroke-linejoin="round" stroke-linecap="round"/>
<path d="M444.1,186.8 L444.6,196.9" fill="none" stroke="#222222" stroke-width="0.95" stroke-linejoin="round" stroke-linecap="round"/>
<path d="M444.6,196.9 L436.6,204.9 L441.1,213.7 L451.5,211.8 L453.6,202.5 L444.6,196.9" fill="none" stroke="#222222" stroke-width="0.95" stroke-linejoin="round" stroke-linecap="round"/>
<path d="M453.6,202.5 L463.5,200.9 L467.6,210.5 L460.7,217.7 L451.5,211.8" fill="none" stroke="#222222" stroke-width="0.95" stroke-linejoin="round" stroke-linecap="round"/>
<path d="M445.1,198.9 L451.5,203" fill="none" stroke="#222222" stroke-width="0.95" stroke-linejoin="round" stroke-linecap="round"/>
<path d="M442.2,212 L449.8,210.6" fill="none" stroke="#222222" stroke-width="0.95" stroke-linejoin="round" stroke-linecap="round"/>
<path d="M465.5,210.5 L460.5,215.7" fill="none" stroke="#222222" stroke-width="0.95" stroke-linejoin="round" stroke-linecap="round"/>
<path d="M441.1,213.7 L436.2,221.4" fill="none" stroke="#222222" stroke-width="0.95" stroke-linejoin="round" stroke-linecap="round"/>
<circle cx="435.9" cy="222.1" r="0.7" fill="#222222"/>
<path d="M460.7,217.7 L460.8,222.8" fill="none" stroke="#222222" stroke-width="0.95" stroke-linejoin="round" stroke-linecap="round"/>
<path d="M460.8,222.8 L461,227.9" fill="none" stroke="#35c4e6" stroke-width="0.95" stroke-linejoin="round" stroke-linecap="round"/>
<path d="M467.6,210.5 L477.7,213.4" fill="none" stroke="#222222" stroke-width="0.95" stroke-linejoin="round" stroke-linecap="round"/>
<path d="M477.7,213.4 L481.2,209.5" fill="none" stroke="#222222" stroke-width="0.95" stroke-linejoin="round" stroke-linecap="round"/>
<path d="M481.2,209.5 L484.7,205.7" fill="none" stroke="#ff4a2b" stroke-width="0.95" stroke-linejoin="round" stroke-linecap="round"/>
<path d="M476.6,212.5 L480.2,208.6" fill="none" stroke="#222222" stroke-width="0.95" stroke-linejoin="round" stroke-linecap="round"/>
<path d="M480.2,208.6 L483.7,204.7" fill="none" stroke="#ff4a2b" stroke-width="0.95" stroke-linejoin="round" stroke-linecap="round"/>
<path d="M477.7,213.4 L479.3,218.2" fill="none" stroke="#222222" stroke-width="0.95" stroke-linejoin="round" stroke-linecap="round"/>
<path d="M479.3,218.2 L480.9,223" fill="none" stroke="#ff4a2b" stroke-width="0.95" stroke-linejoin="round" stroke-linecap="round"/>
<path d="M490.8,224.6 L485.9,223.8" fill="none" stroke="#222222" stroke-width="0.95" stroke-linejoin="round" stroke-linecap="round"/>
<path d="M485.9,223.8 L480.9,223" fill="none" stroke="#ff4a2b" stroke-width="0.95" stroke-linejoin="round" stroke-linecap="round"/>
<path d="M490.8,224.6 L494.9,235.4 L504.5,237.5 L508.5,246.6 L518.1,249.1 L521.4,258.7" fill="none" stroke="#222222" stroke-width="0.95" stroke-linejoin="round" stroke-linecap="round"/>
<path d="M494.9,235.4 L488,242.6 L490.5,252.3" fill="none" stroke="#222222" stroke-width="0.95" stroke-linejoin="round" stroke-linecap="round"/>
<circle cx="430.7" cy="144.8" r="2.6" fill="#fff"/>
<text x="430.7" y="147" font-family='"Liberation Sans", "DejaVu Sans", sans-serif' font-size="6.1" text-anchor="middle" fill="#d6c31e">S</text>
<circle cx="451.6" cy="180.7" r="2.6" fill="#fff"/>
<text x="451.6" y="182.8" font-family='"Liberation Sans", "DejaVu Sans", sans-serif' font-size="6.1" text-anchor="middle" fill="#d6c31e">S</text>
<circle cx="468.6" cy="168.4" r="2.6" fill="#fff"/>
<text x="468.6" y="170.6" font-family='"Liberation Sans", "DejaVu Sans", sans-serif' font-size="6.1" text-anchor="middle" fill="#d6c31e">S</text>
<circle cx="413.4" cy="156.5" r="2.6" fill="#fff"/>
<text x="413.4" y="158.7" font-family='"Liberation Sans", "DejaVu Sans", sans-serif' font-size="6.1" text-anchor="middle" fill="#d6c31e">S</text>
<circle cx="436.6" cy="204.9" r="2.6" fill="#fff"/>
<text x="436.6" y="207" font-family='"Liberation Sans", "DejaVu Sans", sans-serif' font-size="6.1" text-anchor="middle" fill="#d6c31e">S</text>
<circle cx="463.5" cy="200.9" r="2.6" fill="#fff"/>
<text x="463.5" y="203" font-family='"Liberation Sans", "DejaVu Sans", sans-serif' font-size="6.1" text-anchor="middle" fill="#d6c31e">S</text>
<circle cx="461" cy="227.9" r="3.0" fill="#fff"/>
<text x="461" y="230.2" font-family='"Liberation Sans", "DejaVu Sans", sans-serif' font-size="6.4" text-anchor="middle" fill="#35c4e6">F</text>
<circle cx="484.7" cy="205.7" r="2.6" fill="#fff"/>
<text x="484.7" y="207.8" font-family='"Liberation Sans", "DejaVu Sans", sans-serif' font-size="6.1" text-anchor="middle" fill="#ff4a2b">O</text>
<circle cx="480.9" cy="223" r="2.6" fill="#fff"/>
<text x="480.9" y="225.2" font-family='"Liberation Sans", "DejaVu Sans", sans-serif' font-size="6.1" text-anchor="middle" fill="#ff4a2b">O</text>
<text x="461.3" y="246.6" font-family='"Liberation Serif", "DejaVu Serif", serif' font-size="13.2" font-weight="bold" text-anchor="middle" fill="#000">D2</text>
<path d="M575.2,84.8 L583.2,80.4 L590.6,85.1 L590.6,93.9 L583.2,98.2 L576.7,93.6Z" fill="none" stroke="#222222" stroke-width="0.95" stroke-linejoin="round" stroke-linecap="round"/>
<path d="M577,85.5 L582.8,82.3" fill="none" stroke="#222222" stroke-width="0.95" stroke-linejoin="round" stroke-linecap="round"/>
<path d="M589.1,86.3 L589.1,92.6" fill="none" stroke="#222222" stroke-width="0.95" stroke-linejoin="round" stroke-linecap="round"/>
<path d="M583.2,96.4 L578.5,93" fill="none" stroke="#222222" stroke-width="0.95" stroke-linejoin="round" stroke-linecap="round"/>
<path d="M590.6,93.9 L598.6,97.5 L599.3,106.3 L591.3,110.2 L583.2,106.3 L583.2,98.2Z" fill="none" stroke="#222222" stroke-width="0.95" stroke-linejoin="round" stroke-linecap="round"/>
<path d="M591.1,95.7 L596.9,98.4" fill="none" stroke="#222222" stroke-width="0.95" stroke-linejoin="round" stroke-linecap="round"/>
<path d="M597.5,105.5 L591.8,108.3" fill="none" stroke="#222222" stroke-width="0.95" stroke-linejoin="round" stroke-linecap="round"/>
<path d="M584.7,105.2 L584.7,99.4" fill="none" stroke="#222222" stroke-width="0.95" stroke-linejoin="round" stroke-linecap="round"/>
<path d="M575.2,84.8 L566.4,82.5 L561,88.3 L567.5,96.1 L576.7,93.6" fill="none" stroke="#222222" stroke-width="0.95" stroke-linejoin="round" stroke-linecap="round"/>
<path d="M566.8,84.3 L562.9,88.5" fill="none" stroke="#222222" stroke-width="0.95" stroke-linejoin="round" stroke-linecap="round"/>
<path d="M566.4,82.5 L562,74.9 L553.3,77.8 L552.5,85.1 L561,88.3" fill="none" stroke="#222222" stroke-width="0.95" stroke-linejoin="round" stroke-linecap="round"/>
<path d="M551.7,78.7 L551.2,83.9" fill="none" stroke="#222222" stroke-width="0.95" stroke-linejoin="round" stroke-linecap="round"/>
<path d="M553.3,77.8 L546,74.9 L540.1,81.4 L546,88.7 L552.5,85.1" fill="none" stroke="#222222" stroke-width="0.95" stroke-linejoin="round" stroke-linecap="round"/>
<path d="M546.3,76.8 L542.1,81.5" fill="none" stroke="#222222" stroke-width="0.95" stroke-linejoin="round" stroke-linecap="round"/>
<path d="M598.6,97.5 L605.9,94.6 L610.7,101.9 L606.6,109.2 L599.3,106.3" fill="none" stroke="#222222" stroke-width="0.95" stroke-linejoin="round" stroke-linecap="round"/>
<path d="M608.8,102.2 L605.9,107.5" fill="none" stroke="#222222" stroke-width="0.95" stroke-linejoin="round" stroke-linecap="round"/>
<path d="M610.7,101.9 L619.1,105.3 L619.8,113.6 L610.8,116.8 L606.6,109.2" fill="none" stroke="#222222" stroke-width="0.95" stroke-linejoin="round" stroke-linecap="round"/>
<path d="M620.7,106.3 L621.2,112.3" fill="none" stroke="#222222" stroke-width="0.95" stroke-linejoin="round" stroke-linecap="round"/>
<path d="M619.1,105.3 L627.8,102.6 L632.8,109.6 L627.7,116 L619.8,113.6" fill="none" stroke="#222222" stroke-width="0.95" stroke-linejoin="round" stroke-linecap="round"/>
<path d="M630.9,109.5 L627.2,114.2" fill="none" stroke="#222222" stroke-width="0.95" stroke-linejoin="round" stroke-linecap="round"/>
<path d="M583.2,80.4 L584,74.1 L591.3,70.5 L598.6,74.1 L605.9,70.5 L613.2,73.4 L620.5,68.3" fill="none" stroke="#222222" stroke-width="0.95" stroke-linejoin="round" stroke-linecap="round"/>
<path d="M591.3,110.2 L588.9,117.3 L581.5,120.2 L574.2,117.3 L566.9,121.6 L559.6,118.3 L552.3,123.4" fill="none" stroke="#222222" stroke-width="0.95" stroke-linejoin="round" stroke-linecap="round"/>
<path d="M551.4,50.9 L559.7,51.9 L563.4,59.6 L558.3,67 L549.9,65.8 L546.1,57.7Z" fill="none" stroke="#222222" stroke-width="0.95" stroke-linejoin="round" stroke-linecap="round"/>
<path d="M552.4,52.5 L558.4,53.2" fill="none" stroke="#222222" stroke-width="0.95" stroke-linejoin="round" stroke-linecap="round"/>
<path d="M561.4,59.8 L557.8,65.1" fill="none" stroke="#222222" stroke-width="0.95" stroke-linejoin="round" stroke-linecap="round"/>
<path d="M550.8,64 L548,58.2" fill="none" stroke="#222222" stroke-width="0.95" stroke-linejoin="round" stroke-linecap="round"/>
<path d="M558.3,67 L562,74.9" fill="none" stroke="#222222" stroke-width="0.95" stroke-linejoin="round" stroke-linecap="round"/>
<path d="M551.4,50.9 L548,43.1 L553.9,35.8 L549.9,28.1 L554.9,21.2 L551.4,13.2 L556.4,6.1" fill="none" stroke="#222222" stroke-width="0.95" stroke-linejoin="round" stroke-linecap="round"/>
<path d="M570,59.9 L576.5,55.3 L583.9,58.5 L584.2,67.3 L577.3,71.9 L570,68.7Z" fill="none" stroke="#222222" stroke-width="0.95" stroke-linejoin="round" stroke-linecap="round"/>
<path d="M571.8,60.5 L576.5,57.1" fill="none" stroke="#222222" stroke-width="0.95" stroke-linejoin="round" stroke-linecap="round"/>
<path d="M582.4,59.8 L582.6,66.1" fill="none" stroke="#222222" stroke-width="0.95" stroke-linejoin="round" stroke-linecap="round"/>
<path d="M576.9,70.1 L571.6,67.8" fill="none" stroke="#222222" stroke-width="0.95" stroke-linejoin="round" stroke-linecap="round"/>
<path d="M570,68.7 L562,74.9" fill="none" stroke="#222222" stroke-width="0.95" stroke-linejoin="round" stroke-linecap="round"/>
<path d="M583.9,58.5 L591.5,54.4 L599.2,59.6 L607,56.3 L614.6,61.1 L622.6,57.7 L629.9,62.9" fill="none" stroke="#222222" stroke-width="0.95" stroke-linejoin="round" stroke-linecap="round"/>
<path d="M604.2,122.2 L603.5,131.4 L596.2,135.8 L588.9,132.2 L588.9,123.4 L596.2,118.7Z" fill="none" stroke="#222222" stroke-width="0.95" stroke-linejoin="round" stroke-linecap="round"/>
<path d="M602.6,123.4 L602.1,130" fill="none" stroke="#222222" stroke-width="0.95" stroke-linejoin="round" stroke-linecap="round"/>
<path d="M595.8,134 L590.6,131.3" fill="none" stroke="#222222" stroke-width="0.95" stroke-linejoin="round" stroke-linecap="round"/>
<path d="M590.7,124 L596,120.6" fill="none" stroke="#222222" stroke-width="0.95" stroke-linejoin="round" stroke-linecap="round"/>
<path d="M604.2,122.2 L610.8,116.8" fill="none" stroke="#222222" stroke-width="0.95" stroke-linejoin="round" stroke-linecap="round"/>
<path d="M588.9,132.2 L581.8,136.3 L580.8,143.9 L573.9,148 L573.5,155.8 L564.7,160.2 L564.7,168.7" fill="none" stroke="#222222" stroke-width="0.95" stroke-linejoin="round" stroke-linecap="round"/>
<path d="M614,124.9 L623.2,126.3 L626.9,134.4 L621,140.2 L612.3,138.3 L609.3,131Z" fill="none" stroke="#222222" stroke-width="0.95" stroke-linejoin="round" stroke-linecap="round"/>
<path d="M615.1,126.5 L621.7,127.6" fill="none" stroke="#222222" stroke-width="0.95" stroke-linejoin="round" stroke-linecap="round"/>
<path d="M625,134.1 L620.8,138.3" fill="none" stroke="#222222" stroke-width="0.95" stroke-linejoin="round" stroke-linecap="round"/>
<path d="M613.2,136.7 L611.1,131.5" fill="none" stroke="#222222" stroke-width="0.95" stroke-linejoin="round" stroke-linecap="round"/>
<path d="M614,124.9 L610.8,116.8" fill="none" stroke="#222222" stroke-width="0.95" stroke-linejoin="round" stroke-linecap="round"/>
<path d="M621,140.2 L624.7,148 L633.5,149.4 L637.4,156.7 L645.9,158.2 L649.5,165.1 L657.6,166.1" fill="none" stroke="#222222" stroke-width="0.95" stroke-linejoin="round" stroke-linecap="round"/>
<path d="M540.1,81.4 L532.4,82.1 L527.7,88.9" fill="none" stroke="#222222" stroke-width="0.95" stroke-linejoin="round" stroke-linecap="round"/>
<path d="M533.3,83.2 L529.1,89.4" fill="none" stroke="#222222" stroke-width="0.95" stroke-linejoin="round" stroke-linecap="round"/>
<path d="M527.7,88.9 L531,97.4 L524.4,102.5 L516.3,98.1 L517.8,90.1 L527.7,88.9" fill="none" stroke="#222222" stroke-width="0.95" stroke-linejoin="round" stroke-linecap="round"/>
<path d="M531,97.4 L534.8,98.1" fill="none" stroke="#222222" stroke-width="0.95" stroke-linejoin="round" stroke-linecap="round"/>
<path d="M534.8,98.1 L538.6,98.9" fill="none" stroke="#ff4a2b" stroke-width="0.95" stroke-linejoin="round" stroke-linecap="round"/>
<path d="M530.7,98.7 L534.5,99.4" fill="none" stroke="#222222" stroke-width="0.95" stroke-linejoin="round" stroke-linecap="round"/>
<path d="M534.5,99.4 L538.3,100.2" fill="none" stroke="#ff4a2b" stroke-width="0.95" stroke-linejoin="round" stroke-linecap="round"/>
<path d="M516.3,98.1 L524.4,102.5 L523.9,111.3 L516.3,115.7 L508.7,111.7 L508.7,103.3Z" fill="none" stroke="#222222" stroke-width="0.95" stroke-linejoin="round" stroke-linecap="round"/>
<path d="M522.8,103.7 L522.5,110" fill="none" stroke="#222222" stroke-width="0.95" stroke-linejoin="round" stroke-linecap="round"/>
<path d="M516,113.8 L510.5,111" fill="none" stroke="#222222" stroke-width="0.95" stroke-linejoin="round" stroke-linecap="round"/>
<path d="M510.6,103.8 L516.1,100.1" fill="none" stroke="#222222" stroke-width="0.95" stroke-linejoin="round" stroke-linecap="round"/>
<path d="M508.7,111.7 L505.2,113.4" fill="none" stroke="#222222" stroke-width="0.95" stroke-linejoin="round" stroke-linecap="round"/>
<path d="M505.2,113.4 L501.7,115.1" fill="none" stroke="#35c4e6" stroke-width="0.95" stroke-linejoin="round" stroke-linecap="round"/>
<path d="M516.3,115.7 L516.2,119.6" fill="none" stroke="#222222" stroke-width="0.95" stroke-linejoin="round" stroke-linecap="round"/>
<path d="M516.2,119.6 L516,123.4" fill="none" stroke="#35c4e6" stroke-width="0.95" stroke-linejoin="round" stroke-linecap="round"/>
<path d="M517.8,90.1 L512.7,83.1" fill="none" stroke="#222222" stroke-width="0.95" stroke-linejoin="round" stroke-linecap="round"/>
<path d="M516.4,90.6 L511.8,84.3" fill="none" stroke="#222222" stroke-width="0.95" stroke-linejoin="round" stroke-linecap="round"/>
<path d="M512.7,83.1 L516,74" fill="none" stroke="#222222" stroke-width="0.95" stroke-linejoin="round" stroke-linecap="round"/>
<path d="M512.7,83.1 L503.9,85.7" fill="none" stroke="#222222" stroke-width="0.95" stroke-linejoin="round" stroke-linecap="round"/>
<path d="M516,74 L517.1,70.8" fill="none" stroke="#222222" stroke-width="0.95" stroke-linejoin="round" stroke-linecap="round"/>
<path d="M517.1,70.8 L518.2,67.6" fill="none" stroke="#3a86ff" stroke-width="0.95" stroke-linejoin="round" stroke-linecap="round"/>
<path d="M515,73.7 L516.1,70.4" fill="none" stroke="#222222" stroke-width="0.95" stroke-linejoin="round" stroke-linecap="round"/>
<path d="M516.1,70.4 L517.2,67.2" fill="none" stroke="#3a86ff" stroke-width="0.95" stroke-linejoin="round" stroke-linecap="round"/>
<path d="M517.1,74.4 L518.2,71.2" fill="none" stroke="#222222" stroke-width="0.95" stroke-linejoin="round" stroke-linecap="round"/>
<path d="M518.2,71.2 L519.3,67.9" fill="none" stroke="#3a86ff" stroke-width="0.95" stroke-linejoin="round" stroke-linecap="round"/>
<path d="M503.9,85.7 L500,86.4" fill="none" stroke="#222222" stroke-width="0.95" stroke-linejoin="round" stroke-linecap="round"/>
<path d="M500,86.4 L496.1,87.2" fill="none" stroke="#3a86ff" stroke-width="0.95" stroke-linejoin="round" stroke-linecap="round"/>
<path d="M504.1,86.8 L500.2,87.5" fill="none" stroke="#222222" stroke-width="0.95" stroke-linejoin="round" stroke-linecap="round"/>
<path d="M500.2,87.5 L496.3,88.3" fill="none" stroke="#3a86ff" stroke-width="0.95" stroke-linejoin="round" stroke-linecap="round"/>
<path d="M503.7,84.6 L499.8,85.4" fill="none" stroke="#222222" stroke-width="0.95" stroke-linejoin="round" stroke-linecap="round"/>
<path d="M499.8,85.4 L495.9,86.1" fill="none" stroke="#3a86ff" stroke-width="0.95" stroke-linejoin="round" stroke-linecap="round"/>
<path d="M632.8,109.6 L640.8,109.6 L645.7,117.5" fill="none" stroke="#222222" stroke-width="0.95" stroke-linejoin="round" stroke-linecap="round"/>
<path d="M639.9,110.7 L644.2,117.8" fill="none" stroke="#222222" stroke-width="0.95" stroke-linejoin="round" stroke-linecap="round"/>
<path d="M645.7,117.5 L642.7,125.7 L648.9,131.5 L656.9,127.1 L654.7,118.3 L645.7,117.5" fill="none" stroke="#222222" stroke-width="0.95" stroke-linejoin="round" stroke-linecap="round"/>
<path d="M642.7,125.7 L638.5,126.4" fill="none" stroke="#222222" stroke-width="0.95" stroke-linejoin="round" stroke-linecap="round"/>
<path d="M638.5,126.4 L634.3,127.1" fill="none" stroke="#ff4a2b" stroke-width="0.95" stroke-linejoin="round" stroke-linecap="round"/>
<path d="M642.5,124.4 L638.3,125.1" fill="none" stroke="#222222" stroke-width="0.95" stroke-linejoin="round" stroke-linecap="round"/>
<path d="M638.3,125.1 L634,125.8" fill="none" stroke="#ff4a2b" stroke-width="0.95" stroke-linejoin="round" stroke-linecap="round"/>
<path d="M656.9,127.1 L664.2,131.8 L664.2,140.3 L656.9,144.2 L649.3,139.8 L648.9,131.5Z" fill="none" stroke="#222222" stroke-width="0.95" stroke-linejoin="round" stroke-linecap="round"/>
<path d="M657.1,129 L662.4,132.4" fill="none" stroke="#222222" stroke-width="0.95" stroke-linejoin="round" stroke-linecap="round"/>
<path d="M662.5,139.5 L657.2,142.4" fill="none" stroke="#222222" stroke-width="0.95" stroke-linejoin="round" stroke-linecap="round"/>
<path d="M650.8,138.6 L650.4,132.6" fill="none" stroke="#222222" stroke-width="0.95" stroke-linejoin="round" stroke-linecap="round"/>
<path d="M664.2,140.3 L667.7,142.2" fill="none" stroke="#222222" stroke-width="0.95" stroke-linejoin="round" stroke-linecap="round"/>
<path d="M667.7,142.2 L671.1,144.1" fill="none" stroke="#35c4e6" stroke-width="0.95" stroke-linejoin="round" stroke-linecap="round"/>
<path d="M656.9,144.2 L656.3,148.5" fill="none" stroke="#222222" stroke-width="0.95" stroke-linejoin="round" stroke-linecap="round"/>
<path d="M656.3,148.5 L655.7,152.9" fill="none" stroke="#35c4e6" stroke-width="0.95" stroke-linejoin="round" stroke-linecap="round"/>
<path d="M654.7,118.3 L661.3,112.1" fill="none" stroke="#222222" stroke-width="0.95" stroke-linejoin="round" stroke-linecap="round"/>
<path d="M656,119 L661.9,113.4" fill="none" stroke="#222222" stroke-width="0.95" stroke-linejoin="round" stroke-linecap="round"/>
<path d="M661.3,112.1 L657.9,102.3" fill="none" stroke="#222222" stroke-width="0.95" stroke-linejoin="round" stroke-linecap="round"/>
<path d="M661.3,112.1 L670.1,114" fill="none" stroke="#222222" stroke-width="0.95" stroke-linejoin="round" stroke-linecap="round"/>
<path d="M657.9,102.3 L656.7,98.9" fill="none" stroke="#222222" stroke-width="0.95" stroke-linejoin="round" stroke-linecap="round"/>
<path d="M656.7,98.9 L655.5,95.5" fill="none" stroke="#3a86ff" stroke-width="0.95" stroke-linejoin="round" stroke-linecap="round"/>
<path d="M656.9,102.6 L655.7,99.3" fill="none" stroke="#222222" stroke-width="0.95" stroke-linejoin="round" stroke-linecap="round"/>
<path d="M655.7,99.3 L654.4,95.9" fill="none" stroke="#3a86ff" stroke-width="0.95" stroke-linejoin="round" stroke-linecap="round"/>
<path d="M659,101.9 L657.7,98.5" fill="none" stroke="#222222" stroke-width="0.95" stroke-linejoin="round" stroke-linecap="round"/>
<path d="M657.7,98.5 L656.5,95.1" fill="none" stroke="#3a86ff" stroke-width="0.95" stroke-linejoin="round" stroke-linecap="round"/>
<path d="M670.1,114 L673.5,114.7" fill="none" stroke="#222222" stroke-width="0.95" stroke-linejoin="round" stroke-linecap="round"/>
<path d="M673.5,114.7 L677,115.4" fill="none" stroke="#3a86ff" stroke-width="0.95" stroke-linejoin="round" stroke-linecap="round"/>
<path d="M670.3,112.9 L673.7,113.6" fill="none" stroke="#222222" stroke-width="0.95" stroke-linejoin="round" stroke-linecap="round"/>
<path d="M673.7,113.6 L677.2,114.3" fill="none" stroke="#3a86ff" stroke-width="0.95" stroke-linejoin="round" stroke-linecap="round"/>
<path d="M669.9,115 L673.3,115.8" fill="none" stroke="#222222" stroke-width="0.95" stroke-linejoin="round" stroke-linecap="round"/>
<path d="M673.3,115.8 L676.7,116.5" fill="none" stroke="#3a86ff" stroke-width="0.95" stroke-linejoin="round" stroke-linecap="round"/>
<circle cx="546" cy="88.7" r="2.6" fill="#fff"/>
<text x="546" y="90.9" font-family='"Liberation Sans", "DejaVu Sans", sans-serif' font-size="6.1" text-anchor="middle" fill="#d6c31e">S</text>
<circle cx="567.5" cy="96.1" r="2.6" fill="#fff"/>
<text x="567.5" y="98.2" font-family='"Liberation Sans", "DejaVu Sans", sans-serif' font-size="6.1" text-anchor="middle" fill="#d6c31e">S</text>
<circle cx="605.9" cy="94.6" r="2.6" fill="#fff"/>
<text x="605.9" y="96.7" font-family='"Liberation Sans", "DejaVu Sans", sans-serif' font-size="6.1" text-anchor="middle" fill="#d6c31e">S</text>
<circle cx="627.8" cy="102.6" r="2.6" fill="#fff"/>
<text x="627.8" y="104.8" font-family='"Liberation Sans", "DejaVu Sans", sans-serif' font-size="6.1" text-anchor="middle" fill="#d6c31e">S</text>
<circle cx="538.6" cy="98.9" r="2.4" fill="#fff"/>
<text x="538.6" y="101" font-family='"Liberation Sans", "DejaVu Sans", sans-serif' font-size="6.4" text-anchor="middle" fill="#ff4a2b">O</text>
<circle cx="634.3" cy="127.1" r="2.4" fill="#fff"/>
<text x="634.3" y="129.3" font-family='"Liberation Sans", "DejaVu Sans", sans-serif' font-size="6.4" text-anchor="middle" fill="#ff4a2b">O</text>
<circle cx="501.7" cy="115.1" r="2.7" fill="#fff"/>
<text x="501.7" y="117.3" font-family='"Liberation Sans", "DejaVu Sans", sans-serif' font-size="6.2" text-anchor="middle" fill="#35c4e6">F</text>
<circle cx="516" cy="123.4" r="2.7" fill="#fff"/>
<text x="516" y="125.6" font-family='"Liberation Sans", "DejaVu Sans", sans-serif' font-size="6.2" text-anchor="middle" fill="#35c4e6">F</text>
<circle cx="671.1" cy="144.1" r="2.7" fill="#fff"/>
<text x="671.1" y="146.3" font-family='"Liberation Sans", "DejaVu Sans", sans-serif' font-size="6.2" text-anchor="middle" fill="#35c4e6">F</text>
<circle cx="655.7" cy="152.9" r="2.7" fill="#fff"/>
<text x="655.7" y="155.1" font-family='"Liberation Sans", "DejaVu Sans", sans-serif' font-size="6.2" text-anchor="middle" fill="#35c4e6">F</text>
<circle cx="518.2" cy="67.6" r="1.9" fill="#fff"/>
<text x="518.2" y="69.6" font-family='"Liberation Sans", "DejaVu Sans", sans-serif' font-size="5.6" text-anchor="middle" fill="#3a86ff">N</text>
<circle cx="496.1" cy="87.2" r="1.9" fill="#fff"/>
<text x="496.1" y="89.2" font-family='"Liberation Sans", "DejaVu Sans", sans-serif' font-size="5.6" text-anchor="middle" fill="#3a86ff">N</text>
<circle cx="655.5" cy="95.5" r="1.9" fill="#fff"/>
<text x="655.5" y="97.5" font-family='"Liberation Sans", "DejaVu Sans", sans-serif' font-size="5.6" text-anchor="middle" fill="#3a86ff">N</text>
<circle cx="677" cy="115.4" r="1.9" fill="#fff"/>
<text x="677" y="117.4" font-family='"Liberation Sans", "DejaVu Sans", sans-serif' font-size="5.6" text-anchor="middle" fill="#3a86ff">N</text>
<text x="601.3" y="165.3" font-family='"Liberation Serif", "DejaVu Serif", serif' font-size="13.2" font-weight="bold" text-anchor="middle" fill="#000">A5</text>
</g>
</svg>
</div>
</body></html>
